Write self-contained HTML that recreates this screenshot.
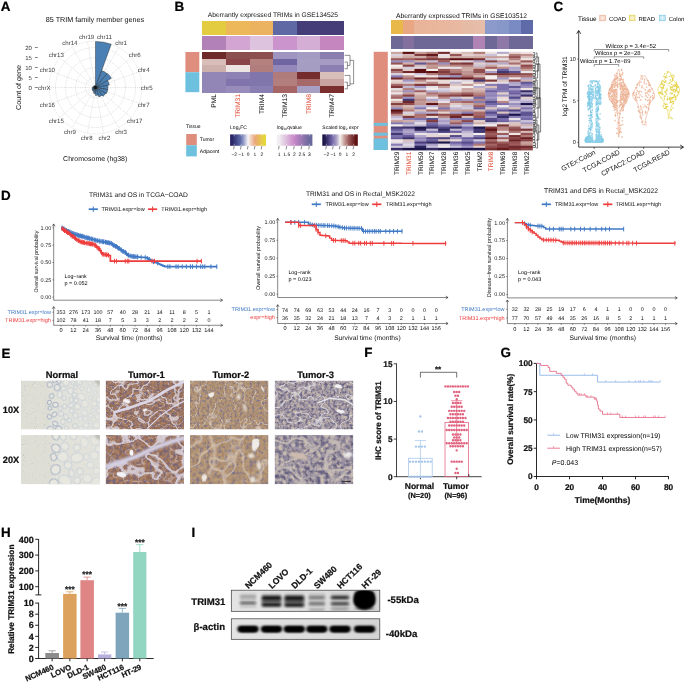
<!DOCTYPE html>
<html lang="en">
<head>
<meta charset="utf-8">
<title>TRIM31 figure</title>
<style>
html,body{margin:0;padding:0;background:#fff;}
body{width:685px;height:684px;overflow:hidden;}
svg{display:block;font-family:"Liberation Sans",Arial,Helvetica,sans-serif;text-rendering:geometricPrecision;}
</style>
</head>
<body>
<svg width="685" height="684" viewBox="0 0 685 684">
<rect x="0" y="0" width="685" height="684" fill="#ffffff"/>
<g id="panelA">
<text x="0.80" y="11.20" font-size="13.4" font-weight="bold" stroke="#000" stroke-width="0.22" fill="#000">A</text>
<text x="95.00" y="22.40" font-size="7.21" text-anchor="middle" fill="#111">85 TRIM family member  genes</text>
<circle cx="95.5" cy="87.5" r="10.00" fill="none" stroke="#bdbdbd" stroke-width="0.5" stroke-dasharray="0.9 0.9"/>
<circle cx="95.5" cy="87.5" r="20.00" fill="none" stroke="#bdbdbd" stroke-width="0.5" stroke-dasharray="0.9 0.9"/>
<circle cx="95.5" cy="87.5" r="30.00" fill="none" stroke="#bdbdbd" stroke-width="0.5" stroke-dasharray="0.9 0.9"/>
<circle cx="95.5" cy="87.5" r="40.00" fill="none" stroke="#bdbdbd" stroke-width="0.5" stroke-dasharray="0.9 0.9"/>
<circle cx="95.5" cy="87.5" r="46.40" fill="none" stroke="#c4c4c4" stroke-width="0.5" stroke-dasharray="0.9 0.9"/>
<line x1="95.50" y1="87.50" x2="103.56" y2="41.80" stroke="#c0c0c0" stroke-width="0.5" stroke-dasharray="0.9 0.9"/>
<line x1="95.50" y1="87.50" x2="118.70" y2="47.32" stroke="#c0c0c0" stroke-width="0.5" stroke-dasharray="0.9 0.9"/>
<line x1="95.50" y1="87.50" x2="131.04" y2="57.67" stroke="#c0c0c0" stroke-width="0.5" stroke-dasharray="0.9 0.9"/>
<line x1="95.50" y1="87.50" x2="139.10" y2="71.63" stroke="#c0c0c0" stroke-width="0.5" stroke-dasharray="0.9 0.9"/>
<line x1="95.50" y1="87.50" x2="141.90" y2="87.50" stroke="#c0c0c0" stroke-width="0.5" stroke-dasharray="0.9 0.9"/>
<line x1="95.50" y1="87.50" x2="139.10" y2="103.37" stroke="#c0c0c0" stroke-width="0.5" stroke-dasharray="0.9 0.9"/>
<line x1="95.50" y1="87.50" x2="131.04" y2="117.33" stroke="#c0c0c0" stroke-width="0.5" stroke-dasharray="0.9 0.9"/>
<line x1="95.50" y1="87.50" x2="118.70" y2="127.68" stroke="#c0c0c0" stroke-width="0.5" stroke-dasharray="0.9 0.9"/>
<line x1="95.50" y1="87.50" x2="103.56" y2="133.20" stroke="#c0c0c0" stroke-width="0.5" stroke-dasharray="0.9 0.9"/>
<line x1="95.50" y1="87.50" x2="87.44" y2="133.20" stroke="#c0c0c0" stroke-width="0.5" stroke-dasharray="0.9 0.9"/>
<line x1="95.50" y1="87.50" x2="72.30" y2="127.68" stroke="#c0c0c0" stroke-width="0.5" stroke-dasharray="0.9 0.9"/>
<line x1="95.50" y1="87.50" x2="59.96" y2="117.33" stroke="#c0c0c0" stroke-width="0.5" stroke-dasharray="0.9 0.9"/>
<line x1="95.50" y1="87.50" x2="51.90" y2="103.37" stroke="#c0c0c0" stroke-width="0.5" stroke-dasharray="0.9 0.9"/>
<line x1="95.50" y1="87.50" x2="49.10" y2="87.50" stroke="#c0c0c0" stroke-width="0.5" stroke-dasharray="0.9 0.9"/>
<line x1="95.50" y1="87.50" x2="51.90" y2="71.63" stroke="#c0c0c0" stroke-width="0.5" stroke-dasharray="0.9 0.9"/>
<line x1="95.50" y1="87.50" x2="59.96" y2="57.67" stroke="#c0c0c0" stroke-width="0.5" stroke-dasharray="0.9 0.9"/>
<line x1="95.50" y1="87.50" x2="72.30" y2="47.32" stroke="#c0c0c0" stroke-width="0.5" stroke-dasharray="0.9 0.9"/>
<line x1="95.50" y1="87.50" x2="87.44" y2="41.80" stroke="#c0c0c0" stroke-width="0.5" stroke-dasharray="0.9 0.9"/>
<path d="M95.5,87.5 L95.50,41.50 A46.00,46.00 0 0 1 111.23,44.27 Z" fill="#4a80b4" stroke="#1a1a1a" stroke-width="0.4" stroke-linejoin="round"/>
<path d="M95.5,87.5 L101.66,70.59 A18.00,18.00 0 0 1 107.07,73.71 Z" fill="#4a80b4" stroke="#1a1a1a" stroke-width="0.4" stroke-linejoin="round"/>
<path d="M95.5,87.5 L107.33,73.40 A18.40,18.40 0 0 1 111.43,78.30 Z" fill="#4a80b4" stroke="#1a1a1a" stroke-width="0.4" stroke-linejoin="round"/>
<path d="M95.5,87.5 L107.62,80.50 A14.00,14.00 0 0 1 109.29,85.07 Z" fill="#4a80b4" stroke="#1a1a1a" stroke-width="0.4" stroke-linejoin="round"/>
<path d="M95.5,87.5 L107.71,85.35 A12.40,12.40 0 0 1 107.71,89.65 Z" fill="#4a80b4" stroke="#1a1a1a" stroke-width="0.4" stroke-linejoin="round"/>
<path d="M95.5,87.5 L107.71,89.65 A12.40,12.40 0 0 1 106.24,93.70 Z" fill="#4a80b4" stroke="#1a1a1a" stroke-width="0.4" stroke-linejoin="round"/>
<path d="M95.5,87.5 L105.55,93.30 A11.60,11.60 0 0 1 102.96,96.39 Z" fill="#4a80b4" stroke="#1a1a1a" stroke-width="0.4" stroke-linejoin="round"/>
<path d="M95.5,87.5 L101.93,95.16 A10.00,10.00 0 0 1 98.92,96.90 Z" fill="#4a80b4" stroke="#1a1a1a" stroke-width="0.4" stroke-linejoin="round"/>
<path d="M95.5,87.5 L98.24,95.02 A8.00,8.00 0 0 1 95.50,95.50 Z" fill="#4a80b4" stroke="#1a1a1a" stroke-width="0.4" stroke-linejoin="round"/>
<path d="M95.5,87.5 L95.50,93.50 A6.00,6.00 0 0 1 93.45,93.14 Z" fill="#4a80b4" stroke="#1a1a1a" stroke-width="0.4" stroke-linejoin="round"/>
<path d="M95.5,87.5 L94.00,91.63 A4.40,4.40 0 0 1 92.67,90.87 Z" fill="#4a80b4" stroke="#1a1a1a" stroke-width="0.4" stroke-linejoin="round"/>
<path d="M95.5,87.5 L92.93,90.56 A4.00,4.00 0 0 1 92.04,89.50 Z" fill="#4a80b4" stroke="#1a1a1a" stroke-width="0.4" stroke-linejoin="round"/>
<path d="M95.5,87.5 L92.56,89.20 A3.40,3.40 0 0 1 92.15,88.09 Z" fill="#4a80b4" stroke="#1a1a1a" stroke-width="0.4" stroke-linejoin="round"/>
<path d="M95.5,87.5 L92.55,88.02 A3.00,3.00 0 0 1 92.55,86.98 Z" fill="#4a80b4" stroke="#1a1a1a" stroke-width="0.4" stroke-linejoin="round"/>
<path d="M95.5,87.5 L93.14,87.08 A2.40,2.40 0 0 1 93.42,86.30 Z" fill="#4a80b4" stroke="#1a1a1a" stroke-width="0.4" stroke-linejoin="round"/>
<path d="M95.5,87.5 L93.77,86.50 A2.00,2.00 0 0 1 94.21,85.97 Z" fill="#4a80b4" stroke="#1a1a1a" stroke-width="0.4" stroke-linejoin="round"/>
<path d="M95.5,87.5 L94.21,85.97 A2.00,2.00 0 0 1 94.82,85.62 Z" fill="#4a80b4" stroke="#1a1a1a" stroke-width="0.4" stroke-linejoin="round"/>
<path d="M95.5,87.5 L94.82,85.62 A2.00,2.00 0 0 1 95.50,85.50 Z" fill="#4a80b4" stroke="#1a1a1a" stroke-width="0.4" stroke-linejoin="round"/>
<circle cx="95.5" cy="87.5" r="1.6" fill="#111"/>
<text x="104.39" y="39.18" font-size="6.1" text-anchor="middle" fill="#3a3a3a">chr11</text>
<text x="121.10" y="45.26" font-size="6.1" text-anchor="middle" fill="#3a3a3a">chr1</text>
<text x="134.72" y="56.69" font-size="6.1" text-anchor="middle" fill="#3a3a3a">chr6</text>
<text x="143.61" y="72.09" font-size="6.1" text-anchor="middle" fill="#3a3a3a">chr4</text>
<text x="146.70" y="89.60" font-size="6.1" text-anchor="middle" fill="#3a3a3a">chr5</text>
<text x="143.61" y="107.11" font-size="6.1" text-anchor="middle" fill="#3a3a3a">chr7</text>
<text x="134.72" y="122.51" font-size="6.1" text-anchor="middle" fill="#3a3a3a">chr17</text>
<text x="121.10" y="133.94" font-size="6.1" text-anchor="middle" fill="#3a3a3a">chr3</text>
<text x="104.39" y="140.02" font-size="6.1" text-anchor="middle" fill="#3a3a3a">chr2</text>
<text x="86.61" y="140.02" font-size="6.1" text-anchor="middle" fill="#3a3a3a">chr8</text>
<text x="69.90" y="133.94" font-size="6.1" text-anchor="middle" fill="#3a3a3a">chr9</text>
<text x="56.28" y="122.51" font-size="6.1" text-anchor="middle" fill="#3a3a3a">chr15</text>
<text x="47.39" y="107.11" font-size="6.1" text-anchor="middle" fill="#3a3a3a">chr16</text>
<text x="44.30" y="89.60" font-size="6.1" text-anchor="middle" fill="#3a3a3a">chrX</text>
<text x="47.39" y="72.09" font-size="6.1" text-anchor="middle" fill="#3a3a3a">chr10</text>
<text x="56.28" y="56.69" font-size="6.1" text-anchor="middle" fill="#3a3a3a">chr13</text>
<text x="69.90" y="45.26" font-size="6.1" text-anchor="middle" fill="#3a3a3a">chr14</text>
<text x="86.61" y="39.18" font-size="6.1" text-anchor="middle" fill="#3a3a3a">chr19</text>
<text x="31.90" y="89.60" font-size="6.0" text-anchor="end" fill="#3a3a3a">0</text>
<line x1="34.80" y1="87.50" x2="37.80" y2="87.50" stroke="#333" stroke-width="0.6"/>
<text x="31.90" y="79.60" font-size="6.0" text-anchor="end" fill="#3a3a3a">5</text>
<line x1="34.80" y1="77.50" x2="37.80" y2="77.50" stroke="#333" stroke-width="0.6"/>
<text x="31.90" y="69.60" font-size="6.0" text-anchor="end" fill="#3a3a3a">10</text>
<line x1="34.80" y1="67.50" x2="37.80" y2="67.50" stroke="#333" stroke-width="0.6"/>
<text x="31.90" y="59.60" font-size="6.0" text-anchor="end" fill="#3a3a3a">15</text>
<line x1="34.80" y1="57.50" x2="37.80" y2="57.50" stroke="#333" stroke-width="0.6"/>
<text x="31.90" y="49.60" font-size="6.0" text-anchor="end" fill="#3a3a3a">20</text>
<line x1="34.80" y1="47.50" x2="37.80" y2="47.50" stroke="#333" stroke-width="0.6"/>
<text x="20.60" y="87.50" font-size="7.15" text-anchor="middle" fill="#111" transform="rotate(-90 20.60 87.50)">Count of gene</text>
<text x="95.20" y="160.60" font-size="7.0" text-anchor="middle" fill="#111">Chromosome (hg38)</text>
</g>
<g id="panelB">
<text x="174.60" y="11.00" font-size="13.4" font-weight="bold" stroke="#000" stroke-width="0.22" fill="#000">B</text>
<text x="207.80" y="17.40" font-size="6.71" fill="#111">Aberrantly expressed TRIMs in GSE134525</text>
<rect x="202.30" y="20.60" width="23.90" height="14.20" fill="#e3cc3f" shape-rendering="crispEdges"/>
<rect x="202.30" y="36.00" width="23.90" height="13.70" fill="#b281b8" shape-rendering="crispEdges"/>
<rect x="225.90" y="20.60" width="23.90" height="14.20" fill="#edb85a" shape-rendering="crispEdges"/>
<rect x="225.90" y="36.00" width="23.90" height="13.70" fill="#d2a5d2" shape-rendering="crispEdges"/>
<rect x="249.50" y="20.60" width="23.90" height="14.20" fill="#ebb35f" shape-rendering="crispEdges"/>
<rect x="249.50" y="36.00" width="23.90" height="13.70" fill="#ddc3dd" shape-rendering="crispEdges"/>
<rect x="273.10" y="20.60" width="23.90" height="14.20" fill="#5f6aa5" shape-rendering="crispEdges"/>
<rect x="273.10" y="36.00" width="23.90" height="13.70" fill="#cc94cc" shape-rendering="crispEdges"/>
<rect x="296.70" y="20.60" width="23.90" height="14.20" fill="#453d78" shape-rendering="crispEdges"/>
<rect x="296.70" y="36.00" width="23.90" height="13.70" fill="#d4aed4" shape-rendering="crispEdges"/>
<rect x="320.30" y="20.60" width="23.90" height="14.20" fill="#453d78" shape-rendering="crispEdges"/>
<rect x="320.30" y="36.00" width="23.90" height="13.70" fill="#c586c0" shape-rendering="crispEdges"/>
<rect x="202.30" y="52.00" width="23.90" height="7.00" fill="#6e2a2a" shape-rendering="crispEdges"/>
<rect x="225.90" y="52.00" width="23.90" height="7.00" fill="#8c4f4f" shape-rendering="crispEdges"/>
<rect x="249.50" y="52.00" width="23.90" height="7.00" fill="#8c4f4f" shape-rendering="crispEdges"/>
<rect x="273.10" y="52.00" width="23.90" height="7.00" fill="#a094c0" shape-rendering="crispEdges"/>
<rect x="296.70" y="52.00" width="23.90" height="7.00" fill="#a59cc3" shape-rendering="crispEdges"/>
<rect x="320.30" y="52.00" width="23.90" height="7.00" fill="#8b7fb0" shape-rendering="crispEdges"/>
<rect x="202.30" y="58.70" width="23.90" height="7.00" fill="#d9bdb8" shape-rendering="crispEdges"/>
<rect x="225.90" y="58.70" width="23.90" height="7.00" fill="#8a4646" shape-rendering="crispEdges"/>
<rect x="249.50" y="58.70" width="23.90" height="7.00" fill="#b58080" shape-rendering="crispEdges"/>
<rect x="273.10" y="58.70" width="23.90" height="7.00" fill="#6f65a3" shape-rendering="crispEdges"/>
<rect x="296.70" y="58.70" width="23.90" height="7.00" fill="#a79ec4" shape-rendering="crispEdges"/>
<rect x="320.30" y="58.70" width="23.90" height="7.00" fill="#a59bc3" shape-rendering="crispEdges"/>
<rect x="202.30" y="65.40" width="23.90" height="7.00" fill="#cdb0ab" shape-rendering="crispEdges"/>
<rect x="225.90" y="65.40" width="23.90" height="7.00" fill="#ebe4e1" shape-rendering="crispEdges"/>
<rect x="249.50" y="65.40" width="23.90" height="7.00" fill="#b07c7c" shape-rendering="crispEdges"/>
<rect x="273.10" y="65.40" width="23.90" height="7.00" fill="#9488ba" shape-rendering="crispEdges"/>
<rect x="296.70" y="65.40" width="23.90" height="7.00" fill="#a69dc3" shape-rendering="crispEdges"/>
<rect x="320.30" y="65.40" width="23.90" height="7.00" fill="#8c80b2" shape-rendering="crispEdges"/>
<rect x="202.30" y="72.10" width="23.90" height="7.00" fill="#9186b5" shape-rendering="crispEdges"/>
<rect x="225.90" y="72.10" width="23.90" height="7.00" fill="#8d82b3" shape-rendering="crispEdges"/>
<rect x="249.50" y="72.10" width="23.90" height="7.00" fill="#8176ab" shape-rendering="crispEdges"/>
<rect x="273.10" y="72.10" width="23.90" height="7.00" fill="#b07b7b" shape-rendering="crispEdges"/>
<rect x="296.70" y="72.10" width="23.90" height="7.00" fill="#742c2c" shape-rendering="crispEdges"/>
<rect x="320.30" y="72.10" width="23.90" height="7.00" fill="#d9bfba" shape-rendering="crispEdges"/>
<rect x="202.30" y="78.80" width="23.90" height="7.00" fill="#9186b5" shape-rendering="crispEdges"/>
<rect x="225.90" y="78.80" width="23.90" height="7.00" fill="#7f74ab" shape-rendering="crispEdges"/>
<rect x="249.50" y="78.80" width="23.90" height="7.00" fill="#8176ab" shape-rendering="crispEdges"/>
<rect x="273.10" y="78.80" width="23.90" height="7.00" fill="#b27e7e" shape-rendering="crispEdges"/>
<rect x="296.70" y="78.80" width="23.90" height="7.00" fill="#a66868" shape-rendering="crispEdges"/>
<rect x="320.30" y="78.80" width="23.90" height="7.00" fill="#c9a39f" shape-rendering="crispEdges"/>
<rect x="202.30" y="85.50" width="23.90" height="7.00" fill="#9186b5" shape-rendering="crispEdges"/>
<rect x="225.90" y="85.50" width="23.90" height="7.00" fill="#988dba" shape-rendering="crispEdges"/>
<rect x="249.50" y="85.50" width="23.90" height="7.00" fill="#8a7fb2" shape-rendering="crispEdges"/>
<rect x="273.10" y="85.50" width="23.90" height="7.00" fill="#a56565" shape-rendering="crispEdges"/>
<rect x="296.70" y="85.50" width="23.90" height="7.00" fill="#a89fc5" shape-rendering="crispEdges"/>
<rect x="320.30" y="85.50" width="23.90" height="7.00" fill="#7a2e2e" shape-rendering="crispEdges"/>
<rect x="185.40" y="52.00" width="13.90" height="20.20" fill="#df8e7e"/>
<rect x="185.40" y="72.20" width="13.90" height="20.00" fill="#6dc1df"/>
<line x1="344.60" y1="62.05" x2="347.40" y2="62.05" stroke="#333" stroke-width="0.55"/>
<line x1="344.60" y1="68.75" x2="347.40" y2="68.75" stroke="#333" stroke-width="0.55"/>
<line x1="347.40" y1="62.05" x2="347.40" y2="68.75" stroke="#333" stroke-width="0.55"/>
<line x1="344.60" y1="55.35" x2="350.00" y2="55.35" stroke="#333" stroke-width="0.55"/>
<line x1="347.40" y1="65.40" x2="350.00" y2="65.40" stroke="#333" stroke-width="0.55"/>
<line x1="350.00" y1="55.35" x2="350.00" y2="65.40" stroke="#333" stroke-width="0.55"/>
<line x1="344.60" y1="82.15" x2="347.40" y2="82.15" stroke="#333" stroke-width="0.55"/>
<line x1="344.60" y1="88.85" x2="347.40" y2="88.85" stroke="#333" stroke-width="0.55"/>
<line x1="347.40" y1="82.15" x2="347.40" y2="88.85" stroke="#333" stroke-width="0.55"/>
<line x1="350.00" y1="60.38" x2="353.60" y2="60.38" stroke="#333" stroke-width="0.55"/>
<line x1="350.00" y1="83.83" x2="353.60" y2="83.83" stroke="#333" stroke-width="0.55"/>
<line x1="353.60" y1="60.38" x2="353.60" y2="83.83" stroke="#333" stroke-width="0.55"/>
<line x1="347.40" y1="85.50" x2="350.00" y2="85.50" stroke="#333" stroke-width="0.55"/>
<line x1="344.60" y1="75.45" x2="350.00" y2="75.45" stroke="#333" stroke-width="0.55"/>
<line x1="350.00" y1="75.45" x2="350.00" y2="85.50" stroke="#333" stroke-width="0.55"/>
<text x="216.40" y="94.00" font-size="6.7" text-anchor="end" fill="#000" transform="rotate(-90 216.40 94.00)">PML</text>
<text x="240.00" y="94.00" font-size="6.7" text-anchor="end" fill="#e0452e" transform="rotate(-90 240.00 94.00)">TRIM31</text>
<text x="263.60" y="94.00" font-size="6.7" text-anchor="end" fill="#000" transform="rotate(-90 263.60 94.00)">TRIM4</text>
<text x="287.20" y="94.00" font-size="6.7" text-anchor="end" fill="#000" transform="rotate(-90 287.20 94.00)">TRIM13</text>
<text x="310.80" y="94.00" font-size="6.7" text-anchor="end" fill="#e0452e" transform="rotate(-90 310.80 94.00)">TRIM8</text>
<text x="334.40" y="94.00" font-size="6.7" text-anchor="end" fill="#000" transform="rotate(-90 334.40 94.00)">TRIM47</text>
<text x="186.00" y="128.20" font-size="5.0" fill="#000">Tissue</text>
<rect x="186.20" y="134.00" width="10.60" height="11.20" fill="#df8e7e"/>
<rect x="186.20" y="145.20" width="10.60" height="11.20" fill="#6dc1df"/>
<text x="199.80" y="141.20" font-size="5.0" fill="#000">Tumor</text>
<text x="199.80" y="152.60" font-size="5.0" fill="#000">Adjacent</text>
<defs><linearGradient id="gFC" x1="0" x2="1" y1="0" y2="0"><stop offset="0%" stop-color="#282664"/><stop offset="5%" stop-color="#282664"/><stop offset="10%" stop-color="#323371"/><stop offset="15%" stop-color="#3e4180"/><stop offset="20%" stop-color="#4a508f"/><stop offset="25%" stop-color="#565f9e"/><stop offset="30%" stop-color="#626ead"/><stop offset="35%" stop-color="#848dbf"/><stop offset="40%" stop-color="#aaafd1"/><stop offset="45%" stop-color="#d0d2e4"/><stop offset="50%" stop-color="#f6f4f6"/><stop offset="55%" stop-color="#f3dfd5"/><stop offset="60%" stop-color="#f0cbb4"/><stop offset="65%" stop-color="#edb694"/><stop offset="70%" stop-color="#eaa776"/><stop offset="75%" stop-color="#e9b069"/><stop offset="80%" stop-color="#e7ba5c"/><stop offset="85%" stop-color="#e6c450"/><stop offset="90%" stop-color="#e5ce43"/><stop offset="95%" stop-color="#e4d638"/><stop offset="100%" stop-color="#e4d638"/></linearGradient></defs>
<defs><linearGradient id="gQV" x1="0" x2="1" y1="0" y2="0"><stop offset="0%" stop-color="#f0eef0"/><stop offset="5%" stop-color="#f0eef0"/><stop offset="10%" stop-color="#ede5ed"/><stop offset="15%" stop-color="#e8d9e8"/><stop offset="20%" stop-color="#e3cde3"/><stop offset="25%" stop-color="#dec1de"/><stop offset="30%" stop-color="#dab5da"/><stop offset="35%" stop-color="#d5a9d5"/><stop offset="40%" stop-color="#d09dd0"/><stop offset="45%" stop-color="#cc91cc"/><stop offset="50%" stop-color="#c686c7"/><stop offset="55%" stop-color="#ba83c2"/><stop offset="60%" stop-color="#af7fbc"/><stop offset="65%" stop-color="#a47cb7"/><stop offset="70%" stop-color="#9978b2"/><stop offset="75%" stop-color="#8e75ac"/><stop offset="80%" stop-color="#8371a7"/><stop offset="85%" stop-color="#776ea2"/><stop offset="90%" stop-color="#6c6a9d"/><stop offset="95%" stop-color="#69699b"/><stop offset="100%" stop-color="#69699b"/></linearGradient></defs>
<defs><linearGradient id="gEX" x1="0" x2="1" y1="0" y2="0"><stop offset="0%" stop-color="#1b1549"/><stop offset="5%" stop-color="#1b1549"/><stop offset="10%" stop-color="#2c255b"/><stop offset="15%" stop-color="#403771"/><stop offset="20%" stop-color="#544a87"/><stop offset="25%" stop-color="#685d9d"/><stop offset="30%" stop-color="#7e72ad"/><stop offset="35%" stop-color="#9489ba"/><stop offset="40%" stop-color="#aca2c8"/><stop offset="45%" stop-color="#d1c9db"/><stop offset="50%" stop-color="#f5f0ee"/><stop offset="55%" stop-color="#e2cfcb"/><stop offset="60%" stop-color="#cfaea9"/><stop offset="65%" stop-color="#bd8f8c"/><stop offset="70%" stop-color="#ab7170"/><stop offset="75%" stop-color="#9a5858"/><stop offset="80%" stop-color="#8a4546"/><stop offset="85%" stop-color="#7a3234"/><stop offset="90%" stop-color="#6a2021"/><stop offset="95%" stop-color="#5c1012"/><stop offset="100%" stop-color="#5c1012"/></linearGradient></defs>
<rect x="230.10" y="134.40" width="35.90" height="11.40" fill="url(#gFC)"/>
<text x="230.10" y="129.00" font-size="5.0" fill="#000">Log<tspan font-size="3.2" dy="1.1">2</tspan><tspan dy="-1.1" font-size="3.2">&#8203;</tspan>FC</text>
<line x1="234.24" y1="134.40" x2="234.24" y2="136.40" stroke="#fff" stroke-width="0.4"/>
<line x1="234.24" y1="143.80" x2="234.24" y2="145.80" stroke="#fff" stroke-width="0.4"/>
<line x1="234.24" y1="146.00" x2="233.54" y2="149.40" stroke="#111" stroke-width="0.5"/>
<text x="234.24" y="155.90" font-size="4.9" text-anchor="middle" fill="#000">−2</text>
<line x1="241.15" y1="134.40" x2="241.15" y2="136.40" stroke="#fff" stroke-width="0.4"/>
<line x1="241.15" y1="143.80" x2="241.15" y2="145.80" stroke="#fff" stroke-width="0.4"/>
<line x1="241.15" y1="146.00" x2="240.45" y2="149.40" stroke="#111" stroke-width="0.5"/>
<text x="241.15" y="155.90" font-size="4.9" text-anchor="middle" fill="#000">−1</text>
<line x1="248.05" y1="134.40" x2="248.05" y2="136.40" stroke="#fff" stroke-width="0.4"/>
<line x1="248.05" y1="143.80" x2="248.05" y2="145.80" stroke="#fff" stroke-width="0.4"/>
<line x1="248.05" y1="146.00" x2="247.35" y2="149.40" stroke="#111" stroke-width="0.5"/>
<text x="248.05" y="155.90" font-size="4.9" text-anchor="middle" fill="#000">0</text>
<line x1="254.95" y1="134.40" x2="254.95" y2="136.40" stroke="#fff" stroke-width="0.4"/>
<line x1="254.95" y1="143.80" x2="254.95" y2="145.80" stroke="#fff" stroke-width="0.4"/>
<line x1="254.95" y1="146.00" x2="254.25" y2="149.40" stroke="#111" stroke-width="0.5"/>
<text x="254.95" y="155.90" font-size="4.9" text-anchor="middle" fill="#000">1</text>
<line x1="261.86" y1="134.40" x2="261.86" y2="136.40" stroke="#fff" stroke-width="0.4"/>
<line x1="261.86" y1="143.80" x2="261.86" y2="145.80" stroke="#fff" stroke-width="0.4"/>
<line x1="261.86" y1="146.00" x2="261.16" y2="149.40" stroke="#111" stroke-width="0.5"/>
<text x="261.86" y="155.90" font-size="4.9" text-anchor="middle" fill="#000">2</text>
<rect x="276.90" y="134.40" width="35.50" height="11.40" fill="url(#gQV)"/>
<text x="276.90" y="129.00" font-size="5.0" fill="#000">log<tspan font-size="3.2" dy="1.1">10</tspan><tspan dy="-1.1" font-size="3.2">&#8203;</tspan>qvalue</text>
<line x1="279.17" y1="134.40" x2="279.17" y2="136.40" stroke="#fff" stroke-width="0.4"/>
<line x1="279.17" y1="143.80" x2="279.17" y2="145.80" stroke="#fff" stroke-width="0.4"/>
<line x1="279.17" y1="146.00" x2="278.47" y2="149.40" stroke="#111" stroke-width="0.5"/>
<text x="279.17" y="155.90" font-size="4.9" text-anchor="middle" fill="#000">1</text>
<line x1="286.72" y1="134.40" x2="286.72" y2="136.40" stroke="#fff" stroke-width="0.4"/>
<line x1="286.72" y1="143.80" x2="286.72" y2="145.80" stroke="#fff" stroke-width="0.4"/>
<line x1="286.72" y1="146.00" x2="286.02" y2="149.40" stroke="#111" stroke-width="0.5"/>
<text x="286.72" y="155.90" font-size="4.9" text-anchor="middle" fill="#000">1.5</text>
<line x1="294.27" y1="134.40" x2="294.27" y2="136.40" stroke="#fff" stroke-width="0.4"/>
<line x1="294.27" y1="143.80" x2="294.27" y2="145.80" stroke="#fff" stroke-width="0.4"/>
<line x1="294.27" y1="146.00" x2="293.57" y2="149.40" stroke="#111" stroke-width="0.5"/>
<text x="294.27" y="155.90" font-size="4.9" text-anchor="middle" fill="#000">2</text>
<line x1="301.83" y1="134.40" x2="301.83" y2="136.40" stroke="#fff" stroke-width="0.4"/>
<line x1="301.83" y1="143.80" x2="301.83" y2="145.80" stroke="#fff" stroke-width="0.4"/>
<line x1="301.83" y1="146.00" x2="301.13" y2="149.40" stroke="#111" stroke-width="0.5"/>
<text x="301.83" y="155.90" font-size="4.9" text-anchor="middle" fill="#000">2.5</text>
<line x1="309.38" y1="134.40" x2="309.38" y2="136.40" stroke="#fff" stroke-width="0.4"/>
<line x1="309.38" y1="143.80" x2="309.38" y2="145.80" stroke="#fff" stroke-width="0.4"/>
<line x1="309.38" y1="146.00" x2="308.68" y2="149.40" stroke="#111" stroke-width="0.5"/>
<text x="309.38" y="155.90" font-size="4.9" text-anchor="middle" fill="#000">3</text>
<rect x="322.30" y="134.40" width="35.50" height="11.40" fill="url(#gEX)"/>
<text x="322.30" y="129.00" font-size="5.0" fill="#000">Scaled log<tspan font-size="3.2" dy="1.1">2</tspan><tspan dy="-1.1" font-size="3.2">&#8203;</tspan> expr</text>
<line x1="326.40" y1="134.40" x2="326.40" y2="136.40" stroke="#fff" stroke-width="0.4"/>
<line x1="326.40" y1="143.80" x2="326.40" y2="145.80" stroke="#fff" stroke-width="0.4"/>
<line x1="326.40" y1="146.00" x2="325.70" y2="149.40" stroke="#111" stroke-width="0.5"/>
<text x="326.40" y="155.90" font-size="4.9" text-anchor="middle" fill="#000">−2</text>
<line x1="333.22" y1="134.40" x2="333.22" y2="136.40" stroke="#fff" stroke-width="0.4"/>
<line x1="333.22" y1="143.80" x2="333.22" y2="145.80" stroke="#fff" stroke-width="0.4"/>
<line x1="333.22" y1="146.00" x2="332.52" y2="149.40" stroke="#111" stroke-width="0.5"/>
<text x="333.22" y="155.90" font-size="4.9" text-anchor="middle" fill="#000">−1</text>
<line x1="340.05" y1="134.40" x2="340.05" y2="136.40" stroke="#fff" stroke-width="0.4"/>
<line x1="340.05" y1="143.80" x2="340.05" y2="145.80" stroke="#fff" stroke-width="0.4"/>
<line x1="340.05" y1="146.00" x2="339.35" y2="149.40" stroke="#111" stroke-width="0.5"/>
<text x="340.05" y="155.90" font-size="4.9" text-anchor="middle" fill="#000">0</text>
<line x1="346.88" y1="134.40" x2="346.88" y2="136.40" stroke="#fff" stroke-width="0.4"/>
<line x1="346.88" y1="143.80" x2="346.88" y2="145.80" stroke="#fff" stroke-width="0.4"/>
<line x1="346.88" y1="146.00" x2="346.18" y2="149.40" stroke="#111" stroke-width="0.5"/>
<text x="346.88" y="155.90" font-size="4.9" text-anchor="middle" fill="#000">1</text>
<line x1="353.70" y1="134.40" x2="353.70" y2="136.40" stroke="#fff" stroke-width="0.4"/>
<line x1="353.70" y1="143.80" x2="353.70" y2="145.80" stroke="#fff" stroke-width="0.4"/>
<line x1="353.70" y1="146.00" x2="353.00" y2="149.40" stroke="#111" stroke-width="0.5"/>
<text x="353.70" y="155.90" font-size="4.9" text-anchor="middle" fill="#000">2</text>
<text x="396.00" y="17.60" font-size="6.74" fill="#111">Aberrantly expressed TRIMs in GSE103512</text>
<rect x="390.90" y="19.70" width="12.09" height="14.00" fill="#e8b84b" shape-rendering="crispEdges"/>
<rect x="390.90" y="35.50" width="12.09" height="13.50" fill="#6e6896" shape-rendering="crispEdges"/>
<rect x="402.69" y="19.70" width="12.09" height="14.00" fill="#e9a683" shape-rendering="crispEdges"/>
<rect x="402.69" y="35.50" width="12.09" height="13.50" fill="#84709f" shape-rendering="crispEdges"/>
<rect x="414.48" y="19.70" width="12.09" height="14.00" fill="#e8b49a" shape-rendering="crispEdges"/>
<rect x="414.48" y="35.50" width="12.09" height="13.50" fill="#6e6896" shape-rendering="crispEdges"/>
<rect x="426.27" y="19.70" width="12.09" height="14.00" fill="#e9b69c" shape-rendering="crispEdges"/>
<rect x="426.27" y="35.50" width="12.09" height="13.50" fill="#6e6896" shape-rendering="crispEdges"/>
<rect x="438.07" y="19.70" width="12.09" height="14.00" fill="#e9b79e" shape-rendering="crispEdges"/>
<rect x="438.07" y="35.50" width="12.09" height="13.50" fill="#6e6896" shape-rendering="crispEdges"/>
<rect x="449.86" y="19.70" width="12.09" height="14.00" fill="#e8b8a0" shape-rendering="crispEdges"/>
<rect x="449.86" y="35.50" width="12.09" height="13.50" fill="#6e6896" shape-rendering="crispEdges"/>
<rect x="461.65" y="19.70" width="12.09" height="14.00" fill="#e6bba6" shape-rendering="crispEdges"/>
<rect x="461.65" y="35.50" width="12.09" height="13.50" fill="#6e6896" shape-rendering="crispEdges"/>
<rect x="473.44" y="19.70" width="12.09" height="14.00" fill="#e5bda9" shape-rendering="crispEdges"/>
<rect x="473.44" y="35.50" width="12.09" height="13.50" fill="#b083b5" shape-rendering="crispEdges"/>
<rect x="485.23" y="19.70" width="12.09" height="14.00" fill="#8b9acb" shape-rendering="crispEdges"/>
<rect x="485.23" y="35.50" width="12.09" height="13.50" fill="#6e6896" shape-rendering="crispEdges"/>
<rect x="497.02" y="19.70" width="12.09" height="14.00" fill="#8797c8" shape-rendering="crispEdges"/>
<rect x="497.02" y="35.50" width="12.09" height="13.50" fill="#8e78a8" shape-rendering="crispEdges"/>
<rect x="508.82" y="19.70" width="12.09" height="14.00" fill="#7a8ac2" shape-rendering="crispEdges"/>
<rect x="508.82" y="35.50" width="12.09" height="13.50" fill="#6e6896" shape-rendering="crispEdges"/>
<rect x="520.61" y="19.70" width="12.09" height="14.00" fill="#5e6ba8" shape-rendering="crispEdges"/>
<rect x="520.61" y="35.50" width="12.09" height="13.50" fill="#6e6896" shape-rendering="crispEdges"/>
<rect x="390.90" y="51.80" width="12.19" height="2.53" fill="#c9a49f"/>
<rect x="402.69" y="51.80" width="12.19" height="2.53" fill="#5c1012"/>
<rect x="414.48" y="51.80" width="12.19" height="2.53" fill="#c69e9a"/>
<rect x="426.27" y="51.80" width="12.19" height="2.53" fill="#b5817f"/>
<rect x="438.07" y="51.80" width="12.19" height="2.53" fill="#742c2e"/>
<rect x="449.86" y="51.80" width="12.19" height="2.53" fill="#e6d5d2"/>
<rect x="461.65" y="51.80" width="12.19" height="2.53" fill="#d6bab6"/>
<rect x="473.44" y="51.80" width="12.19" height="2.53" fill="#b17b79"/>
<rect x="485.23" y="51.80" width="12.19" height="2.53" fill="#ece1de"/>
<rect x="497.02" y="51.80" width="12.19" height="2.53" fill="#b4abcc"/>
<rect x="508.82" y="51.80" width="12.19" height="2.53" fill="#e6d6d3"/>
<rect x="520.61" y="51.80" width="12.19" height="2.53" fill="#eee3e1"/>
<rect x="390.90" y="53.93" width="12.19" height="2.53" fill="#d9d2df"/>
<rect x="402.69" y="53.93" width="12.19" height="2.53" fill="#d4b6b2"/>
<rect x="414.48" y="53.93" width="12.19" height="2.53" fill="#803a3b"/>
<rect x="426.27" y="53.93" width="12.19" height="2.53" fill="#631819"/>
<rect x="438.07" y="53.93" width="12.19" height="2.53" fill="#e7e1e7"/>
<rect x="449.86" y="53.93" width="12.19" height="2.53" fill="#965353"/>
<rect x="461.65" y="53.93" width="12.19" height="2.53" fill="#e2cecb"/>
<rect x="473.44" y="53.93" width="12.19" height="2.53" fill="#dcc4c0"/>
<rect x="485.23" y="53.93" width="12.19" height="2.53" fill="#cac3d8"/>
<rect x="497.02" y="53.93" width="12.19" height="2.53" fill="#f5f0ee"/>
<rect x="508.82" y="53.93" width="12.19" height="2.53" fill="#b07a78"/>
<rect x="520.61" y="53.93" width="12.19" height="2.53" fill="#be908d"/>
<rect x="390.90" y="56.07" width="12.19" height="2.53" fill="#dcc5c1"/>
<rect x="402.69" y="56.07" width="12.19" height="2.53" fill="#caa5a1"/>
<rect x="414.48" y="56.07" width="12.19" height="2.53" fill="#d0aeaa"/>
<rect x="426.27" y="56.07" width="12.19" height="2.53" fill="#a56767"/>
<rect x="438.07" y="56.07" width="12.19" height="2.53" fill="#eadcd9"/>
<rect x="449.86" y="56.07" width="12.19" height="2.53" fill="#cba6a1"/>
<rect x="461.65" y="56.07" width="12.19" height="2.53" fill="#cfaea9"/>
<rect x="473.44" y="56.07" width="12.19" height="2.53" fill="#cdaaa5"/>
<rect x="485.23" y="56.07" width="12.19" height="2.53" fill="#c69f9a"/>
<rect x="497.02" y="56.07" width="12.19" height="2.53" fill="#c9a39e"/>
<rect x="508.82" y="56.07" width="12.19" height="2.53" fill="#945252"/>
<rect x="520.61" y="56.07" width="12.19" height="2.53" fill="#d6bbb6"/>
<rect x="390.90" y="58.20" width="12.19" height="2.53" fill="#985656"/>
<rect x="402.69" y="58.20" width="12.19" height="2.53" fill="#9f5e5e"/>
<rect x="414.48" y="58.20" width="12.19" height="2.53" fill="#874243"/>
<rect x="426.27" y="58.20" width="12.19" height="2.53" fill="#7c3637"/>
<rect x="438.07" y="58.20" width="12.19" height="2.53" fill="#803a3b"/>
<rect x="449.86" y="58.20" width="12.19" height="2.53" fill="#5c1012"/>
<rect x="461.65" y="58.20" width="12.19" height="2.53" fill="#5c1012"/>
<rect x="473.44" y="58.20" width="12.19" height="2.53" fill="#772f30"/>
<rect x="485.23" y="58.20" width="12.19" height="2.53" fill="#cec7da"/>
<rect x="497.02" y="58.20" width="12.19" height="2.53" fill="#e5dfe6"/>
<rect x="508.82" y="58.20" width="12.19" height="2.53" fill="#b4807e"/>
<rect x="520.61" y="58.20" width="12.19" height="2.53" fill="#ede3e0"/>
<rect x="390.90" y="60.34" width="12.19" height="2.53" fill="#978dbc"/>
<rect x="402.69" y="60.34" width="12.19" height="2.53" fill="#9e93c0"/>
<rect x="414.48" y="60.34" width="12.19" height="2.53" fill="#d0afab"/>
<rect x="426.27" y="60.34" width="12.19" height="2.53" fill="#c4bcd5"/>
<rect x="438.07" y="60.34" width="12.19" height="2.53" fill="#9c5b5b"/>
<rect x="449.86" y="60.34" width="12.19" height="2.53" fill="#e9dad7"/>
<rect x="461.65" y="60.34" width="12.19" height="2.53" fill="#dad4e0"/>
<rect x="473.44" y="60.34" width="12.19" height="2.53" fill="#a69cc5"/>
<rect x="485.23" y="60.34" width="12.19" height="2.53" fill="#864142"/>
<rect x="497.02" y="60.34" width="12.19" height="2.53" fill="#bc8e8b"/>
<rect x="508.82" y="60.34" width="12.19" height="2.53" fill="#d8bdb9"/>
<rect x="520.61" y="60.34" width="12.19" height="2.53" fill="#975555"/>
<rect x="390.90" y="62.47" width="12.19" height="2.53" fill="#965353"/>
<rect x="402.69" y="62.47" width="12.19" height="2.53" fill="#d0afab"/>
<rect x="414.48" y="62.47" width="12.19" height="2.53" fill="#625795"/>
<rect x="426.27" y="62.47" width="12.19" height="2.53" fill="#a76b6a"/>
<rect x="438.07" y="62.47" width="12.19" height="2.53" fill="#998fbd"/>
<rect x="449.86" y="62.47" width="12.19" height="2.53" fill="#874243"/>
<rect x="461.65" y="62.47" width="12.19" height="2.53" fill="#7b3435"/>
<rect x="473.44" y="62.47" width="12.19" height="2.53" fill="#e2ceca"/>
<rect x="485.23" y="62.47" width="12.19" height="2.53" fill="#cbc4d8"/>
<rect x="497.02" y="62.47" width="12.19" height="2.53" fill="#b5accd"/>
<rect x="508.82" y="62.47" width="12.19" height="2.53" fill="#a86c6b"/>
<rect x="520.61" y="62.47" width="12.19" height="2.53" fill="#dbc2be"/>
<rect x="390.90" y="64.61" width="12.19" height="2.53" fill="#f4efed"/>
<rect x="402.69" y="64.61" width="12.19" height="2.53" fill="#884343"/>
<rect x="414.48" y="64.61" width="12.19" height="2.53" fill="#d7bcb8"/>
<rect x="426.27" y="64.61" width="12.19" height="2.53" fill="#c49b97"/>
<rect x="438.07" y="64.61" width="12.19" height="2.53" fill="#c39995"/>
<rect x="449.86" y="64.61" width="12.19" height="2.53" fill="#b78683"/>
<rect x="461.65" y="64.61" width="12.19" height="2.53" fill="#b58280"/>
<rect x="473.44" y="64.61" width="12.19" height="2.53" fill="#cac2d7"/>
<rect x="485.23" y="64.61" width="12.19" height="2.53" fill="#cca8a4"/>
<rect x="497.02" y="64.61" width="12.19" height="2.53" fill="#e7d8d5"/>
<rect x="508.82" y="64.61" width="12.19" height="2.53" fill="#e5d3d0"/>
<rect x="520.61" y="64.61" width="12.19" height="2.53" fill="#8e4a4b"/>
<rect x="390.90" y="66.74" width="12.19" height="2.53" fill="#e8d9d6"/>
<rect x="402.69" y="66.74" width="12.19" height="2.53" fill="#d4cddd"/>
<rect x="414.48" y="66.74" width="12.19" height="2.53" fill="#ddd7e2"/>
<rect x="426.27" y="66.74" width="12.19" height="2.53" fill="#be918d"/>
<rect x="438.07" y="66.74" width="12.19" height="2.53" fill="#ebe6e9"/>
<rect x="449.86" y="66.74" width="12.19" height="2.53" fill="#e8e2e7"/>
<rect x="461.65" y="66.74" width="12.19" height="2.53" fill="#cca8a3"/>
<rect x="473.44" y="66.74" width="12.19" height="2.53" fill="#cba7a2"/>
<rect x="485.23" y="66.74" width="12.19" height="2.53" fill="#9f5e5e"/>
<rect x="497.02" y="66.74" width="12.19" height="2.53" fill="#bc8e8b"/>
<rect x="508.82" y="66.74" width="12.19" height="2.53" fill="#ada3c8"/>
<rect x="520.61" y="66.74" width="12.19" height="2.53" fill="#a76a69"/>
<rect x="390.90" y="68.88" width="12.19" height="2.53" fill="#8a4546"/>
<rect x="402.69" y="68.88" width="12.19" height="2.53" fill="#e0cbc8"/>
<rect x="414.48" y="68.88" width="12.19" height="2.53" fill="#5c1012"/>
<rect x="426.27" y="68.88" width="12.19" height="2.53" fill="#f3edeb"/>
<rect x="438.07" y="68.88" width="12.19" height="2.53" fill="#965454"/>
<rect x="449.86" y="68.88" width="12.19" height="2.53" fill="#b58280"/>
<rect x="461.65" y="68.88" width="12.19" height="2.53" fill="#ceaca7"/>
<rect x="473.44" y="68.88" width="12.19" height="2.53" fill="#924f50"/>
<rect x="485.23" y="68.88" width="12.19" height="2.53" fill="#ebdfdc"/>
<rect x="497.02" y="68.88" width="12.19" height="2.53" fill="#6b60a0"/>
<rect x="508.82" y="68.88" width="12.19" height="2.53" fill="#b3aacc"/>
<rect x="520.61" y="68.88" width="12.19" height="2.53" fill="#c7a09c"/>
<rect x="390.90" y="71.01" width="12.19" height="2.53" fill="#b17c7a"/>
<rect x="402.69" y="71.01" width="12.19" height="2.53" fill="#72292b"/>
<rect x="414.48" y="71.01" width="12.19" height="2.53" fill="#5c1012"/>
<rect x="426.27" y="71.01" width="12.19" height="2.53" fill="#5c1012"/>
<rect x="438.07" y="71.01" width="12.19" height="2.53" fill="#813b3c"/>
<rect x="449.86" y="71.01" width="12.19" height="2.53" fill="#ae7775"/>
<rect x="461.65" y="71.01" width="12.19" height="2.53" fill="#bf9390"/>
<rect x="473.44" y="71.01" width="12.19" height="2.53" fill="#904d4d"/>
<rect x="485.23" y="71.01" width="12.19" height="2.53" fill="#aaa0c7"/>
<rect x="497.02" y="71.01" width="12.19" height="2.53" fill="#413872"/>
<rect x="508.82" y="71.01" width="12.19" height="2.53" fill="#5e5391"/>
<rect x="520.61" y="71.01" width="12.19" height="2.53" fill="#eae5e8"/>
<rect x="390.90" y="73.15" width="12.19" height="2.53" fill="#d6cfde"/>
<rect x="402.69" y="73.15" width="12.19" height="2.53" fill="#f4eeec"/>
<rect x="414.48" y="73.15" width="12.19" height="2.53" fill="#d1c9db"/>
<rect x="426.27" y="73.15" width="12.19" height="2.53" fill="#b37f7d"/>
<rect x="438.07" y="73.15" width="12.19" height="2.53" fill="#935050"/>
<rect x="449.86" y="73.15" width="12.19" height="2.53" fill="#813b3c"/>
<rect x="461.65" y="73.15" width="12.19" height="2.53" fill="#bd908d"/>
<rect x="473.44" y="73.15" width="12.19" height="2.53" fill="#bc8d8a"/>
<rect x="485.23" y="73.15" width="12.19" height="2.53" fill="#854040"/>
<rect x="497.02" y="73.15" width="12.19" height="2.53" fill="#793233"/>
<rect x="508.82" y="73.15" width="12.19" height="2.53" fill="#853f40"/>
<rect x="520.61" y="73.15" width="12.19" height="2.53" fill="#8f4c4c"/>
<rect x="390.90" y="75.28" width="12.19" height="2.53" fill="#877bb2"/>
<rect x="402.69" y="75.28" width="12.19" height="2.53" fill="#bf9390"/>
<rect x="414.48" y="75.28" width="12.19" height="2.53" fill="#efe5e3"/>
<rect x="426.27" y="75.28" width="12.19" height="2.53" fill="#ede2df"/>
<rect x="438.07" y="75.28" width="12.19" height="2.53" fill="#b5accd"/>
<rect x="449.86" y="75.28" width="12.19" height="2.53" fill="#988ebd"/>
<rect x="461.65" y="75.28" width="12.19" height="2.53" fill="#a76a69"/>
<rect x="473.44" y="75.28" width="12.19" height="2.53" fill="#d3b5b0"/>
<rect x="485.23" y="75.28" width="12.19" height="2.53" fill="#f5f0ee"/>
<rect x="497.02" y="75.28" width="12.19" height="2.53" fill="#af7876"/>
<rect x="508.82" y="75.28" width="12.19" height="2.53" fill="#b37e7c"/>
<rect x="520.61" y="75.28" width="12.19" height="2.53" fill="#a96d6c"/>
<rect x="390.90" y="77.42" width="12.19" height="2.53" fill="#732a2c"/>
<rect x="402.69" y="77.42" width="12.19" height="2.53" fill="#a86c6b"/>
<rect x="414.48" y="77.42" width="12.19" height="2.53" fill="#702728"/>
<rect x="426.27" y="77.42" width="12.19" height="2.53" fill="#8c4849"/>
<rect x="438.07" y="77.42" width="12.19" height="2.53" fill="#5c1012"/>
<rect x="449.86" y="77.42" width="12.19" height="2.53" fill="#681e20"/>
<rect x="461.65" y="77.42" width="12.19" height="2.53" fill="#63181a"/>
<rect x="473.44" y="77.42" width="12.19" height="2.53" fill="#894445"/>
<rect x="485.23" y="77.42" width="12.19" height="2.53" fill="#f5f0ee"/>
<rect x="497.02" y="77.42" width="12.19" height="2.53" fill="#a197c2"/>
<rect x="508.82" y="77.42" width="12.19" height="2.53" fill="#f0e7e5"/>
<rect x="520.61" y="77.42" width="12.19" height="2.53" fill="#b1a7cb"/>
<rect x="390.90" y="79.55" width="12.19" height="2.53" fill="#e8d9d6"/>
<rect x="402.69" y="79.55" width="12.19" height="2.53" fill="#a196c2"/>
<rect x="414.48" y="79.55" width="12.19" height="2.53" fill="#ba8a87"/>
<rect x="426.27" y="79.55" width="12.19" height="2.53" fill="#eadddb"/>
<rect x="438.07" y="79.55" width="12.19" height="2.53" fill="#e9dbd8"/>
<rect x="449.86" y="79.55" width="12.19" height="2.53" fill="#e9e3e8"/>
<rect x="461.65" y="79.55" width="12.19" height="2.53" fill="#dad3e0"/>
<rect x="473.44" y="79.55" width="12.19" height="2.53" fill="#433b75"/>
<rect x="485.23" y="79.55" width="12.19" height="2.53" fill="#80393a"/>
<rect x="497.02" y="79.55" width="12.19" height="2.53" fill="#dcc5c1"/>
<rect x="508.82" y="79.55" width="12.19" height="2.53" fill="#8b4647"/>
<rect x="520.61" y="79.55" width="12.19" height="2.53" fill="#d4b6b1"/>
<rect x="390.90" y="81.69" width="12.19" height="2.53" fill="#dfc9c5"/>
<rect x="402.69" y="81.69" width="12.19" height="2.53" fill="#d3cbdc"/>
<rect x="414.48" y="81.69" width="12.19" height="2.53" fill="#dcc4c0"/>
<rect x="426.27" y="81.69" width="12.19" height="2.53" fill="#bd8f8c"/>
<rect x="438.07" y="81.69" width="12.19" height="2.53" fill="#e8d9d6"/>
<rect x="449.86" y="81.69" width="12.19" height="2.53" fill="#bdb4d1"/>
<rect x="461.65" y="81.69" width="12.19" height="2.53" fill="#f0e7e5"/>
<rect x="473.44" y="81.69" width="12.19" height="2.53" fill="#c7a19c"/>
<rect x="485.23" y="81.69" width="12.19" height="2.53" fill="#efe6e3"/>
<rect x="497.02" y="81.69" width="12.19" height="2.53" fill="#e3dce4"/>
<rect x="508.82" y="81.69" width="12.19" height="2.53" fill="#aea5c9"/>
<rect x="520.61" y="81.69" width="12.19" height="2.53" fill="#625796"/>
<rect x="390.90" y="83.82" width="12.19" height="2.53" fill="#a46666"/>
<rect x="402.69" y="83.82" width="12.19" height="2.53" fill="#b17b79"/>
<rect x="414.48" y="83.82" width="12.19" height="2.53" fill="#7f3839"/>
<rect x="426.27" y="83.82" width="12.19" height="2.53" fill="#8b4647"/>
<rect x="438.07" y="83.82" width="12.19" height="2.53" fill="#904c4d"/>
<rect x="449.86" y="83.82" width="12.19" height="2.53" fill="#dcc5c1"/>
<rect x="461.65" y="83.82" width="12.19" height="2.53" fill="#c29894"/>
<rect x="473.44" y="83.82" width="12.19" height="2.53" fill="#f0eaeb"/>
<rect x="485.23" y="83.82" width="12.19" height="2.53" fill="#877cb2"/>
<rect x="497.02" y="83.82" width="12.19" height="2.53" fill="#7d72ad"/>
<rect x="508.82" y="83.82" width="12.19" height="2.53" fill="#b8afce"/>
<rect x="520.61" y="83.82" width="12.19" height="2.53" fill="#887db3"/>
<rect x="390.90" y="85.96" width="12.19" height="2.53" fill="#7e3738"/>
<rect x="402.69" y="85.96" width="12.19" height="2.53" fill="#c0b7d2"/>
<rect x="414.48" y="85.96" width="12.19" height="2.53" fill="#a59ac4"/>
<rect x="426.27" y="85.96" width="12.19" height="2.53" fill="#e7e2e7"/>
<rect x="438.07" y="85.96" width="12.19" height="2.53" fill="#c49c98"/>
<rect x="449.86" y="85.96" width="12.19" height="2.53" fill="#efe6e3"/>
<rect x="461.65" y="85.96" width="12.19" height="2.53" fill="#f4eeec"/>
<rect x="473.44" y="85.96" width="12.19" height="2.53" fill="#b7aece"/>
<rect x="485.23" y="85.96" width="12.19" height="2.53" fill="#d9c0bc"/>
<rect x="497.02" y="85.96" width="12.19" height="2.53" fill="#7d72ad"/>
<rect x="508.82" y="85.96" width="12.19" height="2.53" fill="#645998"/>
<rect x="520.61" y="85.96" width="12.19" height="2.53" fill="#9b90be"/>
<rect x="390.90" y="88.09" width="12.19" height="2.53" fill="#e5dfe5"/>
<rect x="402.69" y="88.09" width="12.19" height="2.53" fill="#b17c7a"/>
<rect x="414.48" y="88.09" width="12.19" height="2.53" fill="#d0c9db"/>
<rect x="426.27" y="88.09" width="12.19" height="2.53" fill="#f4efed"/>
<rect x="438.07" y="88.09" width="12.19" height="2.53" fill="#d8d1df"/>
<rect x="449.86" y="88.09" width="12.19" height="2.53" fill="#e9e3e8"/>
<rect x="461.65" y="88.09" width="12.19" height="2.53" fill="#caa4a0"/>
<rect x="473.44" y="88.09" width="12.19" height="2.53" fill="#d8bdb9"/>
<rect x="485.23" y="88.09" width="12.19" height="2.53" fill="#9b91be"/>
<rect x="497.02" y="88.09" width="12.19" height="2.53" fill="#796daa"/>
<rect x="508.82" y="88.09" width="12.19" height="2.53" fill="#a79dc6"/>
<rect x="520.61" y="88.09" width="12.19" height="2.53" fill="#eee3e1"/>
<rect x="390.90" y="90.23" width="12.19" height="2.53" fill="#d4b6b2"/>
<rect x="402.69" y="90.23" width="12.19" height="2.53" fill="#9c91bf"/>
<rect x="414.48" y="90.23" width="12.19" height="2.53" fill="#9f5e5e"/>
<rect x="426.27" y="90.23" width="12.19" height="2.53" fill="#b3a9cb"/>
<rect x="438.07" y="90.23" width="12.19" height="2.53" fill="#c6bed6"/>
<rect x="449.86" y="90.23" width="12.19" height="2.53" fill="#e0ccc8"/>
<rect x="461.65" y="90.23" width="12.19" height="2.53" fill="#cca9a4"/>
<rect x="473.44" y="90.23" width="12.19" height="2.53" fill="#cca8a3"/>
<rect x="485.23" y="90.23" width="12.19" height="2.53" fill="#6b5fa0"/>
<rect x="497.02" y="90.23" width="12.19" height="2.53" fill="#857ab1"/>
<rect x="508.82" y="90.23" width="12.19" height="2.53" fill="#7468a7"/>
<rect x="520.61" y="90.23" width="12.19" height="2.53" fill="#342c64"/>
<rect x="390.90" y="92.36" width="12.19" height="2.53" fill="#e9e4e8"/>
<rect x="402.69" y="92.36" width="12.19" height="2.53" fill="#c49c98"/>
<rect x="414.48" y="92.36" width="12.19" height="2.53" fill="#e0cbc7"/>
<rect x="426.27" y="92.36" width="12.19" height="2.53" fill="#ab7170"/>
<rect x="438.07" y="92.36" width="12.19" height="2.53" fill="#b78683"/>
<rect x="449.86" y="92.36" width="12.19" height="2.53" fill="#ae7674"/>
<rect x="461.65" y="92.36" width="12.19" height="2.53" fill="#9f5e5e"/>
<rect x="473.44" y="92.36" width="12.19" height="2.53" fill="#b88684"/>
<rect x="485.23" y="92.36" width="12.19" height="2.53" fill="#958abb"/>
<rect x="497.02" y="92.36" width="12.19" height="2.53" fill="#e2cfcc"/>
<rect x="508.82" y="92.36" width="12.19" height="2.53" fill="#695d9d"/>
<rect x="520.61" y="92.36" width="12.19" height="2.53" fill="#9c92bf"/>
<rect x="390.90" y="94.50" width="12.19" height="2.53" fill="#b58280"/>
<rect x="402.69" y="94.50" width="12.19" height="2.53" fill="#894445"/>
<rect x="414.48" y="94.50" width="12.19" height="2.53" fill="#cdaba6"/>
<rect x="426.27" y="94.50" width="12.19" height="2.53" fill="#c19692"/>
<rect x="438.07" y="94.50" width="12.19" height="2.53" fill="#904c4d"/>
<rect x="449.86" y="94.50" width="12.19" height="2.53" fill="#894445"/>
<rect x="461.65" y="94.50" width="12.19" height="2.53" fill="#742c2e"/>
<rect x="473.44" y="94.50" width="12.19" height="2.53" fill="#ab7170"/>
<rect x="485.23" y="94.50" width="12.19" height="2.53" fill="#8e83b7"/>
<rect x="497.02" y="94.50" width="12.19" height="2.53" fill="#a297c2"/>
<rect x="508.82" y="94.50" width="12.19" height="2.53" fill="#988ebd"/>
<rect x="520.61" y="94.50" width="12.19" height="2.53" fill="#372f67"/>
<rect x="390.90" y="96.63" width="12.19" height="2.53" fill="#a26262"/>
<rect x="402.69" y="96.63" width="12.19" height="2.53" fill="#9f95c1"/>
<rect x="414.48" y="96.63" width="12.19" height="2.53" fill="#c8a29e"/>
<rect x="426.27" y="96.63" width="12.19" height="2.53" fill="#e7e1e7"/>
<rect x="438.07" y="96.63" width="12.19" height="2.53" fill="#b78582"/>
<rect x="449.86" y="96.63" width="12.19" height="2.53" fill="#c6bed5"/>
<rect x="461.65" y="96.63" width="12.19" height="2.53" fill="#e5d3d0"/>
<rect x="473.44" y="96.63" width="12.19" height="2.53" fill="#7165a6"/>
<rect x="485.23" y="96.63" width="12.19" height="2.53" fill="#a69bc5"/>
<rect x="497.02" y="96.63" width="12.19" height="2.53" fill="#e8d9d6"/>
<rect x="508.82" y="96.63" width="12.19" height="2.53" fill="#534986"/>
<rect x="520.61" y="96.63" width="12.19" height="2.53" fill="#e2cfcc"/>
<rect x="390.90" y="98.77" width="12.19" height="2.53" fill="#f0e8e5"/>
<rect x="402.69" y="98.77" width="12.19" height="2.53" fill="#433a74"/>
<rect x="414.48" y="98.77" width="12.19" height="2.53" fill="#b98987"/>
<rect x="426.27" y="98.77" width="12.19" height="2.53" fill="#b0a6ca"/>
<rect x="438.07" y="98.77" width="12.19" height="2.53" fill="#d0c8db"/>
<rect x="449.86" y="98.77" width="12.19" height="2.53" fill="#958abb"/>
<rect x="461.65" y="98.77" width="12.19" height="2.53" fill="#a69cc5"/>
<rect x="473.44" y="98.77" width="12.19" height="2.53" fill="#b68482"/>
<rect x="485.23" y="98.77" width="12.19" height="2.53" fill="#8f84b7"/>
<rect x="497.02" y="98.77" width="12.19" height="2.53" fill="#ede2e0"/>
<rect x="508.82" y="98.77" width="12.19" height="2.53" fill="#a298c2"/>
<rect x="520.61" y="98.77" width="12.19" height="2.53" fill="#d0c9db"/>
<rect x="390.90" y="100.90" width="12.19" height="2.53" fill="#cfaea9"/>
<rect x="402.69" y="100.90" width="12.19" height="2.53" fill="#6f2628"/>
<rect x="414.48" y="100.90" width="12.19" height="2.53" fill="#c49c98"/>
<rect x="426.27" y="100.90" width="12.19" height="2.53" fill="#cba7a2"/>
<rect x="438.07" y="100.90" width="12.19" height="2.53" fill="#e8e2e7"/>
<rect x="449.86" y="100.90" width="12.19" height="2.53" fill="#b37f7d"/>
<rect x="461.65" y="100.90" width="12.19" height="2.53" fill="#a36464"/>
<rect x="473.44" y="100.90" width="12.19" height="2.53" fill="#887cb3"/>
<rect x="485.23" y="100.90" width="12.19" height="2.53" fill="#584e8b"/>
<rect x="497.02" y="100.90" width="12.19" height="2.53" fill="#b88784"/>
<rect x="508.82" y="100.90" width="12.19" height="2.53" fill="#cdc6d9"/>
<rect x="520.61" y="100.90" width="12.19" height="2.53" fill="#b1a8cb"/>
<rect x="390.90" y="103.03" width="12.19" height="2.53" fill="#843f3f"/>
<rect x="402.69" y="103.03" width="12.19" height="2.53" fill="#914d4e"/>
<rect x="414.48" y="103.03" width="12.19" height="2.53" fill="#bf938f"/>
<rect x="426.27" y="103.03" width="12.19" height="2.53" fill="#5c1012"/>
<rect x="438.07" y="103.03" width="12.19" height="2.53" fill="#b4807e"/>
<rect x="449.86" y="103.03" width="12.19" height="2.53" fill="#dec9c5"/>
<rect x="461.65" y="103.03" width="12.19" height="2.53" fill="#cfada8"/>
<rect x="473.44" y="103.03" width="12.19" height="2.53" fill="#bb8b88"/>
<rect x="485.23" y="103.03" width="12.19" height="2.53" fill="#7064a5"/>
<rect x="497.02" y="103.03" width="12.19" height="2.53" fill="#7b6fab"/>
<rect x="508.82" y="103.03" width="12.19" height="2.53" fill="#988ebd"/>
<rect x="520.61" y="103.03" width="12.19" height="2.53" fill="#1b1549"/>
<rect x="390.90" y="105.17" width="12.19" height="2.53" fill="#c59c98"/>
<rect x="402.69" y="105.17" width="12.19" height="2.53" fill="#d7bcb8"/>
<rect x="414.48" y="105.17" width="12.19" height="2.53" fill="#b7aece"/>
<rect x="426.27" y="105.17" width="12.19" height="2.53" fill="#bdb4d1"/>
<rect x="438.07" y="105.17" width="12.19" height="2.53" fill="#bc8d8a"/>
<rect x="449.86" y="105.17" width="12.19" height="2.53" fill="#e1dae3"/>
<rect x="461.65" y="105.17" width="12.19" height="2.53" fill="#c6bed5"/>
<rect x="473.44" y="105.17" width="12.19" height="2.53" fill="#9b5959"/>
<rect x="485.23" y="105.17" width="12.19" height="2.53" fill="#998ebd"/>
<rect x="497.02" y="105.17" width="12.19" height="2.53" fill="#f3eeed"/>
<rect x="508.82" y="105.17" width="12.19" height="2.53" fill="#aea4c9"/>
<rect x="520.61" y="105.17" width="12.19" height="2.53" fill="#b7aece"/>
<rect x="390.90" y="107.30" width="12.19" height="2.53" fill="#9389ba"/>
<rect x="402.69" y="107.30" width="12.19" height="2.53" fill="#c8a19d"/>
<rect x="414.48" y="107.30" width="12.19" height="2.53" fill="#8176af"/>
<rect x="426.27" y="107.30" width="12.19" height="2.53" fill="#efeaeb"/>
<rect x="438.07" y="107.30" width="12.19" height="2.53" fill="#7e72ad"/>
<rect x="449.86" y="107.30" width="12.19" height="2.53" fill="#beb6d2"/>
<rect x="461.65" y="107.30" width="12.19" height="2.53" fill="#d2cadc"/>
<rect x="473.44" y="107.30" width="12.19" height="2.53" fill="#655a9a"/>
<rect x="485.23" y="107.30" width="12.19" height="2.53" fill="#dbc3bf"/>
<rect x="497.02" y="107.30" width="12.19" height="2.53" fill="#a99fc6"/>
<rect x="508.82" y="107.30" width="12.19" height="2.53" fill="#d7bcb8"/>
<rect x="520.61" y="107.30" width="12.19" height="2.53" fill="#7d71ac"/>
<rect x="390.90" y="109.44" width="12.19" height="2.53" fill="#5c1012"/>
<rect x="402.69" y="109.44" width="12.19" height="2.53" fill="#b27c7a"/>
<rect x="414.48" y="109.44" width="12.19" height="2.53" fill="#dbc2be"/>
<rect x="426.27" y="109.44" width="12.19" height="2.53" fill="#a56867"/>
<rect x="438.07" y="109.44" width="12.19" height="2.53" fill="#b58280"/>
<rect x="449.86" y="109.44" width="12.19" height="2.53" fill="#c69e9a"/>
<rect x="461.65" y="109.44" width="12.19" height="2.53" fill="#c19793"/>
<rect x="473.44" y="109.44" width="12.19" height="2.53" fill="#d8bcb8"/>
<rect x="485.23" y="109.44" width="12.19" height="2.53" fill="#9489ba"/>
<rect x="497.02" y="109.44" width="12.19" height="2.53" fill="#665a9a"/>
<rect x="508.82" y="109.44" width="12.19" height="2.53" fill="#4d447f"/>
<rect x="520.61" y="109.44" width="12.19" height="2.53" fill="#ada3c9"/>
<rect x="390.90" y="111.57" width="12.19" height="2.53" fill="#7d3637"/>
<rect x="402.69" y="111.57" width="12.19" height="2.53" fill="#dad3e0"/>
<rect x="414.48" y="111.57" width="12.19" height="2.53" fill="#ada3c9"/>
<rect x="426.27" y="111.57" width="12.19" height="2.53" fill="#bdb4d1"/>
<rect x="438.07" y="111.57" width="12.19" height="2.53" fill="#e5d3d0"/>
<rect x="449.86" y="111.57" width="12.19" height="2.53" fill="#afa6ca"/>
<rect x="461.65" y="111.57" width="12.19" height="2.53" fill="#8b80b5"/>
<rect x="473.44" y="111.57" width="12.19" height="2.53" fill="#a86c6b"/>
<rect x="485.23" y="111.57" width="12.19" height="2.53" fill="#564c89"/>
<rect x="497.02" y="111.57" width="12.19" height="2.53" fill="#dcc5c1"/>
<rect x="508.82" y="111.57" width="12.19" height="2.53" fill="#a49ac4"/>
<rect x="520.61" y="111.57" width="12.19" height="2.53" fill="#5f5593"/>
<rect x="390.90" y="113.71" width="12.19" height="2.53" fill="#b98885"/>
<rect x="402.69" y="113.71" width="12.19" height="2.53" fill="#dfcac6"/>
<rect x="414.48" y="113.71" width="12.19" height="2.53" fill="#ac7371"/>
<rect x="426.27" y="113.71" width="12.19" height="2.53" fill="#773031"/>
<rect x="438.07" y="113.71" width="12.19" height="2.53" fill="#914d4e"/>
<rect x="449.86" y="113.71" width="12.19" height="2.53" fill="#8b4647"/>
<rect x="461.65" y="113.71" width="12.19" height="2.53" fill="#64191b"/>
<rect x="473.44" y="113.71" width="12.19" height="2.53" fill="#a56767"/>
<rect x="485.23" y="113.71" width="12.19" height="2.53" fill="#7b6fab"/>
<rect x="497.02" y="113.71" width="12.19" height="2.53" fill="#5a4f8d"/>
<rect x="508.82" y="113.71" width="12.19" height="2.53" fill="#1b1549"/>
<rect x="520.61" y="113.71" width="12.19" height="2.53" fill="#5e5392"/>
<rect x="390.90" y="115.84" width="12.19" height="2.53" fill="#c1b9d3"/>
<rect x="402.69" y="115.84" width="12.19" height="2.53" fill="#803a3a"/>
<rect x="414.48" y="115.84" width="12.19" height="2.53" fill="#af7876"/>
<rect x="426.27" y="115.84" width="12.19" height="2.53" fill="#e7d8d5"/>
<rect x="438.07" y="115.84" width="12.19" height="2.53" fill="#b88784"/>
<rect x="449.86" y="115.84" width="12.19" height="2.53" fill="#6e2426"/>
<rect x="461.65" y="115.84" width="12.19" height="2.53" fill="#d7bbb7"/>
<rect x="473.44" y="115.84" width="12.19" height="2.53" fill="#975555"/>
<rect x="485.23" y="115.84" width="12.19" height="2.53" fill="#a89fc6"/>
<rect x="497.02" y="115.84" width="12.19" height="2.53" fill="#383068"/>
<rect x="508.82" y="115.84" width="12.19" height="2.53" fill="#8b80b5"/>
<rect x="520.61" y="115.84" width="12.19" height="2.53" fill="#857ab2"/>
<rect x="390.90" y="117.98" width="12.19" height="2.53" fill="#dbd4e0"/>
<rect x="402.69" y="117.98" width="12.19" height="2.53" fill="#8a7fb4"/>
<rect x="414.48" y="117.98" width="12.19" height="2.53" fill="#7d72ad"/>
<rect x="426.27" y="117.98" width="12.19" height="2.53" fill="#594f8c"/>
<rect x="438.07" y="117.98" width="12.19" height="2.53" fill="#beb5d1"/>
<rect x="449.86" y="117.98" width="12.19" height="2.53" fill="#867bb2"/>
<rect x="461.65" y="117.98" width="12.19" height="2.53" fill="#7e73ad"/>
<rect x="473.44" y="117.98" width="12.19" height="2.53" fill="#5e5391"/>
<rect x="485.23" y="117.98" width="12.19" height="2.53" fill="#584e8b"/>
<rect x="497.02" y="117.98" width="12.19" height="2.53" fill="#776ba9"/>
<rect x="508.82" y="117.98" width="12.19" height="2.53" fill="#e9e3e8"/>
<rect x="520.61" y="117.98" width="12.19" height="2.53" fill="#756aa8"/>
<rect x="390.90" y="120.11" width="12.19" height="2.53" fill="#c49a96"/>
<rect x="402.69" y="120.11" width="12.19" height="2.53" fill="#cfaea9"/>
<rect x="414.48" y="120.11" width="12.19" height="2.53" fill="#bcb3d0"/>
<rect x="426.27" y="120.11" width="12.19" height="2.53" fill="#7f3839"/>
<rect x="438.07" y="120.11" width="12.19" height="2.53" fill="#a69cc5"/>
<rect x="449.86" y="120.11" width="12.19" height="2.53" fill="#be908d"/>
<rect x="461.65" y="120.11" width="12.19" height="2.53" fill="#8a4546"/>
<rect x="473.44" y="120.11" width="12.19" height="2.53" fill="#e1cdca"/>
<rect x="485.23" y="120.11" width="12.19" height="2.53" fill="#483f79"/>
<rect x="497.02" y="120.11" width="12.19" height="2.53" fill="#6b5f9f"/>
<rect x="508.82" y="120.11" width="12.19" height="2.53" fill="#a197c2"/>
<rect x="520.61" y="120.11" width="12.19" height="2.53" fill="#c7bfd6"/>
<rect x="390.90" y="122.25" width="12.19" height="2.53" fill="#8277b0"/>
<rect x="402.69" y="122.25" width="12.19" height="2.53" fill="#998fbd"/>
<rect x="414.48" y="122.25" width="12.19" height="2.53" fill="#e3dde5"/>
<rect x="426.27" y="122.25" width="12.19" height="2.53" fill="#766aa8"/>
<rect x="438.07" y="122.25" width="12.19" height="2.53" fill="#b9b0cf"/>
<rect x="449.86" y="122.25" width="12.19" height="2.53" fill="#9c5b5b"/>
<rect x="461.65" y="122.25" width="12.19" height="2.53" fill="#8377b0"/>
<rect x="473.44" y="122.25" width="12.19" height="2.53" fill="#cfada8"/>
<rect x="485.23" y="122.25" width="12.19" height="2.53" fill="#d3cbdc"/>
<rect x="497.02" y="122.25" width="12.19" height="2.53" fill="#eadcd9"/>
<rect x="508.82" y="122.25" width="12.19" height="2.53" fill="#dcc5c1"/>
<rect x="520.61" y="122.25" width="12.19" height="2.53" fill="#a196c2"/>
<rect x="390.90" y="124.38" width="12.19" height="2.53" fill="#f3edeb"/>
<rect x="402.69" y="124.38" width="12.19" height="2.53" fill="#c1b9d3"/>
<rect x="414.48" y="124.38" width="12.19" height="2.53" fill="#bfb7d2"/>
<rect x="426.27" y="124.38" width="12.19" height="2.53" fill="#605594"/>
<rect x="438.07" y="124.38" width="12.19" height="2.53" fill="#857ab1"/>
<rect x="449.86" y="124.38" width="12.19" height="2.53" fill="#998fbd"/>
<rect x="461.65" y="124.38" width="12.19" height="2.53" fill="#beb5d1"/>
<rect x="473.44" y="124.38" width="12.19" height="2.53" fill="#f1e9e7"/>
<rect x="485.23" y="124.38" width="12.19" height="2.53" fill="#efeaeb"/>
<rect x="497.02" y="124.38" width="12.19" height="2.53" fill="#7b3436"/>
<rect x="508.82" y="124.38" width="12.19" height="2.53" fill="#d5b8b3"/>
<rect x="520.61" y="124.38" width="12.19" height="2.53" fill="#d3b5b0"/>
<rect x="390.90" y="126.52" width="12.19" height="2.53" fill="#463d78"/>
<rect x="402.69" y="126.52" width="12.19" height="2.53" fill="#3e356e"/>
<rect x="414.48" y="126.52" width="12.19" height="2.53" fill="#1b1549"/>
<rect x="426.27" y="126.52" width="12.19" height="2.53" fill="#3a326b"/>
<rect x="438.07" y="126.52" width="12.19" height="2.53" fill="#504682"/>
<rect x="449.86" y="126.52" width="12.19" height="2.53" fill="#342c64"/>
<rect x="461.65" y="126.52" width="12.19" height="2.53" fill="#7367a7"/>
<rect x="473.44" y="126.52" width="12.19" height="2.53" fill="#1b1549"/>
<rect x="485.23" y="126.52" width="12.19" height="2.53" fill="#864041"/>
<rect x="497.02" y="126.52" width="12.19" height="2.53" fill="#b58280"/>
<rect x="508.82" y="126.52" width="12.19" height="2.53" fill="#9b5a5a"/>
<rect x="520.61" y="126.52" width="12.19" height="2.53" fill="#d5cddd"/>
<rect x="390.90" y="128.65" width="12.19" height="2.53" fill="#675c9c"/>
<rect x="402.69" y="128.65" width="12.19" height="2.53" fill="#a197c2"/>
<rect x="414.48" y="128.65" width="12.19" height="2.53" fill="#2d255c"/>
<rect x="426.27" y="128.65" width="12.19" height="2.53" fill="#c5bdd5"/>
<rect x="438.07" y="128.65" width="12.19" height="2.53" fill="#322a62"/>
<rect x="449.86" y="128.65" width="12.19" height="2.53" fill="#c1b8d3"/>
<rect x="461.65" y="128.65" width="12.19" height="2.53" fill="#8c81b5"/>
<rect x="473.44" y="128.65" width="12.19" height="2.53" fill="#433a74"/>
<rect x="485.23" y="128.65" width="12.19" height="2.53" fill="#5c1012"/>
<rect x="497.02" y="128.65" width="12.19" height="2.53" fill="#b98886"/>
<rect x="508.82" y="128.65" width="12.19" height="2.53" fill="#8b4747"/>
<rect x="520.61" y="128.65" width="12.19" height="2.53" fill="#7b3435"/>
<rect x="390.90" y="130.79" width="12.19" height="2.53" fill="#8d82b6"/>
<rect x="402.69" y="130.79" width="12.19" height="2.53" fill="#b2a9cb"/>
<rect x="414.48" y="130.79" width="12.19" height="2.53" fill="#9a90be"/>
<rect x="426.27" y="130.79" width="12.19" height="2.53" fill="#8176af"/>
<rect x="438.07" y="130.79" width="12.19" height="2.53" fill="#4d437f"/>
<rect x="449.86" y="130.79" width="12.19" height="2.53" fill="#6c60a0"/>
<rect x="461.65" y="130.79" width="12.19" height="2.53" fill="#bcb3d0"/>
<rect x="473.44" y="130.79" width="12.19" height="2.53" fill="#413872"/>
<rect x="485.23" y="130.79" width="12.19" height="2.53" fill="#884344"/>
<rect x="497.02" y="130.79" width="12.19" height="2.53" fill="#ece0dd"/>
<rect x="508.82" y="130.79" width="12.19" height="2.53" fill="#ab7170"/>
<rect x="520.61" y="130.79" width="12.19" height="2.53" fill="#d7bbb7"/>
<rect x="390.90" y="132.92" width="12.19" height="2.53" fill="#413972"/>
<rect x="402.69" y="132.92" width="12.19" height="2.53" fill="#998ebd"/>
<rect x="414.48" y="132.92" width="12.19" height="2.53" fill="#ebe5e9"/>
<rect x="426.27" y="132.92" width="12.19" height="2.53" fill="#e0d9e3"/>
<rect x="438.07" y="132.92" width="12.19" height="2.53" fill="#efeaeb"/>
<rect x="449.86" y="132.92" width="12.19" height="2.53" fill="#eadcd9"/>
<rect x="461.65" y="132.92" width="12.19" height="2.53" fill="#d3ccdc"/>
<rect x="473.44" y="132.92" width="12.19" height="2.53" fill="#f5f0ee"/>
<rect x="485.23" y="132.92" width="12.19" height="2.53" fill="#9e5d5d"/>
<rect x="497.02" y="132.92" width="12.19" height="2.53" fill="#9d5c5c"/>
<rect x="508.82" y="132.92" width="12.19" height="2.53" fill="#f0e7e5"/>
<rect x="520.61" y="132.92" width="12.19" height="2.53" fill="#955252"/>
<rect x="390.90" y="135.06" width="12.19" height="2.53" fill="#7c70ac"/>
<rect x="402.69" y="135.06" width="12.19" height="2.53" fill="#655999"/>
<rect x="414.48" y="135.06" width="12.19" height="2.53" fill="#b0a7ca"/>
<rect x="426.27" y="135.06" width="12.19" height="2.53" fill="#e5d4d1"/>
<rect x="438.07" y="135.06" width="12.19" height="2.53" fill="#e1ceca"/>
<rect x="449.86" y="135.06" width="12.19" height="2.53" fill="#534986"/>
<rect x="461.65" y="135.06" width="12.19" height="2.53" fill="#d3cbdc"/>
<rect x="473.44" y="135.06" width="12.19" height="2.53" fill="#8176af"/>
<rect x="485.23" y="135.06" width="12.19" height="2.53" fill="#914d4e"/>
<rect x="497.02" y="135.06" width="12.19" height="2.53" fill="#cec6da"/>
<rect x="508.82" y="135.06" width="12.19" height="2.53" fill="#762e2f"/>
<rect x="520.61" y="135.06" width="12.19" height="2.53" fill="#af7876"/>
<rect x="390.90" y="137.19" width="12.19" height="2.53" fill="#655a99"/>
<rect x="402.69" y="137.19" width="12.19" height="2.53" fill="#383068"/>
<rect x="414.48" y="137.19" width="12.19" height="2.53" fill="#8d82b6"/>
<rect x="426.27" y="137.19" width="12.19" height="2.53" fill="#554b88"/>
<rect x="438.07" y="137.19" width="12.19" height="2.53" fill="#4a417c"/>
<rect x="449.86" y="137.19" width="12.19" height="2.53" fill="#958abb"/>
<rect x="461.65" y="137.19" width="12.19" height="2.53" fill="#6a5e9f"/>
<rect x="473.44" y="137.19" width="12.19" height="2.53" fill="#4a407b"/>
<rect x="485.23" y="137.19" width="12.19" height="2.53" fill="#5e1214"/>
<rect x="497.02" y="137.19" width="12.19" height="2.53" fill="#9e5d5d"/>
<rect x="508.82" y="137.19" width="12.19" height="2.53" fill="#874243"/>
<rect x="520.61" y="137.19" width="12.19" height="2.53" fill="#671c1e"/>
<rect x="390.90" y="139.33" width="12.19" height="2.53" fill="#f1e8e6"/>
<rect x="402.69" y="139.33" width="12.19" height="2.53" fill="#dac1bd"/>
<rect x="414.48" y="139.33" width="12.19" height="2.53" fill="#998ebd"/>
<rect x="426.27" y="139.33" width="12.19" height="2.53" fill="#685d9d"/>
<rect x="438.07" y="139.33" width="12.19" height="2.53" fill="#dac2be"/>
<rect x="449.86" y="139.33" width="12.19" height="2.53" fill="#e7d8d5"/>
<rect x="461.65" y="139.33" width="12.19" height="2.53" fill="#857ab1"/>
<rect x="473.44" y="139.33" width="12.19" height="2.53" fill="#cec6da"/>
<rect x="485.23" y="139.33" width="12.19" height="2.53" fill="#a66968"/>
<rect x="497.02" y="139.33" width="12.19" height="2.53" fill="#dec8c5"/>
<rect x="508.82" y="139.33" width="12.19" height="2.53" fill="#6a2022"/>
<rect x="520.61" y="139.33" width="12.19" height="2.53" fill="#874243"/>
<rect x="390.90" y="141.46" width="12.19" height="2.53" fill="#e4dee5"/>
<rect x="402.69" y="141.46" width="12.19" height="2.53" fill="#cbc3d8"/>
<rect x="414.48" y="141.46" width="12.19" height="2.53" fill="#493f7a"/>
<rect x="426.27" y="141.46" width="12.19" height="2.53" fill="#302960"/>
<rect x="438.07" y="141.46" width="12.19" height="2.53" fill="#1b1549"/>
<rect x="449.86" y="141.46" width="12.19" height="2.53" fill="#6b5f9f"/>
<rect x="461.65" y="141.46" width="12.19" height="2.53" fill="#564c89"/>
<rect x="473.44" y="141.46" width="12.19" height="2.53" fill="#7f74ae"/>
<rect x="485.23" y="141.46" width="12.19" height="2.53" fill="#833e3e"/>
<rect x="497.02" y="141.46" width="12.19" height="2.53" fill="#9f5e5e"/>
<rect x="508.82" y="141.46" width="12.19" height="2.53" fill="#955252"/>
<rect x="520.61" y="141.46" width="12.19" height="2.53" fill="#caa4a0"/>
<rect x="390.90" y="143.60" width="12.19" height="2.53" fill="#877bb2"/>
<rect x="402.69" y="143.60" width="12.19" height="2.53" fill="#dfd8e2"/>
<rect x="414.48" y="143.60" width="12.19" height="2.53" fill="#7f74ae"/>
<rect x="426.27" y="143.60" width="12.19" height="2.53" fill="#aba1c8"/>
<rect x="438.07" y="143.60" width="12.19" height="2.53" fill="#e0dae3"/>
<rect x="449.86" y="143.60" width="12.19" height="2.53" fill="#968bbb"/>
<rect x="461.65" y="143.60" width="12.19" height="2.53" fill="#766aa9"/>
<rect x="473.44" y="143.60" width="12.19" height="2.53" fill="#ad7574"/>
<rect x="485.23" y="143.60" width="12.19" height="2.53" fill="#a46666"/>
<rect x="497.02" y="143.60" width="12.19" height="2.53" fill="#843e3f"/>
<rect x="508.82" y="143.60" width="12.19" height="2.53" fill="#9f5e5e"/>
<rect x="520.61" y="143.60" width="12.19" height="2.53" fill="#c09490"/>
<rect x="390.90" y="145.73" width="12.19" height="2.53" fill="#d1cadb"/>
<rect x="402.69" y="145.73" width="12.19" height="2.53" fill="#ccc5d9"/>
<rect x="414.48" y="145.73" width="12.19" height="2.53" fill="#2d265c"/>
<rect x="426.27" y="145.73" width="12.19" height="2.53" fill="#c7bfd6"/>
<rect x="438.07" y="145.73" width="12.19" height="2.53" fill="#f1eae8"/>
<rect x="449.86" y="145.73" width="12.19" height="2.53" fill="#c7bfd6"/>
<rect x="461.65" y="145.73" width="12.19" height="2.53" fill="#a297c2"/>
<rect x="473.44" y="145.73" width="12.19" height="2.53" fill="#e0cbc8"/>
<rect x="485.23" y="145.73" width="12.19" height="2.53" fill="#935050"/>
<rect x="497.02" y="145.73" width="12.19" height="2.53" fill="#854041"/>
<rect x="508.82" y="145.73" width="12.19" height="2.53" fill="#72292b"/>
<rect x="520.61" y="145.73" width="12.19" height="2.53" fill="#732b2d"/>
<rect x="390.90" y="147.87" width="12.19" height="2.53" fill="#362e66"/>
<rect x="402.69" y="147.87" width="12.19" height="2.53" fill="#1b1549"/>
<rect x="414.48" y="147.87" width="12.19" height="2.53" fill="#1b1549"/>
<rect x="426.27" y="147.87" width="12.19" height="2.53" fill="#332c63"/>
<rect x="438.07" y="147.87" width="12.19" height="2.53" fill="#1b1549"/>
<rect x="449.86" y="147.87" width="12.19" height="2.53" fill="#1b1549"/>
<rect x="461.65" y="147.87" width="12.19" height="2.53" fill="#1b1549"/>
<rect x="473.44" y="147.87" width="12.19" height="2.53" fill="#1b1549"/>
<rect x="485.23" y="147.87" width="12.19" height="2.53" fill="#783132"/>
<rect x="497.02" y="147.87" width="12.19" height="2.53" fill="#651a1c"/>
<rect x="508.82" y="147.87" width="12.19" height="2.53" fill="#7b3435"/>
<rect x="520.61" y="147.87" width="12.19" height="2.53" fill="#8c4748"/>
<rect x="373.70" y="51.80" width="14.10" height="98.20" fill="#df8e7e"/>
<rect x="373.70" y="122.90" width="14.10" height="2.90" fill="#6dc1df"/>
<rect x="373.70" y="132.70" width="14.10" height="3.00" fill="#6dc1df"/>
<rect x="373.70" y="138.40" width="14.10" height="11.60" fill="#6dc1df"/>
<path d="M533,52.60 H534.81 V55.00 H533 M533,55.80 H534.88 V57.00 H533 M533,57.80 H535.36 V59.60 H533 M533,60.40 H534.76 V62.20 H533 M533,63.00 H535.36 V65.40 H533 M533,65.90 H535.39 V67.70 H533 M533,68.20 H535.12 V70.60 H533 M533,71.10 H535.59 V73.50 H533 M533,74.00 H535.54 V75.80 H533 M533,76.60 H535.32 V77.80 H533 M533,78.60 H535.74 V81.00 H533 M533,81.50 H535.38 V82.70 H533 M533,83.50 H535.16 V84.70 H533 M533,85.20 H535.28 V87.00 H533 M533,87.50 H536.16 V88.70 H533 M533,89.20 H536.05 V90.40 H533 M533,90.90 H535.27 V92.10 H533 M533,92.60 H535.68 V93.80 H533 M533,94.60 H535.24 V97.00 H533 M533,97.80 H535.31 V99.60 H533 M533,100.10 H535.61 V101.30 H533 M533,102.10 H535.68 V103.30 H533 M533,103.80 H536.01 V105.00 H533 M533,105.80 H535.38 V107.00 H533 M533,107.80 H535.00 V110.20 H533 M533,111.00 H534.83 V112.20 H533 M533,112.70 H535.24 V115.10 H533 M533,115.60 H535.82 V116.80 H533 M533,117.60 H535.73 V120.00 H533 M533,120.50 H535.43 V122.30 H533 M533,122.80 H535.94 V124.00 H533 M533,124.50 H534.91 V125.70 H533 M533,126.50 H536.16 V127.70 H533 M533,128.50 H535.74 V129.70 H533 M533,130.20 H535.79 V131.40 H533 M533,131.90 H534.80 V133.10 H533 M533,133.90 H535.00 V136.30 H533 M533,137.10 H534.85 V139.50 H533 M533,140.00 H534.87 V142.40 H533 M533,142.90 H535.70 V145.30 H533 M533,145.80 H535.49 V147.60 H533 M536,53 H537.0 V62 H536 M536,64 H537.6 V78 H536 M536,80 H537.2 V97 H536 M536,99 H538.0 V118 H536 M536,120 H537.0 V131 H536 M536,133 H537.6 V148 H536 M536,57 H538.6 V71 H536 M536,88 H539.3 V108 H536 M536,125 H538.8 V140 H536 M536,64 H540.0 V98 H536 M536,98 H540.6 V132 H536" fill="none" stroke="#111" stroke-width="0.55"/>
<text x="399.00" y="151.60" font-size="6.6" text-anchor="end" fill="#000" transform="rotate(-90 399.00 151.60)">TRIM29</text>
<text x="410.79" y="151.60" font-size="6.6" text-anchor="end" fill="#e0452e" transform="rotate(-90 410.79 151.60)">TRIM31</text>
<text x="422.58" y="151.60" font-size="6.6" text-anchor="end" fill="#000" transform="rotate(-90 422.58 151.60)">TRIM59</text>
<text x="434.37" y="151.60" font-size="6.6" text-anchor="end" fill="#000" transform="rotate(-90 434.37 151.60)">TRIM27</text>
<text x="446.16" y="151.60" font-size="6.6" text-anchor="end" fill="#000" transform="rotate(-90 446.16 151.60)">TRIM28</text>
<text x="457.95" y="151.60" font-size="6.6" text-anchor="end" fill="#000" transform="rotate(-90 457.95 151.60)">TRIM36</text>
<text x="469.75" y="151.60" font-size="6.6" text-anchor="end" fill="#000" transform="rotate(-90 469.75 151.60)">TRIM25</text>
<text x="481.54" y="151.60" font-size="6.6" text-anchor="end" fill="#000" transform="rotate(-90 481.54 151.60)">TRIM2</text>
<text x="493.33" y="151.60" font-size="6.6" text-anchor="end" fill="#e0452e" transform="rotate(-90 493.33 151.60)">TRIM8</text>
<text x="505.12" y="151.60" font-size="6.6" text-anchor="end" fill="#000" transform="rotate(-90 505.12 151.60)">TRIM69</text>
<text x="516.91" y="151.60" font-size="6.6" text-anchor="end" fill="#000" transform="rotate(-90 516.91 151.60)">TRIM38</text>
<text x="528.70" y="151.60" font-size="6.6" text-anchor="end" fill="#000" transform="rotate(-90 528.70 151.60)">TRIM22</text>
</g>
<g id="panelC">
<text x="553.50" y="11.00" font-size="13.4" font-weight="bold" stroke="#000" stroke-width="0.22" fill="#000">C</text>
<text x="578.00" y="20.60" font-size="6.4" fill="#000">Tissue</text>
<rect x="599.8" y="15.2" width="5.6" height="5.6" fill="#fff" stroke="#e8a583" stroke-width="0.6"/>
<rect x="599.8" y="15.2" width="5.6" height="5.6" fill="#e8a583" opacity="0.4"/>
<path d="M600.4,18.0 h4.4 M602.5999999999999,15.8 v4.4" stroke="#fff" stroke-width="0.5" opacity="0.8" fill="none"/>
<text x="609.00" y="20.60" font-size="5.9" fill="#000">COAD</text>
<rect x="629.4" y="15.2" width="5.6" height="5.6" fill="#fff" stroke="#e2ce3b" stroke-width="0.6"/>
<rect x="629.4" y="15.2" width="5.6" height="5.6" fill="#e2ce3b" opacity="0.4"/>
<path d="M630.0,18.0 h4.4 M632.1999999999999,15.8 v4.4" stroke="#fff" stroke-width="0.5" opacity="0.8" fill="none"/>
<text x="638.60" y="20.60" font-size="5.9" fill="#000">READ</text>
<rect x="659.6" y="15.2" width="5.6" height="5.6" fill="#fff" stroke="#6ec3e2" stroke-width="0.6"/>
<rect x="659.6" y="15.2" width="5.6" height="5.6" fill="#6ec3e2" opacity="0.4"/>
<path d="M660.2,18.0 h4.4 M662.4,15.8 v4.4" stroke="#fff" stroke-width="0.5" opacity="0.8" fill="none"/>
<text x="668.80" y="20.60" font-size="5.9" fill="#000">Colon</text>
<line x1="578.70" y1="147.10" x2="578.70" y2="31.00" stroke="#000" stroke-width="0.75"/>
<polyline points="576.66,33.80 578.70,30.40 580.74,33.80" fill="none" stroke="#000" stroke-width="0.75"/>
<line x1="578.70" y1="147.10" x2="683.00" y2="147.10" stroke="#000" stroke-width="0.75"/>
<polyline points="680.20,145.06 683.60,147.10 680.20,149.14" fill="none" stroke="#000" stroke-width="0.75"/>
<line x1="577.10" y1="142.40" x2="578.70" y2="142.40" stroke="#111" stroke-width="0.5"/>
<text x="575.90" y="144.30" font-size="5.6" text-anchor="end" fill="#222">0</text>
<line x1="577.10" y1="100.70" x2="578.70" y2="100.70" stroke="#111" stroke-width="0.5"/>
<text x="575.90" y="102.60" font-size="5.6" text-anchor="end" fill="#222">5</text>
<line x1="577.10" y1="59.00" x2="578.70" y2="59.00" stroke="#111" stroke-width="0.5"/>
<text x="575.90" y="60.90" font-size="5.6" text-anchor="end" fill="#222">10</text>
<text x="566.80" y="86.30" font-size="6.53" text-anchor="middle" fill="#000" transform="rotate(-90 566.80 86.30)">log2 TPM of TRIM31</text>
<path d="M600.8,140.9h0M587.7,141.0h0M589.6,138.1h0M585.2,140.9h0M602.9,138.9h0M596.0,139.8h0M589.8,141.2h0M587.8,141.3h0M599.5,137.9h0M595.5,140.8h0M585.6,142.2h0M588.3,137.3h0M600.2,136.7h0M595.4,142.2h0M592.2,139.0h0M602.5,141.9h0M598.0,140.3h0M600.1,140.1h0M596.9,140.9h0M596.3,140.6h0M585.3,141.4h0M598.4,141.6h0M599.6,141.9h0M599.7,139.1h0M592.0,140.4h0M600.5,140.2h0M601.3,139.1h0M593.0,138.6h0M591.4,141.9h0M592.3,139.0h0M597.9,136.8h0M589.2,137.8h0M592.9,140.6h0M603.0,139.7h0M586.9,139.7h0M594.3,137.6h0M585.9,140.8h0M594.3,138.3h0M586.2,140.1h0M585.8,140.2h0M594.3,140.0h0M601.5,140.2h0M598.4,141.8h0M599.5,136.1h0M585.9,138.4h0M592.5,142.1h0M599.8,141.4h0M589.1,141.5h0M588.8,139.5h0M598.1,140.5h0M600.0,141.6h0M588.0,138.9h0M601.4,139.3h0M594.8,139.3h0M599.9,141.1h0M595.0,138.8h0M599.2,141.1h0M588.9,137.4h0M588.0,141.4h0M600.5,136.5h0M587.1,139.7h0M592.1,138.9h0M594.1,141.7h0M593.2,141.7h0M602.7,141.7h0M594.7,138.2h0M601.9,141.9h0M588.3,141.0h0M595.9,137.8h0M600.4,139.4h0M587.5,141.4h0M592.0,140.0h0M598.3,140.6h0M586.8,140.3h0M592.4,139.6h0M592.5,133.8h0M598.9,135.7h0M593.8,134.4h0M602.1,139.3h0M595.0,142.0h0M588.3,138.1h0M592.6,141.1h0M598.8,136.9h0M588.2,139.7h0M593.6,138.1h0M585.9,139.0h0M601.0,136.9h0M586.1,138.8h0M597.8,139.9h0M594.6,141.4h0M600.9,141.1h0M587.7,141.1h0M592.2,141.7h0M595.4,136.0h0M596.7,140.2h0M589.5,139.8h0M602.2,142.2h0M592.5,134.2h0M599.5,139.1h0M597.2,141.7h0M593.4,138.4h0M592.6,142.2h0M594.9,142.1h0M592.9,139.5h0M585.7,138.9h0M594.4,139.0h0M601.8,141.9h0M593.8,138.8h0M587.0,141.0h0M588.7,141.8h0M589.4,141.6h0M594.6,139.9h0M600.4,141.6h0M587.4,141.7h0M600.1,140.7h0M596.6,141.5h0M597.5,142.0h0M586.5,141.5h0M597.1,142.2h0M592.2,141.6h0M597.2,140.9h0M585.9,138.0h0M591.9,138.9h0M588.6,140.0h0M599.0,142.1h0M602.3,142.2h0M603.0,139.6h0M596.5,140.8h0M588.9,142.1h0M595.8,138.1h0M587.8,142.1h0M597.9,141.3h0M602.6,141.1h0M591.4,138.3h0M593.2,139.3h0M593.9,141.6h0M593.4,136.6h0M599.8,140.1h0M598.2,141.5h0M591.6,139.4h0M594.7,141.3h0M600.0,140.5h0M595.5,141.2h0M599.2,139.3h0M588.7,139.1h0M588.3,141.0h0M593.9,138.0h0M601.0,142.2h0M595.8,139.4h0M586.9,141.0h0M591.1,141.2h0M602.8,139.0h0M590.5,136.5h0M599.4,133.0h0M598.3,140.5h0M585.2,139.5h0M587.4,136.5h0M599.3,141.4h0M599.2,136.9h0M595.9,139.9h0M600.4,141.2h0M594.3,141.3h0M601.7,141.7h0M595.6,138.3h0M592.5,141.4h0M585.3,141.0h0M595.2,141.6h0M588.5,140.3h0M594.2,139.2h0M594.0,138.4h0M589.5,139.9h0M589.6,139.8h0M590.6,140.6h0M597.3,140.2h0M603.1,139.5h0M592.9,139.8h0M598.2,140.6h0M600.4,142.1h0M601.2,140.2h0M599.0,141.6h0M592.6,142.1h0M596.2,141.8h0M594.1,140.6h0M589.8,137.1h0M601.9,139.8h0M594.8,141.3h0M585.8,138.3h0M600.1,140.1h0M601.0,142.2h0M593.9,140.7h0M600.6,139.7h0M586.0,138.2h0M593.3,140.1h0M591.5,141.9h0M588.7,140.0h0M600.4,139.6h0M589.4,140.1h0M600.5,139.7h0M600.2,138.5h0M590.0,139.6h0M592.1,134.3h0M601.4,142.2h0M592.6,141.6h0M599.3,140.4h0M588.0,139.2h0M587.4,140.1h0M592.4,141.1h0M594.4,141.2h0M597.9,135.8h0M596.5,139.7h0M597.4,138.7h0M585.2,140.7h0M588.2,139.9h0M598.5,139.5h0M589.5,136.4h0M602.0,139.3h0M595.4,138.1h0M601.4,140.2h0M589.6,141.3h0M590.2,140.5h0M587.7,141.0h0M597.4,141.4h0M599.1,141.5h0M590.9,137.5h0M599.0,141.8h0M597.4,138.9h0M599.2,139.0h0M588.0,141.6h0M593.8,140.4h0M597.4,138.1h0M599.5,142.2h0M589.6,138.0h0M589.6,142.2h0M596.3,138.9h0M592.7,138.3h0M603.3,140.8h0M586.0,137.4h0M588.1,140.8h0M600.4,140.8h0M597.5,142.2h0M592.3,136.8h0M592.5,140.3h0M595.0,140.9h0M586.1,140.3h0M602.6,141.2h0M594.9,142.2h0M597.4,139.2h0M592.2,137.1h0M585.1,140.5h0M589.1,136.8h0M595.1,138.0h0M597.9,140.3h0M600.3,139.0h0M586.0,137.4h0M590.3,139.0h0M602.7,142.2h0M587.9,139.6h0M589.0,141.8h0M596.9,140.8h0M602.4,141.6h0M586.5,141.6h0M596.4,141.3h0M586.9,142.0h0M601.4,141.1h0M585.9,141.1h0M594.3,142.1h0M598.6,141.8h0M602.1,142.2h0M603.1,139.8h0M602.0,141.2h0M590.7,137.7h0M590.8,141.5h0M596.0,136.3h0M590.3,141.7h0M593.0,142.2h0M589.5,142.2h0M602.8,139.9h0M595.3,140.6h0M600.7,141.5h0M590.3,140.6h0M588.5,139.8h0M587.9,140.5h0M589.3,137.7h0M591.6,137.6h0M590.9,141.5h0M587.0,142.2h0M598.9,139.8h0M594.3,136.1h0M592.8,140.5h0M590.4,141.8h0M588.3,141.4h0M587.3,138.5h0M597.7,138.2h0M588.9,142.2h0M591.0,138.6h0M600.7,140.9h0M598.6,138.2h0M589.6,140.5h0M589.8,139.4h0M594.2,140.7h0M589.3,141.9h0M602.8,141.7h0M586.6,139.5h0M600.9,142.2h0M594.8,141.6h0M586.3,141.3h0M595.5,139.6h0M593.7,139.1h0M592.7,142.2h0M587.4,141.1h0M601.5,139.3h0M599.3,142.2h0M586.3,138.3h0M587.8,140.3h0M591.1,141.6h0M588.5,139.1h0M601.8,141.4h0M596.8,136.8h0M594.4,141.1h0M601.7,136.9h0M596.2,135.0h0M585.7,139.2h0M589.0,139.4h0M592.6,141.6h0M596.7,140.4h0M588.7,138.6h0M590.5,135.6h0M588.0,137.5h0M590.0,142.1h0M586.8,137.4h0M591.0,133.2h0M599.1,134.5h0M600.1,113.9h0M596.3,122.6h0M597.7,115.8h0M592.2,110.0h0M590.8,114.7h0M599.3,130.1h0M591.4,107.1h0M593.2,105.9h0M598.9,130.9h0M589.1,129.8h0M594.5,129.7h0M589.0,120.9h0M594.4,103.5h0M597.5,116.3h0M591.0,127.8h0M596.1,109.1h0M592.3,110.2h0M594.8,123.9h0M596.6,125.1h0M597.9,116.7h0M594.4,109.1h0M596.1,114.0h0M592.0,135.0h0M600.8,136.2h0M597.6,110.1h0M599.9,127.5h0M595.6,134.6h0M589.0,129.6h0M598.7,109.7h0M587.9,102.6h0M588.5,105.3h0M589.0,135.1h0M591.8,114.5h0M596.1,125.6h0M596.7,121.2h0M595.0,120.6h0M592.9,124.5h0M593.2,128.0h0M589.9,115.6h0M598.8,125.2h0M592.8,126.2h0M593.4,130.9h0M592.5,103.7h0M598.4,122.8h0M592.4,123.3h0M593.2,122.7h0M591.4,116.0h0M598.4,132.1h0M601.2,134.7h0M593.6,108.9h0M593.3,108.6h0M596.8,131.5h0M596.4,111.9h0M596.4,129.2h0M597.3,125.6h0M594.7,103.3h0M595.3,111.7h0M589.8,105.7h0M595.7,129.8h0M595.4,119.3h0M588.2,131.4h0M587.8,106.7h0M597.7,136.5h0M596.7,108.3h0M594.6,112.5h0M590.9,105.2h0M589.4,108.8h0M597.7,131.9h0M592.8,117.2h0M590.6,111.5h0M593.8,103.2h0M597.0,115.1h0M596.3,126.8h0M593.5,109.9h0M594.3,137.6h0M598.9,118.4h0M591.5,115.9h0M595.4,128.4h0M596.9,124.3h0M592.7,106.8h0M593.3,102.9h0M588.8,133.2h0M595.7,104.5h0M596.9,123.3h0M590.1,120.5h0M591.4,112.3h0M598.7,117.9h0M592.3,117.0h0M595.4,120.6h0M589.9,128.3h0M588.6,125.9h0M590.6,104.8h0M596.8,115.9h0M598.4,108.4h0M591.1,125.1h0M594.4,104.6h0M597.0,118.4h0M595.6,128.4h0M594.1,113.0h0M598.9,129.2h0M590.7,118.2h0M591.2,120.1h0M588.6,136.3h0M593.0,109.9h0M593.5,130.6h0M593.5,136.3h0M594.2,128.1h0M589.5,118.5h0M595.9,119.2h0M595.0,115.9h0M589.1,133.1h0M588.7,102.8h0M597.5,114.7h0M597.7,115.7h0M593.7,134.0h0M596.9,137.0h0M595.4,102.9h0M595.7,131.1h0M590.5,129.0h0M588.8,128.3h0M599.8,129.1h0M593.2,112.8h0M593.4,112.2h0M600.9,103.3h0M597.7,135.1h0M588.4,109.9h0M595.1,122.8h0M599.0,127.2h0M596.6,104.9h0M599.0,124.2h0M588.8,133.0h0M594.2,128.8h0M596.1,105.8h0M597.9,107.4h0M590.8,114.9h0M597.2,104.1h0M597.1,129.2h0M597.3,114.6h0M594.6,104.2h0M596.0,129.4h0M596.6,132.9h0M590.5,103.3h0M595.7,103.1h0M591.1,129.9h0M594.8,122.5h0M596.7,116.3h0M596.2,113.4h0M590.7,112.3h0M591.6,121.3h0M589.0,135.9h0M591.3,103.0h0M588.4,115.5h0M593.7,108.1h0M590.8,129.1h0M598.5,119.8h0M595.5,106.2h0M599.2,134.6h0M599.9,132.4h0M594.5,129.7h0M601.5,137.8h0M598.6,135.0h0M596.2,114.3h0M587.7,103.3h0M593.4,112.2h0M589.6,107.6h0M593.8,137.8h0M596.3,111.0h0M594.9,110.3h0M596.8,134.5h0M589.7,122.9h0M590.4,127.2h0M594.7,111.6h0M588.0,132.8h0M589.1,128.6h0M593.6,120.0h0M599.2,102.9h0M591.5,124.2h0M599.2,131.3h0M589.0,108.8h0M591.7,126.9h0M600.0,119.1h0M596.1,118.7h0M594.5,117.5h0M597.6,117.2h0M596.3,130.2h0M588.4,134.1h0M598.8,126.2h0M597.4,103.3h0M588.8,100.9h0M590.6,85.3h0M600.7,90.8h0M590.1,98.9h0M592.5,88.8h0M591.2,92.7h0M588.4,85.7h0M599.1,94.0h0M587.9,96.7h0M599.0,92.5h0M594.1,93.1h0M591.2,86.3h0M597.2,94.7h0M595.5,95.6h0M592.1,91.6h0M590.1,101.3h0M593.4,96.3h0M597.5,87.6h0M596.3,99.2h0M599.9,85.4h0M593.0,97.1h0M589.7,94.6h0M595.5,89.3h0M597.3,92.2h0M600.8,101.8h0M599.9,104.4h0M594.7,91.6h0M597.1,100.0h0M597.3,95.4h0M600.4,88.9h0M588.4,94.8h0M588.6,97.2h0M600.1,101.2h0M587.7,92.4h0M596.1,81.1h0M589.3,99.8h0M598.6,103.4h0M589.1,96.0h0M595.2,84.7h0M594.8,95.2h0M590.9,94.1h0M587.4,93.7h0M588.7,92.1h0M597.4,99.9h0M597.0,102.1h0M599.9,93.4h0M599.4,81.1h0M587.6,105.0h0M599.8,95.1h0M600.3,95.1h0M587.7,96.3h0M592.9,92.3h0M601.1,97.9h0M597.3,87.5h0M589.6,98.9h0M589.8,103.3h0M587.8,94.6h0M599.3,89.1h0M595.9,81.1h0M590.3,94.5h0M596.1,81.3h0M600.3,104.1h0M593.9,86.7h0M592.4,83.0h0M596.2,93.6h0M598.0,86.6h0M592.6,95.1h0M588.7,96.5h0M588.1,94.3h0M589.0,88.1h0M591.1,106.1h0M598.6,83.0h0M590.9,94.6h0M595.4,97.1h0M599.4,84.8h0M595.6,91.4h0M595.0,81.1h0M591.5,100.9h0M590.8,94.4h0M589.8,96.3h0M592.2,83.4h0M588.5,98.4h0M587.7,103.3h0M597.6,111.0h0M589.9,104.2h0M598.7,93.1h0M594.7,99.1h0M589.1,84.8h0M595.6,104.5h0M601.1,94.5h0M594.6,103.8h0M593.0,95.1h0M600.6,99.3h0M589.2,97.4h0M590.1,107.5h0M598.3,87.6h0M597.5,99.0h0M594.5,97.7h0M592.7,98.3h0M588.4,97.9h0M590.7,85.4h0M597.6,86.5h0M590.0,92.8h0M596.3,101.7h0M589.4,93.2h0M596.1,97.5h0M593.4,110.7h0M592.0,99.1h0M590.2,93.3h0M592.0,99.6h0M587.8,97.0h0M589.0,87.7h0M600.4,87.0h0M597.4,107.7h0M588.2,91.6h0M595.9,93.3h0M598.6,91.5h0M600.7,98.0h0M593.2,92.7h0M597.3,109.4h0M599.4,96.9h0M598.4,89.2h0M596.6,103.5h0M590.1,98.1h0M594.4,99.7h0M599.7,93.1h0M588.0,86.4h0M598.8,97.7h0M595.9,81.1h0M599.6,98.3h0M595.3,88.3h0M591.6,90.5h0M594.2,102.7h0M593.2,101.0h0M588.7,94.0h0M587.8,102.2h0M592.6,104.7h0M593.2,96.5h0M591.3,105.2h0M592.5,95.5h0M588.5,97.9h0M597.6,90.7h0M593.1,87.0h0M593.2,106.9h0M600.3,97.1h0M590.7,89.1h0M596.6,81.1h0M592.2,94.2h0M599.5,93.1h0M591.4,98.8h0M595.0,81.1h0M599.3,97.3h0M599.5,90.8h0M591.0,88.3h0M597.3,103.9h0M597.5,104.6h0M588.5,103.9h0M590.2,94.7h0M592.7,89.3h0M591.5,100.3h0M590.1,81.5h0M588.6,99.9h0M597.6,92.7h0M593.0,96.3h0M589.8,102.6h0M596.5,97.8h0M600.4,95.9h0M595.0,105.0h0M599.6,95.8h0M597.4,102.3h0M599.4,88.2h0M597.7,103.1h0M591.5,103.3h0M600.9,101.9h0M596.8,92.4h0M591.1,85.7h0M599.9,103.7h0M596.9,90.5h0M588.9,89.7h0M589.3,97.6h0M598.4,90.1h0M597.0,90.8h0M593.1,98.6h0M594.6,109.5h0M593.5,94.2h0M594.8,97.8h0M597.1,93.8h0M592.3,91.0h0M599.1,81.1h0M589.2,97.0h0M598.3,87.5h0M596.2,92.8h0M593.0,98.2h0M598.0,101.3h0M588.4,104.4h0M588.0,108.9h0M593.3,91.3h0M597.6,90.6h0M591.2,99.9h0M589.0,88.6h0M591.3,93.5h0M589.7,94.7h0M593.1,100.3h0M589.3,99.4h0M591.3,89.1h0M591.5,90.9h0M595.7,95.8h0M599.6,87.8h0M595.4,90.8h0M593.7,103.3h0M597.7,83.8h0M589.4,94.5h0M593.3,81.1h0M597.6,99.4h0M594.6,108.8h0M593.5,89.1h0M594.4,81.1h0M594.9,95.2h0M595.9,92.0h0M592.4,81.1h0M599.7,86.1h0M596.1,87.9h0M591.3,96.7h0M592.8,98.0h0M591.2,102.5h0M589.5,100.8h0M599.9,94.0h0M599.2,89.6h0M591.3,81.1h0M594.7,82.1h0M593.6,91.2h0M590.3,91.7h0M588.6,89.8h0M588.4,93.9h0M597.5,81.9h0M599.1,97.7h0M593.4,95.2h0M588.2,103.3h0M589.2,102.8h0M598.4,90.1h0M594.3,85.9h0M591.8,86.6h0M588.1,86.3h0M595.5,99.9h0M590.7,81.1h0M588.9,89.2h0M597.7,95.5h0M599.9,93.0h0M598.8,99.1h0M594.4,98.3h0M596.0,91.2h0M588.7,95.8h0M590.4,91.8h0M592.1,91.7h0M595.5,104.4h0M598.5,83.9h0M599.6,81.1h0M590.8,98.0h0M598.6,89.7h0M595.9,86.0h0" stroke="#6ec3e2" stroke-width="1.3" stroke-linecap="square" fill="none" opacity="0.8"/>
<path d="M586.46,142.23 L585.81,141.20 L585.60,140.16 L585.81,139.12 L586.36,138.09 L587.13,137.05 L587.99,136.02 L588.81,134.98 L589.49,133.94 L589.99,132.91 L590.28,131.87 L590.42,130.84 L590.49,129.80 L590.55,128.76 L590.65,127.73 L590.77,126.69 L590.90,125.65 L591.02,124.62 L591.10,123.58 L591.14,122.55 L591.15,121.51 L591.11,120.47 L591.05,119.44 L590.98,118.40 L590.90,117.37 L590.84,116.33 L590.81,115.29 L590.79,114.26 L590.77,113.22 L590.72,112.19 L590.64,111.15 L590.55,110.11 L590.45,109.08 L590.31,108.04 L590.13,107.00 L589.90,105.97 L589.68,104.93 L589.52,103.90 L589.44,102.86 L589.42,101.82 L589.41,100.79 L589.37,99.75 L589.29,98.72 L589.19,97.68 L589.11,96.64 L589.07,95.61 L589.08,94.57 L589.14,93.53 L589.24,92.50 L589.39,91.46 L589.56,90.43 L589.74,89.39 L589.94,88.35 L590.15,87.32 L590.38,86.28 L590.59,85.25 L590.78,84.21 L590.94,83.17 L591.09,82.14 L591.29,81.10 L597.11,81.10 L597.31,82.14 L597.46,83.17 L597.62,84.21 L597.81,85.25 L598.02,86.28 L598.25,87.32 L598.46,88.35 L598.66,89.39 L598.84,90.43 L599.01,91.46 L599.16,92.50 L599.26,93.53 L599.32,94.57 L599.33,95.61 L599.29,96.64 L599.21,97.68 L599.11,98.72 L599.03,99.75 L598.99,100.79 L598.98,101.82 L598.96,102.86 L598.88,103.90 L598.72,104.93 L598.50,105.97 L598.27,107.00 L598.09,108.04 L597.95,109.08 L597.85,110.11 L597.76,111.15 L597.68,112.19 L597.63,113.22 L597.61,114.26 L597.59,115.29 L597.56,116.33 L597.50,117.37 L597.42,118.40 L597.35,119.44 L597.29,120.47 L597.25,121.51 L597.26,122.55 L597.30,123.58 L597.38,124.62 L597.50,125.65 L597.63,126.69 L597.75,127.73 L597.85,128.76 L597.91,129.80 L597.98,130.84 L598.12,131.87 L598.41,132.91 L598.91,133.94 L599.59,134.98 L600.41,136.02 L601.27,137.05 L602.04,138.09 L602.59,139.12 L602.80,140.16 L602.59,141.20 L601.94,142.23 Z" fill="none" stroke="#6ec3e2" stroke-width="0.6" stroke-linejoin="round"/>
<line x1="594.20" y1="142.23" x2="594.20" y2="81.10" stroke="#fff" stroke-width="0.6"/>
<rect x="592.90" y="99.10" width="2.60" height="40.69" fill="#fff" opacity="0.95"/>
<path d="M617.5,84.2h0M624.8,99.0h0M619.0,113.7h0M623.2,94.6h0M612.4,100.4h0M625.7,99.4h0M616.5,78.8h0M615.4,97.4h0M615.5,96.9h0M614.1,87.1h0M624.7,94.1h0M617.1,100.5h0M620.7,76.3h0M625.9,103.6h0M621.6,89.1h0M613.8,90.3h0M617.4,80.8h0M615.2,102.4h0M617.4,92.6h0M624.0,96.0h0M613.2,106.5h0M627.0,94.6h0M611.5,96.7h0M619.2,90.8h0M619.9,97.4h0M625.6,96.3h0M612.0,82.7h0M615.0,76.9h0M624.8,86.0h0M626.0,89.9h0M620.8,105.3h0M618.2,100.1h0M625.8,85.8h0M617.6,86.8h0M622.7,94.1h0M617.7,84.0h0M616.3,102.1h0M615.6,103.0h0M613.0,103.8h0M625.5,88.4h0M624.8,94.7h0M621.6,93.2h0M624.9,88.9h0M623.9,88.7h0M622.7,108.2h0M613.4,92.3h0M615.1,83.2h0M615.3,92.3h0M622.1,92.6h0M616.4,73.3h0M618.0,101.2h0M624.5,94.3h0M611.8,96.8h0M611.4,90.7h0M613.8,99.3h0M609.0,93.9h0M618.4,97.0h0M617.1,85.0h0M612.5,87.9h0M613.3,81.0h0M619.8,89.1h0M620.7,99.7h0M623.3,93.3h0M628.8,93.5h0M619.2,98.4h0M612.2,82.6h0M625.4,100.3h0M617.5,95.4h0M620.9,94.9h0M618.7,112.5h0M610.3,93.6h0M617.1,77.9h0M622.1,87.0h0M626.6,96.0h0M623.3,107.1h0M622.2,97.2h0M613.9,79.7h0M620.9,97.2h0M616.2,100.1h0M617.4,105.8h0M612.9,94.6h0M612.0,96.6h0M614.6,85.5h0M612.6,95.8h0M622.9,86.7h0M620.0,99.7h0M623.3,79.4h0M617.6,78.9h0M626.7,99.9h0M625.8,94.1h0M620.1,80.7h0M626.2,90.0h0M618.8,84.9h0M613.6,91.8h0M616.1,102.7h0M616.1,93.2h0M615.3,83.1h0M622.8,73.0h0M623.1,80.1h0M611.7,89.5h0M611.3,86.0h0M617.2,86.1h0M615.0,81.4h0M616.9,89.4h0M618.4,78.2h0M609.2,93.2h0M619.0,88.4h0M626.4,87.8h0M614.4,95.7h0M614.6,91.8h0M626.2,90.5h0M611.5,87.1h0M619.1,97.1h0M622.6,91.1h0M609.7,96.5h0M612.5,101.0h0M621.2,78.1h0M614.8,99.2h0M611.3,85.2h0M617.3,98.0h0M617.7,93.7h0M618.4,99.8h0M612.1,100.0h0M616.3,97.6h0M624.1,91.5h0M615.6,107.4h0M611.3,89.8h0M622.5,97.1h0M615.1,104.4h0M616.1,105.2h0M621.7,102.3h0M619.9,92.9h0M618.4,89.5h0M612.4,96.4h0M623.3,105.4h0M625.9,99.7h0M616.0,85.1h0M620.5,99.5h0M624.6,101.5h0M616.7,102.6h0M622.1,74.8h0M609.8,89.8h0M620.7,100.1h0M622.4,87.1h0M624.1,106.0h0M617.1,91.8h0M625.4,102.0h0M619.6,117.4h0M615.7,95.1h0M617.3,110.9h0M619.2,82.8h0M623.5,90.6h0M618.0,94.2h0M623.1,99.9h0M623.3,96.5h0M624.5,95.6h0M622.5,94.5h0M617.6,87.4h0M612.3,88.1h0M609.7,93.5h0M614.6,101.0h0M614.4,107.9h0M619.3,106.6h0M619.1,78.6h0M616.2,90.2h0M612.3,85.5h0M618.0,101.7h0M617.3,93.8h0M608.6,93.4h0M613.5,89.7h0M614.2,103.0h0M609.9,93.5h0M620.0,110.5h0M624.1,97.9h0M621.0,89.2h0M610.1,97.0h0M609.7,95.6h0M620.1,98.1h0M619.2,83.9h0M624.1,91.3h0M621.5,103.4h0M614.3,93.3h0M612.9,85.1h0M621.4,91.3h0M612.6,96.9h0M625.7,102.0h0M615.9,90.8h0M611.7,96.0h0M610.3,91.2h0M621.9,97.0h0M625.8,98.7h0M612.4,102.7h0M627.8,93.4h0M614.7,75.1h0M609.8,94.0h0M613.0,99.1h0M622.9,89.4h0M621.7,85.0h0M614.7,98.3h0M618.3,80.7h0M614.9,78.7h0M613.6,98.0h0M613.1,81.4h0M626.3,94.8h0M620.1,99.0h0M622.4,82.9h0M621.8,74.4h0M610.6,88.2h0M617.3,100.7h0M624.0,83.8h0M619.5,91.0h0M625.9,89.4h0M626.2,88.0h0M617.2,108.5h0M623.8,91.6h0M615.3,95.0h0M619.7,105.0h0M614.3,107.0h0M618.2,113.6h0M614.8,104.2h0M611.4,101.5h0M612.6,99.1h0M613.4,84.5h0M616.8,101.3h0M611.0,93.2h0M613.3,101.5h0M618.4,99.0h0M620.3,101.3h0M615.1,89.8h0M620.7,85.3h0M609.4,89.9h0M623.1,85.4h0M612.0,100.5h0M620.5,88.6h0M622.7,89.6h0M621.3,108.9h0M625.0,93.9h0M621.4,82.8h0M619.3,76.1h0M611.9,96.6h0M623.2,106.3h0M623.9,86.7h0M627.0,93.5h0M626.1,92.1h0M619.7,96.9h0M618.9,80.5h0M625.0,92.0h0M615.7,78.5h0M622.3,104.2h0M625.2,99.7h0M622.1,89.0h0M614.2,90.4h0M620.4,95.0h0M624.9,100.2h0M621.2,79.3h0M610.4,88.5h0M612.4,86.9h0M626.6,97.1h0M619.3,100.7h0M623.2,109.2h0M609.9,88.4h0M616.4,94.1h0M612.6,91.7h0M620.2,84.4h0M625.4,95.9h0M617.6,95.4h0M609.5,93.9h0M621.3,84.5h0M620.3,102.5h0M622.6,97.0h0M613.5,94.5h0M614.7,83.4h0M615.9,112.6h0M627.6,96.1h0M616.3,96.9h0M627.7,91.5h0M609.6,99.6h0M615.8,89.5h0M627.3,97.2h0M623.8,101.9h0M624.8,88.9h0M618.7,85.5h0M627.9,93.2h0M609.4,94.3h0M621.4,104.7h0M616.1,102.4h0M611.5,98.5h0M616.6,106.8h0M614.2,96.0h0M623.9,103.1h0M620.2,97.7h0M617.7,102.4h0M615.6,89.4h0M627.2,89.5h0M623.4,90.0h0M619.5,98.3h0M614.5,90.4h0M623.8,94.0h0M619.6,99.2h0M617.4,85.6h0M616.7,90.0h0M618.9,92.0h0M619.3,96.2h0M614.2,100.8h0M626.8,101.6h0M622.7,96.3h0M622.4,95.2h0M612.6,86.2h0M625.5,94.0h0M624.7,84.5h0M624.9,89.5h0M612.8,90.3h0M624.4,101.7h0M625.7,97.9h0M621.9,103.6h0M618.5,96.4h0M614.2,104.1h0M619.9,79.7h0M618.1,92.0h0M624.6,85.2h0M615.1,85.8h0M615.1,105.5h0M620.4,82.9h0M623.1,89.3h0M623.6,81.9h0M614.4,96.3h0M614.1,87.6h0M616.9,82.8h0M624.0,98.0h0M624.1,100.4h0M617.5,77.0h0M616.1,96.9h0M621.7,70.6h0M626.1,99.8h0M624.0,104.5h0M609.9,88.4h0M624.4,94.0h0M618.6,99.8h0M618.4,90.2h0M614.2,110.3h0M620.5,79.4h0M616.3,99.6h0M622.6,106.2h0M615.2,109.5h0M628.3,94.7h0M619.1,80.1h0M626.3,98.3h0M610.7,93.0h0M615.3,83.9h0M621.7,100.0h0M620.3,86.3h0M616.3,105.4h0M621.7,98.7h0M615.6,100.0h0M617.1,108.8h0M619.7,75.0h0M619.6,97.0h0M620.2,95.4h0M624.0,98.7h0M613.5,92.9h0M614.7,87.1h0M621.9,86.5h0M622.5,88.5h0M623.5,89.6h0M612.0,84.3h0M618.7,107.8h0M616.8,94.4h0M612.4,88.4h0M619.8,105.8h0M623.9,101.5h0M622.6,117.6h0M624.1,87.7h0M612.8,100.1h0M619.1,96.9h0M620.4,89.6h0M613.5,105.8h0M617.9,91.0h0M614.4,94.0h0M616.6,93.7h0M625.2,85.9h0M620.7,94.4h0M616.4,79.1h0M615.2,90.8h0M620.6,87.1h0M616.0,90.0h0M615.3,114.6h0M619.2,74.0h0M622.9,98.7h0M609.9,99.2h0M616.7,96.3h0M609.3,93.8h0M616.2,82.3h0M620.6,96.6h0M618.1,84.6h0M623.4,110.4h0M609.8,93.5h0M611.7,91.7h0M614.7,79.8h0M621.6,69.4h0M609.7,95.0h0M620.8,104.7h0M621.7,87.0h0M627.4,97.1h0M619.9,105.5h0M621.9,107.4h0M616.7,103.8h0M628.5,92.4h0M627.8,89.8h0M609.8,89.5h0M618.2,92.3h0M618.8,92.1h0M623.2,99.0h0M616.1,75.5h0M620.2,86.8h0M620.7,86.7h0M621.2,79.6h0M614.3,90.8h0M618.1,101.5h0M613.1,92.8h0M608.8,92.5h0M621.3,132.4h0M618.3,122.9h0M620.3,113.9h0M622.2,110.8h0M618.9,122.8h0M619.9,125.3h0M619.7,132.1h0M621.1,125.3h0M617.0,128.5h0M614.9,120.5h0M615.6,116.1h0M622.6,124.3h0M619.6,129.7h0M622.3,120.9h0M615.3,115.0h0M616.7,133.4h0M620.2,131.1h0M620.6,128.1h0M622.0,137.0h0M619.2,133.2h0" stroke="#e8a583" stroke-width="1.3" stroke-linecap="square" fill="none" opacity="0.8"/>
<path d="M618.48,136.98 L618.41,135.83 L618.34,134.69 L618.27,133.54 L618.22,132.39 L618.19,131.25 L618.18,130.10 L618.17,128.96 L618.17,127.81 L618.17,126.66 L618.17,125.52 L618.17,124.37 L618.18,123.23 L618.18,122.08 L618.17,120.93 L618.15,119.79 L618.11,118.64 L618.03,117.50 L617.93,116.35 L617.79,115.20 L617.62,114.06 L617.40,112.91 L617.12,111.77 L616.77,110.62 L616.34,109.47 L615.83,108.33 L615.23,107.18 L614.55,106.04 L613.79,104.89 L612.96,103.74 L612.08,102.60 L611.20,101.45 L610.37,100.31 L609.64,99.16 L609.05,98.01 L608.62,96.87 L608.38,95.72 L608.30,94.58 L608.38,93.43 L608.61,92.28 L608.96,91.14 L609.43,89.99 L610.01,88.84 L610.68,87.70 L611.42,86.55 L612.19,85.41 L612.95,84.26 L613.67,83.11 L614.32,81.97 L614.90,80.82 L615.41,79.68 L615.88,78.53 L616.31,77.38 L616.72,76.24 L617.09,75.09 L617.42,73.95 L617.72,72.80 L617.96,71.65 L618.16,70.51 L618.32,69.36 L619.08,69.36 L619.24,70.51 L619.44,71.65 L619.68,72.80 L619.98,73.95 L620.31,75.09 L620.68,76.24 L621.09,77.38 L621.52,78.53 L621.99,79.68 L622.50,80.82 L623.08,81.97 L623.73,83.11 L624.45,84.26 L625.21,85.41 L625.98,86.55 L626.72,87.70 L627.39,88.84 L627.97,89.99 L628.44,91.14 L628.79,92.28 L629.02,93.43 L629.10,94.58 L629.02,95.72 L628.78,96.87 L628.35,98.01 L627.76,99.16 L627.03,100.31 L626.20,101.45 L625.32,102.60 L624.44,103.74 L623.61,104.89 L622.85,106.04 L622.17,107.18 L621.57,108.33 L621.06,109.47 L620.63,110.62 L620.28,111.77 L620.00,112.91 L619.78,114.06 L619.61,115.20 L619.47,116.35 L619.37,117.50 L619.29,118.64 L619.25,119.79 L619.23,120.93 L619.22,122.08 L619.22,123.23 L619.23,124.37 L619.23,125.52 L619.23,126.66 L619.23,127.81 L619.23,128.96 L619.22,130.10 L619.21,131.25 L619.18,132.39 L619.13,133.54 L619.06,134.69 L618.99,135.83 L618.92,136.98 Z" fill="none" stroke="#e8a583" stroke-width="0.6" stroke-linejoin="round"/>
<line x1="618.70" y1="117.55" x2="618.70" y2="71.01" stroke="#fff" stroke-width="0.6"/>
<rect x="617.50" y="88.46" width="2.40" height="11.63" fill="#fff" opacity="0.95"/>
<path d="M650.1,97.8h0M640.8,100.0h0M637.8,97.4h0M643.3,121.3h0M636.7,87.9h0M635.6,97.1h0M646.0,106.7h0M650.3,100.1h0M635.2,98.7h0M641.9,87.5h0M644.3,96.9h0M649.7,103.8h0M646.3,96.0h0M646.4,92.9h0M643.0,78.0h0M645.9,122.3h0M640.0,95.1h0M649.7,89.4h0M646.0,112.7h0M647.6,93.2h0M645.3,93.8h0M648.6,91.1h0M637.5,84.1h0M649.8,101.6h0M652.6,95.6h0M641.7,91.7h0M635.8,87.9h0M641.7,122.2h0M636.9,84.7h0M641.0,109.7h0M640.1,116.5h0M643.1,93.8h0M640.7,106.2h0M644.9,105.5h0M643.1,97.4h0M649.0,100.0h0M643.7,106.8h0M634.3,95.3h0M646.7,87.2h0M649.2,103.0h0M643.2,107.9h0M642.0,96.5h0M645.9,95.8h0M636.3,92.8h0M645.8,99.5h0M652.1,88.8h0M644.0,82.5h0M646.9,92.8h0M639.4,97.5h0M648.2,80.8h0M644.4,83.8h0M648.9,84.3h0M641.1,109.1h0M649.0,95.0h0M647.9,91.0h0M636.1,99.7h0M640.8,118.1h0M640.0,91.3h0M644.8,92.7h0M645.6,111.3h0M653.1,98.8h0M636.7,100.7h0M641.0,107.1h0M638.0,91.3h0M640.0,112.7h0M650.5,90.9h0M648.2,107.9h0M647.6,100.7h0M638.0,107.0h0M637.6,97.4h0M648.8,82.6h0M633.5,93.1h0M641.9,96.7h0M642.1,96.4h0M647.7,97.4h0M653.1,93.3h0M653.7,97.5h0M646.4,83.8h0M650.2,84.7h0M636.2,95.8h0M648.9,85.6h0M638.5,111.0h0M639.4,82.9h0M641.2,118.2h0M650.8,96.6h0M636.0,98.3h0M641.0,82.0h0M643.2,104.2h0M644.7,79.4h0M647.6,80.3h0M636.3,94.4h0M646.6,107.4h0M645.1,89.7h0M633.2,94.2h0M642.2,85.9h0M648.9,90.1h0M637.1,90.3h0M648.0,104.7h0M645.3,113.1h0M644.6,99.0h0M642.4,79.1h0M639.7,111.8h0M644.1,98.1h0M642.9,115.0h0M639.5,85.2h0M644.7,90.9h0M643.6,88.1h0M634.1,92.3h0M642.6,111.2h0M649.0,109.4h0M642.3,112.4h0M638.6,93.6h0M649.1,85.1h0M649.7,91.9h0M643.2,96.8h0M639.2,92.1h0M640.3,100.1h0M644.5,81.0h0M642.2,113.0h0M652.7,97.7h0M646.0,124.9h0M641.2,75.8h0" stroke="#e8a583" stroke-width="1.3" stroke-linecap="square" fill="none" opacity="0.8"/>
<path d="M642.78,124.89 L642.64,124.05 L642.50,123.22 L642.36,122.39 L642.22,121.56 L642.08,120.73 L641.92,119.90 L641.76,119.07 L641.57,118.24 L641.35,117.41 L641.11,116.57 L640.85,115.74 L640.57,114.91 L640.28,114.08 L639.99,113.25 L639.71,112.42 L639.47,111.59 L639.25,110.76 L639.06,109.92 L638.91,109.09 L638.77,108.26 L638.64,107.43 L638.50,106.60 L638.31,105.77 L638.07,104.94 L637.74,104.11 L637.33,103.28 L636.82,102.44 L636.23,101.61 L635.60,100.78 L634.94,99.95 L634.30,99.12 L633.73,98.29 L633.27,97.46 L632.93,96.63 L632.74,95.79 L632.70,94.96 L632.81,94.13 L633.05,93.30 L633.40,92.47 L633.83,91.64 L634.31,90.81 L634.82,89.98 L635.33,89.15 L635.83,88.31 L636.29,87.48 L636.73,86.65 L637.14,85.82 L637.53,84.99 L637.92,84.16 L638.32,83.33 L638.72,82.50 L639.15,81.67 L639.59,80.83 L640.04,80.00 L640.49,79.17 L640.94,78.34 L641.37,77.51 L641.76,76.68 L642.13,75.85 L645.27,75.85 L645.64,76.68 L646.03,77.51 L646.46,78.34 L646.91,79.17 L647.36,80.00 L647.81,80.83 L648.25,81.67 L648.68,82.50 L649.08,83.33 L649.48,84.16 L649.87,84.99 L650.26,85.82 L650.67,86.65 L651.11,87.48 L651.57,88.31 L652.07,89.15 L652.58,89.98 L653.09,90.81 L653.57,91.64 L654.00,92.47 L654.35,93.30 L654.59,94.13 L654.70,94.96 L654.66,95.79 L654.47,96.63 L654.13,97.46 L653.67,98.29 L653.10,99.12 L652.46,99.95 L651.80,100.78 L651.17,101.61 L650.58,102.44 L650.07,103.28 L649.66,104.11 L649.33,104.94 L649.09,105.77 L648.90,106.60 L648.76,107.43 L648.63,108.26 L648.49,109.09 L648.34,109.92 L648.15,110.76 L647.93,111.59 L647.69,112.42 L647.41,113.25 L647.12,114.08 L646.83,114.91 L646.55,115.74 L646.29,116.57 L646.05,117.41 L645.83,118.24 L645.64,119.07 L645.48,119.90 L645.32,120.73 L645.18,121.56 L645.04,122.39 L644.90,123.22 L644.76,124.05 L644.62,124.89 Z" fill="none" stroke="#e8a583" stroke-width="0.6" stroke-linejoin="round"/>
<line x1="643.70" y1="124.65" x2="643.70" y2="75.85" stroke="#fff" stroke-width="0.6"/>
<rect x="642.50" y="90.40" width="2.40" height="13.70" fill="#fff" opacity="0.95"/>
<path d="M671.3,87.1h0M668.6,90.1h0M674.4,89.5h0M667.8,96.7h0M667.1,88.9h0M669.6,83.2h0M666.5,106.7h0M669.7,98.5h0M662.3,80.8h0M663.0,94.7h0M668.5,94.9h0M669.7,99.0h0M666.4,94.4h0M675.9,84.7h0M669.7,92.5h0M672.5,87.0h0M668.6,95.9h0M671.9,98.1h0M673.1,86.1h0M667.2,89.4h0M660.3,92.2h0M669.1,83.4h0M674.5,94.6h0M670.7,100.8h0M662.2,89.2h0M675.2,97.7h0M666.3,90.5h0M675.8,99.7h0M672.6,79.0h0M675.5,85.0h0M677.3,85.5h0M670.9,87.6h0M676.4,90.6h0M673.4,97.5h0M660.7,86.8h0M676.5,83.7h0M663.8,76.3h0M661.8,93.8h0M664.7,73.8h0M672.5,101.4h0M670.7,98.2h0M671.9,81.3h0M662.2,93.2h0M678.0,87.3h0M664.4,96.8h0M677.7,91.5h0M669.5,88.6h0M672.2,90.1h0M672.1,98.9h0M662.1,84.2h0M665.5,92.5h0M671.1,93.4h0M672.3,86.9h0M673.5,90.3h0M671.1,98.8h0M678.5,93.3h0M668.9,95.7h0M658.9,93.3h0M675.9,89.6h0M678.4,87.2h0M663.5,86.0h0M669.6,87.6h0M676.5,87.0h0M669.6,96.8h0M663.1,84.1h0M675.4,96.5h0M661.0,84.3h0M671.4,89.7h0M671.5,102.3h0M665.7,81.0h0M673.5,91.0h0M670.1,99.6h0M661.8,91.5h0M667.6,98.6h0M665.6,77.6h0M664.4,85.2h0M670.1,88.8h0M671.1,93.8h0M669.9,86.9h0M663.4,85.6h0M660.6,93.4h0M669.1,98.1h0M676.9,89.2h0M665.6,104.4h0M673.3,101.7h0M678.3,92.9h0M663.6,88.0h0M673.2,77.7h0M665.4,108.7h0M674.5,96.2h0M673.0,101.4h0M661.9,84.0h0M677.3,95.3h0M672.9,89.5h0M674.7,86.4h0M672.2,97.7h0M664.1,81.7h0M667.0,77.2h0M675.6,90.9h0M664.8,82.4h0M665.6,82.2h0M671.7,84.4h0M664.9,91.6h0M674.2,84.8h0M672.9,86.7h0M662.6,94.3h0M672.9,80.4h0M672.3,93.2h0M668.2,72.3h0M671.7,89.3h0M667.7,106.7h0M674.2,95.4h0M676.2,85.8h0M668.3,83.8h0M670.3,80.0h0M671.7,90.0h0M659.6,92.7h0M675.0,92.0h0M668.7,91.4h0M672.9,75.4h0M665.1,77.0h0M667.8,90.6h0M676.1,82.4h0M678.0,91.6h0M663.2,87.7h0M669.6,76.4h0M671.5,75.8h0M668.3,93.9h0M662.5,94.2h0M676.5,88.0h0M668.4,87.3h0M678.2,86.7h0M668.3,99.0h0M664.7,96.7h0M669.8,92.8h0M664.4,99.0h0M661.5,82.2h0M665.7,104.4h0M661.9,88.2h0M667.3,99.8h0M665.9,92.5h0M667.9,89.9h0M661.1,97.6h0M665.0,95.8h0M674.1,76.2h0M662.2,89.7h0M661.9,87.4h0M670.3,82.3h0M672.3,93.6h0M668.9,85.6h0M664.1,103.9h0M666.0,107.5h0M673.0,107.8h0M670.1,102.7h0M670.7,101.5h0M668.6,110.1h0M667.0,104.1h0M673.4,103.7h0M670.8,117.5h0M671.4,109.8h0M664.1,108.2h0M663.3,106.0h0M672.1,118.6h0M667.5,71.9h0" stroke="#e2ce3b" stroke-width="1.3" stroke-linecap="square" fill="none" opacity="0.85"/>
<path d="M668.36,118.63 L668.33,117.84 L668.30,117.05 L668.27,116.26 L668.22,115.46 L668.16,114.67 L668.06,113.88 L667.94,113.09 L667.77,112.30 L667.58,111.51 L667.36,110.72 L667.12,109.92 L666.87,109.13 L666.61,108.34 L666.34,107.55 L666.06,106.76 L665.77,105.97 L665.47,105.17 L665.13,104.38 L664.76,103.59 L664.36,102.80 L663.91,102.01 L663.43,101.22 L662.92,100.42 L662.39,99.63 L661.85,98.84 L661.32,98.05 L660.79,97.26 L660.29,96.47 L659.82,95.67 L659.38,94.88 L658.98,94.09 L658.63,93.30 L658.34,92.51 L658.11,91.72 L657.96,90.93 L657.90,90.13 L657.94,89.34 L658.08,88.55 L658.32,87.76 L658.68,86.97 L659.14,86.18 L659.68,85.38 L660.29,84.59 L660.95,83.80 L661.63,83.01 L662.30,82.22 L662.95,81.43 L663.55,80.63 L664.10,79.84 L664.59,79.05 L665.03,78.26 L665.41,77.47 L665.76,76.68 L666.09,75.88 L666.39,75.09 L666.68,74.30 L666.96,73.51 L667.23,72.72 L667.48,71.93 L669.92,71.93 L670.17,72.72 L670.44,73.51 L670.72,74.30 L671.01,75.09 L671.31,75.88 L671.64,76.68 L671.99,77.47 L672.37,78.26 L672.81,79.05 L673.30,79.84 L673.85,80.63 L674.45,81.43 L675.10,82.22 L675.77,83.01 L676.45,83.80 L677.11,84.59 L677.72,85.38 L678.26,86.18 L678.72,86.97 L679.08,87.76 L679.32,88.55 L679.46,89.34 L679.50,90.13 L679.44,90.93 L679.29,91.72 L679.06,92.51 L678.77,93.30 L678.42,94.09 L678.02,94.88 L677.58,95.67 L677.11,96.47 L676.61,97.26 L676.08,98.05 L675.55,98.84 L675.01,99.63 L674.48,100.42 L673.97,101.22 L673.49,102.01 L673.04,102.80 L672.64,103.59 L672.27,104.38 L671.93,105.17 L671.63,105.97 L671.34,106.76 L671.06,107.55 L670.79,108.34 L670.53,109.13 L670.28,109.92 L670.04,110.72 L669.82,111.51 L669.63,112.30 L669.46,113.09 L669.34,113.88 L669.24,114.67 L669.18,115.46 L669.13,116.26 L669.10,117.05 L669.07,117.84 L669.04,118.63 Z" fill="none" stroke="#e2ce3b" stroke-width="0.6" stroke-linejoin="round"/>
<line x1="668.70" y1="113.16" x2="668.70" y2="71.93" stroke="#fff" stroke-width="0.6"/>
<rect x="667.50" y="85.95" width="2.40" height="10.88" fill="#fff" opacity="0.95"/>
<path d="M594.2,51.6 V49.5 H668.7 V51.6" fill="none" stroke="#333" stroke-width="0.5"/>
<text x="605.60" y="48.00" font-size="5.9" fill="#000">Wilcox p = 3.4e−52</text>
<path d="M594.2,58.9 V56.8 H643.7 V58.9" fill="none" stroke="#333" stroke-width="0.5"/>
<text x="595.00" y="55.40" font-size="5.9" fill="#000">Wilcox p = 2e−28</text>
<path d="M594.2,66.6 V64.5 H618.7 V66.6" fill="none" stroke="#333" stroke-width="0.5"/>
<text x="580.00" y="63.00" font-size="5.9" fill="#000">Wilcox p = 1.7e−89</text>
<line x1="594.20" y1="147.10" x2="594.20" y2="148.90" stroke="#000" stroke-width="0.6"/>
<text x="596.00" y="153.60" font-size="6.9" text-anchor="end" fill="#111" transform="rotate(-28 596.00 153.60)">GTEx:Colon</text>
<line x1="618.70" y1="147.10" x2="618.70" y2="148.90" stroke="#000" stroke-width="0.6"/>
<text x="620.50" y="153.60" font-size="6.9" text-anchor="end" fill="#111" transform="rotate(-28 620.50 153.60)">TCGA:COAD</text>
<line x1="643.70" y1="147.10" x2="643.70" y2="148.90" stroke="#000" stroke-width="0.6"/>
<text x="645.50" y="153.60" font-size="6.9" text-anchor="end" fill="#111" transform="rotate(-28 645.50 153.60)">CPTAC2:COAD</text>
<line x1="668.70" y1="147.10" x2="668.70" y2="148.90" stroke="#000" stroke-width="0.6"/>
<text x="670.50" y="153.60" font-size="6.9" text-anchor="end" fill="#111" transform="rotate(-28 670.50 153.60)">TCGA:READ</text>
</g>
<g id="panelD">
<text x="1.00" y="199.50" font-size="13.4" font-weight="bold" stroke="#000" stroke-width="0.22" fill="#000">D</text>
<text x="138.40" y="197.00" font-size="6.69" text-anchor="middle" fill="#111">TRIM31 and OS in TCGA−COAD</text>
<line x1="88.70" y1="209.20" x2="97.90" y2="209.20" stroke="#3f78c4" stroke-width="1.7"/>
<line x1="93.30" y1="206.50" x2="93.30" y2="211.90" stroke="#3f78c4" stroke-width="1.0"/>
<text x="101.40" y="211.20" font-size="5.51" fill="#111">TRIM31.expr=low</text>
<line x1="148.00" y1="209.20" x2="157.20" y2="209.20" stroke="#ee3b3b" stroke-width="1.7"/>
<line x1="152.60" y1="206.50" x2="152.60" y2="211.90" stroke="#ee3b3b" stroke-width="1.0"/>
<text x="161.30" y="211.20" font-size="5.54" fill="#111">TRIM31.expr=high</text>
<line x1="53.70" y1="300.20" x2="53.70" y2="224.20" stroke="#111" stroke-width="0.5"/>
<polyline points="52.26,226.30 53.70,223.90 55.14,226.30" fill="none" stroke="#000" stroke-width="0.5"/>
<line x1="53.70" y1="300.20" x2="222.40" y2="300.20" stroke="#111" stroke-width="0.5"/>
<polyline points="220.30,298.76 222.70,300.20 220.30,301.64" fill="none" stroke="#000" stroke-width="0.5"/>
<line x1="52.40" y1="297.10" x2="53.70" y2="297.10" stroke="#111" stroke-width="0.45"/>
<text x="51.30" y="299.00" font-size="5.5" text-anchor="end" fill="#222">0.00</text>
<line x1="52.40" y1="279.80" x2="53.70" y2="279.80" stroke="#111" stroke-width="0.45"/>
<text x="51.30" y="281.70" font-size="5.5" text-anchor="end" fill="#222">0.25</text>
<line x1="52.40" y1="262.50" x2="53.70" y2="262.50" stroke="#111" stroke-width="0.45"/>
<text x="51.30" y="264.40" font-size="5.5" text-anchor="end" fill="#222">0.50</text>
<line x1="52.40" y1="245.20" x2="53.70" y2="245.20" stroke="#111" stroke-width="0.45"/>
<text x="51.30" y="247.10" font-size="5.5" text-anchor="end" fill="#222">0.75</text>
<line x1="52.40" y1="227.90" x2="53.70" y2="227.90" stroke="#111" stroke-width="0.45"/>
<text x="51.30" y="229.80" font-size="5.5" text-anchor="end" fill="#222">1.00</text>
<text x="37.60" y="261.50" font-size="5.31" text-anchor="middle" fill="#111" transform="rotate(-90 37.60 261.50)">Overall survival probability</text>
<text x="64.50" y="278.00" font-size="5.3" fill="#000">Log−rank</text>
<text x="64.50" y="284.80" font-size="5.5" fill="#000">p = 0.052</text>
<path d="M61.10,227.90H62.64V228.77H64.18V229.63H65.72V230.50H67.26V231.36H68.80V232.05H70.34V232.74H71.88V233.44H73.42V234.13H74.96V234.56H76.50V234.99H78.04V235.43H79.58V235.86H81.11V236.29H82.65V236.72H84.19V237.16H85.73V237.59H87.27V238.02H88.81V238.45H90.35V238.89H91.89V239.32H93.43V239.75H94.97V240.18H96.51V240.62H98.05V241.05H99.59V241.31H101.13V241.57H102.67V241.83H104.21V242.09H105.75V242.35H107.29V242.69H108.83V243.08H110.37V243.47H111.91V244.44H113.45V245.42H114.99V246.39H116.53V247.36H118.07V248.34H119.60V249.35H121.14V250.39H122.68V251.43H124.22V252.47H125.76V253.73H127.30V255.12H128.84V255.79H130.38V256.10H131.92V256.41H133.46V256.66H135.00V256.78H136.54V256.90H138.08V257.02H139.62V257.14H141.16V257.26H142.70V257.38H144.24V257.50H145.78V257.62H147.32V258.35H148.86V259.39H150.40V260.42H151.94V261.29H153.48V261.81H155.02V262.33H156.56V262.99H158.09V263.74H159.63V264.48H161.17V265.22H162.71V265.96H164.25V266.31H165.79V266.65H167.33V266.65H168.87V266.65H170.41V266.65H171.95V266.65H173.49V266.65H175.03V266.65H176.57V266.65H178.11V266.65H179.65V266.65H181.19V266.65H182.73V266.65H184.27V266.65H185.81V266.65H187.35V266.65H188.89V266.65H190.43V266.65H191.97V266.65H193.51V266.65H195.05V266.65H196.58V266.65H198.12V266.65H199.66V266.65H201.20V266.65H202.74V266.65H204.28V266.65H205.82V266.65H207.36V266.65H208.90V266.65H210.44V266.65H211.98V266.65H213.52V266.65H215.06V266.65H216.60V266.65H217.11" fill="none" stroke="#3f78c4" stroke-width="1.7" stroke-linejoin="miter"/>
<path d="M62.00,225.55v4.7M63.17,226.42v4.7M63.99,226.42v4.7M64.94,227.28v4.7M66.41,228.15v4.7M67.35,229.01v4.7M68.37,229.01v4.7M69.36,229.70v4.7M70.05,229.70v4.7M71.28,230.39v4.7M72.66,231.09v4.7M73.15,231.09v4.7M74.67,231.78v4.7M75.70,232.21v4.7M76.22,232.21v4.7M77.62,232.64v4.7M78.58,233.08v4.7M79.64,233.51v4.7M80.59,233.51v4.7M81.49,233.94v4.7M82.53,233.94v4.7M83.72,234.37v4.7M84.64,234.81v4.7M85.91,235.24v4.7M86.71,235.24v4.7M87.57,235.67v4.7M88.60,235.67v4.7M89.57,236.10v4.7M91.00,236.54v4.7M91.76,236.54v4.7M92.73,236.97v4.7M94.15,237.40v4.7M95.01,237.83v4.7M95.74,237.83v4.7M97.05,238.27v4.7M97.84,238.27v4.7M99.19,238.70v4.7M99.87,238.96v4.7M101.10,238.96v4.7M102.39,239.22v4.7M103.37,239.48v4.7M103.94,239.48v4.7M105.52,239.74v4.7M106.36,240.00v4.7M107.42,240.34v4.7M108.46,240.34v4.7M109.58,240.73v4.7M110.14,240.73v4.7M111.56,241.12v4.7M112.63,242.09v4.7M113.65,243.07v4.7M114.18,243.07v4.7M115.43,244.04v4.7M116.49,244.04v4.7M117.56,245.01v4.7M118.57,245.99v4.7M119.38,245.99v4.7M120.93,247.00v4.7M121.39,248.04v4.7M122.73,249.08v4.7M123.76,249.08v4.7M125.02,250.12v4.7M125.58,250.12v4.7M126.53,251.38v4.7M128.05,252.77v4.7M128.54,252.77v4.7M130.05,253.44v4.7M131.06,253.75v4.7M132.15,254.06v4.7M133.20,254.06v4.7M133.84,254.31v4.7M134.84,254.31v4.7M135.91,254.43v4.7M137.19,254.55v4.7M137.82,254.55v4.7M141.16,254.91v4.7M145.26,255.15v4.7M147.32,256.00v4.7M149.37,257.04v4.7M153.48,259.46v4.7M157.58,260.64v4.7M167.85,264.30v4.7M169.90,264.30v4.7M176.06,264.30v4.7M178.11,264.30v4.7M182.22,264.30v4.7M186.32,264.30v4.7M190.43,264.30v4.7M192.48,264.30v4.7M196.58,264.30v4.7M200.69,264.30v4.7M202.74,264.30v4.7M204.80,264.30v4.7M210.95,264.30v4.7M216.80,264.30v4.7" fill="none" stroke="#3f78c4" stroke-width="0.95"/>
<path d="M61.10,228.59H62.64V229.63H64.18V230.67H65.72V231.71H67.26V232.74H68.80V233.96H70.34V235.17H71.88V236.38H73.42V237.59H74.96V238.63H76.50V239.66H78.04V240.70H79.58V241.74H81.11V242.09H82.65V242.43H84.19V242.78H85.73V243.12H87.27V243.38H88.81V243.64H90.35V243.90H91.89V244.16H93.43V244.42H94.97V245.55H96.51V247.10H98.05V248.66H99.59V250.74H101.13V252.81H102.67V254.29H104.21V254.59H105.75V254.89H107.29V255.18H108.83V255.48H110.37V261.12H111.91V261.12H113.45V261.12H114.99V261.12H116.53V261.12H118.07V261.12H119.60V261.12H121.14V261.12H122.68V261.12H124.22V261.12H125.76V261.12H127.30V261.12H128.84V261.12H130.38V261.12H131.92V261.12H133.46V261.12H135.00V261.12H136.54V261.12H138.08V261.12H139.62V261.12H141.16V261.12H142.70V261.12H144.24V261.12H145.78V261.12H147.32V261.12H148.86V261.12H150.40V261.12H151.94V261.12H153.48V261.12H155.02V261.12H156.56V261.12H158.09V261.12H159.63V261.12H161.17V261.12H162.71V261.12H164.25V261.12H165.79V261.12H167.33V261.12H168.87V261.12H170.41V261.12H171.95V261.12H173.49V261.12H175.03V261.12H176.57V261.12H178.11V261.12H179.65V261.12H181.19V261.12H182.73V261.12H184.27V261.12H185.81V261.12H187.35V261.12H188.89V261.12H190.43V261.12H191.97V261.12H193.51V261.12H195.05V261.12H196.58V261.12H198.12V261.12H199.66V261.12H201.20V261.12H201.72" fill="none" stroke="#ee3b3b" stroke-width="1.7" stroke-linejoin="miter"/>
<path d="M62.23,226.24v4.7M63.48,227.28v4.7M64.50,228.32v4.7M65.69,228.32v4.7M66.55,229.36v4.7M67.60,230.39v4.7M68.74,230.39v4.7M70.17,231.61v4.7M70.89,232.82v4.7M72.26,234.03v4.7M73.41,234.03v4.7M74.63,235.24v4.7M75.43,236.28v4.7M76.85,237.31v4.7M78.22,238.35v4.7M79.07,238.35v4.7M80.23,239.39v4.7M81.62,239.74v4.7M82.65,239.74v4.7M83.58,240.08v4.7M84.45,240.43v4.7M86.06,240.77v4.7M87.10,240.77v4.7M88.24,241.03v4.7M89.42,241.29v4.7M90.50,241.55v4.7M91.43,241.55v4.7M92.62,241.81v4.7M93.95,242.07v4.7M95.09,243.20v4.7M95.88,243.20v4.7M96.89,244.75v4.7M98.27,246.31v4.7M99.35,246.31v4.7M100.76,248.39v4.7M101.64,250.46v4.7M102.77,251.94v4.7M103.82,251.94v4.7M105.20,252.24v4.7M106.43,252.54v4.7M107.06,252.54v4.7M108.52,252.83v4.7M114.47,258.77v4.7M116.53,258.77v4.7M125.25,258.77v4.7M127.30,258.77v4.7M128.84,258.77v4.7M152.04,258.77v4.7M154.50,258.77v4.7M197.10,258.77v4.7M201.41,258.77v4.7" fill="none" stroke="#ee3b3b" stroke-width="0.95"/>
<line x1="53.70" y1="325.30" x2="53.70" y2="306.80" stroke="#111" stroke-width="0.5"/>
<polyline points="52.38,308.70 53.70,306.50 55.02,308.70" fill="none" stroke="#000" stroke-width="0.5"/>
<line x1="53.70" y1="325.30" x2="222.40" y2="325.30" stroke="#111" stroke-width="0.5"/>
<polyline points="220.50,323.98 222.70,325.30 220.50,326.62" fill="none" stroke="#000" stroke-width="0.5"/>
<line x1="52.40" y1="312.20" x2="53.70" y2="312.20" stroke="#111" stroke-width="0.45"/>
<line x1="52.40" y1="320.30" x2="53.70" y2="320.30" stroke="#111" stroke-width="0.45"/>
<text x="61.10" y="314.10" font-size="5.4" text-anchor="middle" fill="#111">353</text>
<text x="61.10" y="322.20" font-size="5.4" text-anchor="middle" fill="#111">102</text>
<text x="73.42" y="314.10" font-size="5.4" text-anchor="middle" fill="#111">276</text>
<text x="73.42" y="322.20" font-size="5.4" text-anchor="middle" fill="#111">78</text>
<text x="85.73" y="314.10" font-size="5.4" text-anchor="middle" fill="#111">173</text>
<text x="85.73" y="322.20" font-size="5.4" text-anchor="middle" fill="#111">41</text>
<text x="98.05" y="314.10" font-size="5.4" text-anchor="middle" fill="#111">100</text>
<text x="98.05" y="322.20" font-size="5.4" text-anchor="middle" fill="#111">18</text>
<text x="110.37" y="314.10" font-size="5.4" text-anchor="middle" fill="#111">57</text>
<text x="110.37" y="322.20" font-size="5.4" text-anchor="middle" fill="#111">7</text>
<text x="122.68" y="314.10" font-size="5.4" text-anchor="middle" fill="#111">40</text>
<text x="122.68" y="322.20" font-size="5.4" text-anchor="middle" fill="#111">5</text>
<text x="135.00" y="314.10" font-size="5.4" text-anchor="middle" fill="#111">28</text>
<text x="135.00" y="322.20" font-size="5.4" text-anchor="middle" fill="#111">3</text>
<text x="147.32" y="314.10" font-size="5.4" text-anchor="middle" fill="#111">21</text>
<text x="147.32" y="322.20" font-size="5.4" text-anchor="middle" fill="#111">3</text>
<text x="159.63" y="314.10" font-size="5.4" text-anchor="middle" fill="#111">14</text>
<text x="159.63" y="322.20" font-size="5.4" text-anchor="middle" fill="#111">2</text>
<text x="171.95" y="314.10" font-size="5.4" text-anchor="middle" fill="#111">11</text>
<text x="171.95" y="322.20" font-size="5.4" text-anchor="middle" fill="#111">2</text>
<text x="184.27" y="314.10" font-size="5.4" text-anchor="middle" fill="#111">8</text>
<text x="184.27" y="322.20" font-size="5.4" text-anchor="middle" fill="#111">2</text>
<text x="196.58" y="314.10" font-size="5.4" text-anchor="middle" fill="#111">5</text>
<text x="196.58" y="322.20" font-size="5.4" text-anchor="middle" fill="#111">2</text>
<text x="208.90" y="314.10" font-size="5.4" text-anchor="middle" fill="#111">1</text>
<text x="208.90" y="322.20" font-size="5.4" text-anchor="middle" fill="#111">0</text>
<line x1="61.10" y1="325.30" x2="61.10" y2="326.60" stroke="#111" stroke-width="0.45"/>
<text x="61.10" y="331.70" font-size="5.6" text-anchor="middle" fill="#111">0</text>
<line x1="73.42" y1="325.30" x2="73.42" y2="326.60" stroke="#111" stroke-width="0.45"/>
<text x="73.42" y="331.70" font-size="5.6" text-anchor="middle" fill="#111">12</text>
<line x1="85.73" y1="325.30" x2="85.73" y2="326.60" stroke="#111" stroke-width="0.45"/>
<text x="85.73" y="331.70" font-size="5.6" text-anchor="middle" fill="#111">24</text>
<line x1="98.05" y1="325.30" x2="98.05" y2="326.60" stroke="#111" stroke-width="0.45"/>
<text x="98.05" y="331.70" font-size="5.6" text-anchor="middle" fill="#111">36</text>
<line x1="110.37" y1="325.30" x2="110.37" y2="326.60" stroke="#111" stroke-width="0.45"/>
<text x="110.37" y="331.70" font-size="5.6" text-anchor="middle" fill="#111">48</text>
<line x1="122.68" y1="325.30" x2="122.68" y2="326.60" stroke="#111" stroke-width="0.45"/>
<text x="122.68" y="331.70" font-size="5.6" text-anchor="middle" fill="#111">60</text>
<line x1="135.00" y1="325.30" x2="135.00" y2="326.60" stroke="#111" stroke-width="0.45"/>
<text x="135.00" y="331.70" font-size="5.6" text-anchor="middle" fill="#111">72</text>
<line x1="147.32" y1="325.30" x2="147.32" y2="326.60" stroke="#111" stroke-width="0.45"/>
<text x="147.32" y="331.70" font-size="5.6" text-anchor="middle" fill="#111">84</text>
<line x1="159.63" y1="325.30" x2="159.63" y2="326.60" stroke="#111" stroke-width="0.45"/>
<text x="159.63" y="331.70" font-size="5.6" text-anchor="middle" fill="#111">96</text>
<line x1="171.95" y1="325.30" x2="171.95" y2="326.60" stroke="#111" stroke-width="0.45"/>
<text x="171.95" y="331.70" font-size="5.6" text-anchor="middle" fill="#111">108</text>
<line x1="184.27" y1="325.30" x2="184.27" y2="326.60" stroke="#111" stroke-width="0.45"/>
<text x="184.27" y="331.70" font-size="5.6" text-anchor="middle" fill="#111">120</text>
<line x1="196.58" y1="325.30" x2="196.58" y2="326.60" stroke="#111" stroke-width="0.45"/>
<text x="196.58" y="331.70" font-size="5.6" text-anchor="middle" fill="#111">132</text>
<line x1="208.90" y1="325.30" x2="208.90" y2="326.60" stroke="#111" stroke-width="0.45"/>
<text x="208.90" y="331.70" font-size="5.6" text-anchor="middle" fill="#111">144</text>
<text x="50.90" y="313.80" font-size="5.52" text-anchor="end" fill="#3f78c4">TRIM31.expr=low</text>
<text x="50.90" y="321.90" font-size="5.55" text-anchor="end" fill="#ee3b3b">TRIM31.expr=high</text>
<text x="129.00" y="339.60" font-size="6.69" text-anchor="middle" fill="#111">Survival time (months)</text>
<text x="360.40" y="196.20" font-size="6.68" text-anchor="middle" fill="#111">TRIM31 and OS in Rectal_MSK2022</text>
<line x1="311.70" y1="204.30" x2="320.90" y2="204.30" stroke="#3f78c4" stroke-width="1.7"/>
<line x1="316.30" y1="201.60" x2="316.30" y2="207.00" stroke="#3f78c4" stroke-width="1.0"/>
<text x="325.40" y="206.30" font-size="5.51" fill="#111">TRIM31.expr=low</text>
<line x1="372.20" y1="204.30" x2="381.40" y2="204.30" stroke="#ee3b3b" stroke-width="1.7"/>
<line x1="376.80" y1="201.60" x2="376.80" y2="207.00" stroke="#ee3b3b" stroke-width="1.0"/>
<text x="385.80" y="206.30" font-size="5.54" fill="#111">TRIM31.expr=high</text>
<line x1="277.70" y1="297.50" x2="277.70" y2="218.60" stroke="#111" stroke-width="0.5"/>
<polyline points="276.26,220.70 277.70,218.30 279.14,220.70" fill="none" stroke="#000" stroke-width="0.5"/>
<line x1="277.70" y1="297.50" x2="447.80" y2="297.50" stroke="#111" stroke-width="0.5"/>
<polyline points="445.70,296.06 448.10,297.50 445.70,298.94" fill="none" stroke="#000" stroke-width="0.5"/>
<line x1="276.40" y1="294.20" x2="277.70" y2="294.20" stroke="#111" stroke-width="0.45"/>
<text x="275.30" y="296.10" font-size="5.5" text-anchor="end" fill="#222">0.00</text>
<line x1="276.40" y1="276.23" x2="277.70" y2="276.23" stroke="#111" stroke-width="0.45"/>
<text x="275.30" y="278.12" font-size="5.5" text-anchor="end" fill="#222">0.25</text>
<line x1="276.40" y1="258.25" x2="277.70" y2="258.25" stroke="#111" stroke-width="0.45"/>
<text x="275.30" y="260.15" font-size="5.5" text-anchor="end" fill="#222">0.50</text>
<line x1="276.40" y1="240.28" x2="277.70" y2="240.28" stroke="#111" stroke-width="0.45"/>
<text x="275.30" y="242.18" font-size="5.5" text-anchor="end" fill="#222">0.75</text>
<line x1="276.40" y1="222.30" x2="277.70" y2="222.30" stroke="#111" stroke-width="0.45"/>
<text x="275.30" y="224.20" font-size="5.5" text-anchor="end" fill="#222">1.00</text>
<text x="260.20" y="258.00" font-size="5.48" text-anchor="middle" fill="#111" transform="rotate(-90 260.20 258.00)">Overall survival probability</text>
<text x="288.40" y="274.00" font-size="5.3" fill="#000">Log−rank</text>
<text x="288.40" y="280.80" font-size="5.5" fill="#000">p = 0.023</text>
<path d="M285.10,222.30H287.04V222.30H288.97V222.30H290.91V222.30H292.85V222.30H294.79V222.30H296.72V222.30H298.66V222.30H300.60V222.30H302.53V222.30H304.47V222.30H306.41V222.30H308.34V224.10H310.28V224.46H312.22V224.82H314.16V225.18H316.09V225.25H318.03V225.32H319.97V225.39H321.90V225.46H323.84V225.54H325.78V225.61H327.71V225.68H329.65V225.75H331.59V225.82H333.53V225.90H335.46V226.33H337.40V226.76H339.34V227.19H341.27V227.62H343.21V228.05H345.15V228.09H347.08V228.13H349.02V228.17H350.96V228.21H352.90V228.25H354.83V228.29H356.77V228.33H358.71V228.37H360.64V228.41H362.58V231.29H364.52V231.29H366.45V231.29H368.39V231.29H370.33V231.29H372.27V231.29H374.20V231.29H376.14V231.29H378.08V231.29H380.01V231.29H381.95V231.29H383.89V231.29H385.82V231.29H387.76V231.29H389.70V231.29H391.63V231.29H393.57V231.29H395.51V231.29H397.45V231.29H399.38V231.29H401.32V231.29H402.29" fill="none" stroke="#3f78c4" stroke-width="1.45" stroke-linejoin="miter"/>
<path d="M290.91,219.95v4.7M294.79,219.95v4.7M298.66,219.95v4.7M304.47,219.95v4.7M310.09,221.75v4.7M312.30,222.47v4.7M314.81,222.83v4.7M316.66,222.90v4.7M318.83,222.97v4.7M321.06,223.04v4.7M323.17,223.11v4.7M324.93,223.19v4.7M327.55,223.26v4.7M329.28,223.33v4.7M331.75,223.47v4.7M333.80,223.55v4.7M335.84,223.98v4.7M338.23,224.41v4.7M339.98,224.84v4.7M342.42,225.27v4.7M344.49,225.70v4.7M346.35,225.74v4.7M348.90,225.78v4.7M350.81,225.82v4.7M352.94,225.90v4.7M354.83,225.90v4.7M357.11,225.98v4.7M359.13,226.02v4.7M361.48,226.06v4.7M363.47,228.94v4.7M365.49,228.94v4.7M367.72,228.94v4.7M369.77,228.94v4.7M372.24,228.94v4.7M374.37,228.94v4.7M376.14,228.94v4.7M378.61,228.94v4.7M380.34,228.94v4.7M385.82,228.94v4.7M389.70,228.94v4.7M393.57,228.94v4.7M397.45,228.94v4.7M402.00,228.94v4.7" fill="none" stroke="#3f78c4" stroke-width="0.95"/>
<path d="M285.10,222.30H287.04V222.30H288.97V222.30H290.91V222.30H292.85V222.30H294.79V222.30H296.72V222.30H298.66V225.54H300.60V225.54H302.53V225.54H304.47V225.54H306.41V225.54H308.34V225.54H310.28V225.54H312.22V225.54H314.16V225.54H316.09V229.49H318.03V232.37H319.97V235.24H321.90V235.42H323.84V235.60H325.78V235.78H327.71V235.96H329.65V238.12H331.59V240.28H333.53V240.33H335.46V240.38H337.40V240.43H339.34V240.48H341.27V240.53H343.21V240.58H345.15V240.63H347.08V241.89H349.02V243.15H350.96V243.16H352.90V243.17H354.83V243.17H356.77V243.18H358.71V243.19H360.64V243.19H362.58V243.20H364.52V243.21H366.45V243.22H368.39V243.22H370.33V243.23H372.27V243.24H374.20V243.24H376.14V243.25H378.08V243.26H380.01V243.27H381.95V243.27H383.89V243.28H385.82V243.29H387.76V243.29H389.70V243.30H391.63V243.31H393.57V243.32H395.51V243.32H397.45V243.33H399.38V243.34H401.32V243.35H403.26V243.35H405.19V243.36H407.13V243.37H409.07V243.37H411.00V243.38H412.94V243.39H414.88V243.40H416.82V243.40H418.75V243.41H420.69V243.42H422.63V243.42H424.56V243.43H426.50V243.44H428.44V243.45H430.38V243.45H432.31V243.46H434.25V243.47H436.19V243.47H438.12V243.48H440.06V243.49H442.00V243.50H443.93V243.50H445.87V243.51H445.87" fill="none" stroke="#ee3b3b" stroke-width="1.45" stroke-linejoin="miter"/>
<path d="M290.91,219.95v4.7M298.66,223.19v4.7M300.60,223.19v4.7M314.16,223.19v4.7M316.09,227.14v4.7M318.03,230.02v4.7M325.78,233.43v4.7M333.53,237.98v4.7M335.46,238.03v4.7M341.27,238.18v4.7M343.21,238.23v4.7M345.15,238.28v4.7M352.90,240.82v4.7M354.83,240.82v4.7M358.71,240.84v4.7M360.64,240.84v4.7M364.52,240.86v4.7M366.45,240.87v4.7M370.33,240.88v4.7M372.27,240.89v4.7M383.89,240.93v4.7M391.63,240.96v4.7M393.57,240.97v4.7M412.94,241.04v4.7M445.58,241.15v4.7" fill="none" stroke="#ee3b3b" stroke-width="0.95"/>
<line x1="277.70" y1="323.50" x2="277.70" y2="304.90" stroke="#111" stroke-width="0.5"/>
<polyline points="276.38,306.80 277.70,304.60 279.02,306.80" fill="none" stroke="#000" stroke-width="0.5"/>
<line x1="277.70" y1="323.50" x2="447.80" y2="323.50" stroke="#111" stroke-width="0.5"/>
<polyline points="445.90,322.18 448.10,323.50 445.90,324.82" fill="none" stroke="#000" stroke-width="0.5"/>
<line x1="276.40" y1="309.60" x2="277.70" y2="309.60" stroke="#111" stroke-width="0.45"/>
<line x1="276.40" y1="317.70" x2="277.70" y2="317.70" stroke="#111" stroke-width="0.45"/>
<text x="285.10" y="311.50" font-size="5.4" text-anchor="middle" fill="#111">74</text>
<text x="285.10" y="319.60" font-size="5.4" text-anchor="middle" fill="#111">36</text>
<text x="296.72" y="311.50" font-size="5.4" text-anchor="middle" fill="#111">74</text>
<text x="296.72" y="319.60" font-size="5.4" text-anchor="middle" fill="#111">35</text>
<text x="308.34" y="311.50" font-size="5.4" text-anchor="middle" fill="#111">69</text>
<text x="308.34" y="319.60" font-size="5.4" text-anchor="middle" fill="#111">32</text>
<text x="319.97" y="311.50" font-size="5.4" text-anchor="middle" fill="#111">63</text>
<text x="319.97" y="319.60" font-size="5.4" text-anchor="middle" fill="#111">24</text>
<text x="331.59" y="311.50" font-size="5.4" text-anchor="middle" fill="#111">53</text>
<text x="331.59" y="319.60" font-size="5.4" text-anchor="middle" fill="#111">21</text>
<text x="343.21" y="311.50" font-size="5.4" text-anchor="middle" fill="#111">44</text>
<text x="343.21" y="319.60" font-size="5.4" text-anchor="middle" fill="#111">18</text>
<text x="354.83" y="311.50" font-size="5.4" text-anchor="middle" fill="#111">24</text>
<text x="354.83" y="319.60" font-size="5.4" text-anchor="middle" fill="#111">13</text>
<text x="366.45" y="311.50" font-size="5.4" text-anchor="middle" fill="#111">16</text>
<text x="366.45" y="319.60" font-size="5.4" text-anchor="middle" fill="#111">7</text>
<text x="378.08" y="311.50" font-size="5.4" text-anchor="middle" fill="#111">7</text>
<text x="378.08" y="319.60" font-size="5.4" text-anchor="middle" fill="#111">4</text>
<text x="389.70" y="311.50" font-size="5.4" text-anchor="middle" fill="#111">3</text>
<text x="389.70" y="319.60" font-size="5.4" text-anchor="middle" fill="#111">3</text>
<text x="401.32" y="311.50" font-size="5.4" text-anchor="middle" fill="#111">0</text>
<text x="401.32" y="319.60" font-size="5.4" text-anchor="middle" fill="#111">2</text>
<text x="412.94" y="311.50" font-size="5.4" text-anchor="middle" fill="#111">0</text>
<text x="412.94" y="319.60" font-size="5.4" text-anchor="middle" fill="#111">1</text>
<text x="424.56" y="311.50" font-size="5.4" text-anchor="middle" fill="#111">0</text>
<text x="424.56" y="319.60" font-size="5.4" text-anchor="middle" fill="#111">1</text>
<text x="436.19" y="311.50" font-size="5.4" text-anchor="middle" fill="#111">0</text>
<text x="436.19" y="319.60" font-size="5.4" text-anchor="middle" fill="#111">1</text>
<line x1="285.10" y1="323.50" x2="285.10" y2="324.80" stroke="#111" stroke-width="0.45"/>
<text x="285.10" y="329.90" font-size="5.6" text-anchor="middle" fill="#111">0</text>
<line x1="296.72" y1="323.50" x2="296.72" y2="324.80" stroke="#111" stroke-width="0.45"/>
<text x="296.72" y="329.90" font-size="5.6" text-anchor="middle" fill="#111">12</text>
<line x1="308.34" y1="323.50" x2="308.34" y2="324.80" stroke="#111" stroke-width="0.45"/>
<text x="308.34" y="329.90" font-size="5.6" text-anchor="middle" fill="#111">24</text>
<line x1="319.97" y1="323.50" x2="319.97" y2="324.80" stroke="#111" stroke-width="0.45"/>
<text x="319.97" y="329.90" font-size="5.6" text-anchor="middle" fill="#111">36</text>
<line x1="331.59" y1="323.50" x2="331.59" y2="324.80" stroke="#111" stroke-width="0.45"/>
<text x="331.59" y="329.90" font-size="5.6" text-anchor="middle" fill="#111">48</text>
<line x1="343.21" y1="323.50" x2="343.21" y2="324.80" stroke="#111" stroke-width="0.45"/>
<text x="343.21" y="329.90" font-size="5.6" text-anchor="middle" fill="#111">60</text>
<line x1="354.83" y1="323.50" x2="354.83" y2="324.80" stroke="#111" stroke-width="0.45"/>
<text x="354.83" y="329.90" font-size="5.6" text-anchor="middle" fill="#111">72</text>
<line x1="366.45" y1="323.50" x2="366.45" y2="324.80" stroke="#111" stroke-width="0.45"/>
<text x="366.45" y="329.90" font-size="5.6" text-anchor="middle" fill="#111">84</text>
<line x1="378.08" y1="323.50" x2="378.08" y2="324.80" stroke="#111" stroke-width="0.45"/>
<text x="378.08" y="329.90" font-size="5.6" text-anchor="middle" fill="#111">96</text>
<line x1="389.70" y1="323.50" x2="389.70" y2="324.80" stroke="#111" stroke-width="0.45"/>
<text x="389.70" y="329.90" font-size="5.6" text-anchor="middle" fill="#111">108</text>
<line x1="401.32" y1="323.50" x2="401.32" y2="324.80" stroke="#111" stroke-width="0.45"/>
<text x="401.32" y="329.90" font-size="5.6" text-anchor="middle" fill="#111">120</text>
<line x1="412.94" y1="323.50" x2="412.94" y2="324.80" stroke="#111" stroke-width="0.45"/>
<text x="412.94" y="329.90" font-size="5.6" text-anchor="middle" fill="#111">132</text>
<line x1="424.56" y1="323.50" x2="424.56" y2="324.80" stroke="#111" stroke-width="0.45"/>
<text x="424.56" y="329.90" font-size="5.6" text-anchor="middle" fill="#111">144</text>
<line x1="436.19" y1="323.50" x2="436.19" y2="324.80" stroke="#111" stroke-width="0.45"/>
<text x="436.19" y="329.90" font-size="5.6" text-anchor="middle" fill="#111">156</text>
<text x="274.90" y="311.20" font-size="5.52" text-anchor="end" fill="#3f78c4">TRIM31.expr=low</text>
<text x="274.90" y="319.30" font-size="5.55" text-anchor="end" fill="#ee3b3b">expr=high</text>
<text x="367.40" y="339.60" font-size="6.69" text-anchor="middle" fill="#111">Survival time (months)</text>
<text x="601.10" y="193.00" font-size="6.76" text-anchor="middle" fill="#111">TRIM31 and DFS in Rectal_MSK2022</text>
<line x1="541.70" y1="204.30" x2="550.90" y2="204.30" stroke="#3f78c4" stroke-width="1.7"/>
<line x1="546.30" y1="201.60" x2="546.30" y2="207.00" stroke="#3f78c4" stroke-width="1.0"/>
<text x="555.00" y="206.30" font-size="5.51" fill="#111">TRIM31.expr=low</text>
<line x1="603.20" y1="204.30" x2="612.40" y2="204.30" stroke="#ee3b3b" stroke-width="1.7"/>
<line x1="607.80" y1="201.60" x2="607.80" y2="207.00" stroke="#ee3b3b" stroke-width="1.0"/>
<text x="615.50" y="206.30" font-size="5.54" fill="#111">TRIM31.expr=high</text>
<line x1="507.40" y1="297.90" x2="507.40" y2="218.60" stroke="#111" stroke-width="0.5"/>
<polyline points="505.96,220.70 507.40,218.30 508.84,220.70" fill="none" stroke="#000" stroke-width="0.5"/>
<line x1="507.40" y1="297.90" x2="677.00" y2="297.90" stroke="#111" stroke-width="0.5"/>
<polyline points="674.90,296.46 677.30,297.90 674.90,299.34" fill="none" stroke="#000" stroke-width="0.5"/>
<line x1="506.10" y1="294.50" x2="507.40" y2="294.50" stroke="#111" stroke-width="0.45"/>
<text x="505.00" y="296.40" font-size="5.5" text-anchor="end" fill="#222">0.00</text>
<line x1="506.10" y1="276.52" x2="507.40" y2="276.52" stroke="#111" stroke-width="0.45"/>
<text x="505.00" y="278.42" font-size="5.5" text-anchor="end" fill="#222">0.25</text>
<line x1="506.10" y1="258.55" x2="507.40" y2="258.55" stroke="#111" stroke-width="0.45"/>
<text x="505.00" y="260.45" font-size="5.5" text-anchor="end" fill="#222">0.50</text>
<line x1="506.10" y1="240.57" x2="507.40" y2="240.57" stroke="#111" stroke-width="0.45"/>
<text x="505.00" y="242.47" font-size="5.5" text-anchor="end" fill="#222">0.75</text>
<line x1="506.10" y1="222.60" x2="507.40" y2="222.60" stroke="#111" stroke-width="0.45"/>
<text x="505.00" y="224.50" font-size="5.5" text-anchor="end" fill="#222">1.00</text>
<text x="491.20" y="257.60" font-size="5.51" text-anchor="middle" fill="#111" transform="rotate(-90 491.20 257.60)">Disease−free survival probability</text>
<text x="518.10" y="274.00" font-size="5.3" fill="#000">Log−rank</text>
<text x="518.10" y="280.80" font-size="5.5" fill="#000">p = 0.043</text>
<path d="M514.80,222.60H516.73V222.60H518.66V222.60H520.60V222.60H522.53V222.60H524.46V223.68H526.39V224.76H528.32V225.03H530.26V225.30H532.19V225.57H534.12V225.84H536.05V225.93H537.98V226.02H539.92V226.11H541.85V226.19H543.78V227.63H545.71V229.07H547.64V229.07H549.58V229.07H551.51V229.07H553.44V229.07H555.37V229.07H557.30V229.07H559.24V229.07H561.17V229.07H563.10V229.07H565.03V229.07H566.96V229.07H568.90V229.07H570.83V229.07H572.76V229.07H574.69V229.07H576.62V229.07H578.56V229.07H580.49V229.07H582.42V229.07H584.35V229.07H586.28V229.07H588.22V229.07H590.15V229.07H592.08V229.07H594.01V229.07H595.94V229.07H597.88V229.07H599.81V229.07H601.74V229.07H603.67V229.07H605.60V229.07H607.54V229.07H609.47V229.07H611.40V229.07H613.33V229.07H615.26V229.07H617.20V229.07H619.13V229.07H621.06V229.07H622.99V229.07H623.96" fill="none" stroke="#3f78c4" stroke-width="1.45" stroke-linejoin="miter"/>
<path d="M524.46,221.33v4.7M528.32,222.68v4.7M530.26,222.95v4.7M537.98,223.67v4.7M539.92,223.76v4.7M541.85,223.84v4.7M549.58,226.72v4.7M553.44,226.72v4.7M559.24,226.72v4.7M561.17,226.72v4.7M563.10,226.72v4.7M570.83,226.72v4.7M574.69,226.72v4.7M580.49,226.72v4.7M584.35,226.72v4.7M590.15,226.72v4.7M595.94,226.72v4.7M601.74,226.72v4.7M605.60,226.72v4.7M609.47,226.72v4.7M623.67,226.72v4.7" fill="none" stroke="#3f78c4" stroke-width="0.95"/>
<path d="M514.80,222.60H516.73V222.60H518.66V222.60H520.60V222.60H522.53V222.60H524.46V224.76H526.39V226.91H528.32V229.07H530.26V230.51H532.19V231.95H534.12V233.38H536.05V235.18H537.98V236.98H539.92V238.42H541.85V239.86H543.78V239.90H545.71V239.95H547.64V239.99H549.58V240.04H551.51V240.08H553.44V240.13H555.37V240.17H557.30V240.22H559.24V241.10H561.17V241.99H563.10V242.88H565.03V242.88H566.96V242.89H568.90V242.90H570.83V242.91H572.76V242.91H574.69V242.92H576.62V242.93H578.56V242.94H580.49V242.94H582.42V242.95H584.35V242.96H586.28V242.97H588.22V242.97H590.15V242.98H592.08V242.99H594.01V242.99H595.94V243.00H597.88V243.01H599.81V243.02H601.74V243.02H603.67V243.03H605.60V243.04H607.54V243.05H609.47V243.05H611.40V243.06H613.33V243.07H615.26V243.08H617.20V243.08H619.13V243.09H621.06V243.10H622.99V243.11H624.92V243.11H626.86V243.12H628.79V243.13H630.72V243.14H632.65V243.14H634.58V243.15H636.52V243.16H638.45V243.17H640.38V243.17H642.31V243.18H644.24V243.19H646.18V243.20H648.11V243.20H650.04V243.21H651.97V243.22H653.90V243.23H655.84V243.23H657.77V243.24H659.70V243.25H661.63V243.26H663.56V243.26H665.50V243.27H667.43V243.28H669.36V243.28H671.29V243.29H673.22V243.30H675.16V243.31H675.16" fill="none" stroke="#ee3b3b" stroke-width="1.45" stroke-linejoin="miter"/>
<path d="M522.53,220.25v4.7M526.39,224.56v4.7M528.32,226.72v4.7M530.26,228.16v4.7M532.19,229.60v4.7M543.62,237.51v4.7M546.28,237.60v4.7M548.74,237.64v4.7M551.01,237.69v4.7M553.35,237.73v4.7M555.79,237.82v4.7M563.31,240.53v4.7M565.04,240.53v4.7M567.18,240.54v4.7M569.15,240.55v4.7M571.08,240.56v4.7M572.76,240.56v4.7M574.75,240.57v4.7M576.45,240.57v4.7M578.82,240.59v4.7M580.77,240.59v4.7M582.61,240.60v4.7M584.37,240.61v4.7M586.04,240.61v4.7M588.11,240.62v4.7M589.92,240.62v4.7M591.91,240.63v4.7M593.91,240.64v4.7M595.94,240.65v4.7M598.10,240.66v4.7M599.67,240.66v4.7M601.76,240.67v4.7M603.87,240.68v4.7M605.39,240.68v4.7M607.48,240.69v4.7M609.51,240.70v4.7M611.22,240.70v4.7M615.26,240.73v4.7M619.13,240.74v4.7M622.99,240.76v4.7M626.86,240.77v4.7M628.79,240.78v4.7M632.65,240.79v4.7M636.52,240.81v4.7M674.87,240.95v4.7" fill="none" stroke="#ee3b3b" stroke-width="0.95"/>
<line x1="507.40" y1="323.60" x2="507.40" y2="300.20" stroke="#111" stroke-width="0.5"/>
<polyline points="506.08,302.10 507.40,299.90 508.72,302.10" fill="none" stroke="#000" stroke-width="0.5"/>
<line x1="507.40" y1="323.60" x2="677.00" y2="323.60" stroke="#111" stroke-width="0.5"/>
<polyline points="675.10,322.28 677.30,323.60 675.10,324.92" fill="none" stroke="#000" stroke-width="0.5"/>
<line x1="506.10" y1="309.30" x2="507.40" y2="309.30" stroke="#111" stroke-width="0.45"/>
<line x1="506.10" y1="318.00" x2="507.40" y2="318.00" stroke="#111" stroke-width="0.45"/>
<text x="514.80" y="311.20" font-size="5.4" text-anchor="middle" fill="#111">32</text>
<text x="514.80" y="319.90" font-size="5.4" text-anchor="middle" fill="#111">77</text>
<text x="526.39" y="311.20" font-size="5.4" text-anchor="middle" fill="#111">32</text>
<text x="526.39" y="319.90" font-size="5.4" text-anchor="middle" fill="#111">70</text>
<text x="537.98" y="311.20" font-size="5.4" text-anchor="middle" fill="#111">28</text>
<text x="537.98" y="319.90" font-size="5.4" text-anchor="middle" fill="#111">57</text>
<text x="549.58" y="311.20" font-size="5.4" text-anchor="middle" fill="#111">25</text>
<text x="549.58" y="319.90" font-size="5.4" text-anchor="middle" fill="#111">49</text>
<text x="561.17" y="311.20" font-size="5.4" text-anchor="middle" fill="#111">19</text>
<text x="561.17" y="319.90" font-size="5.4" text-anchor="middle" fill="#111">44</text>
<text x="572.76" y="311.20" font-size="5.4" text-anchor="middle" fill="#111">17</text>
<text x="572.76" y="319.90" font-size="5.4" text-anchor="middle" fill="#111">35</text>
<text x="584.35" y="311.20" font-size="5.4" text-anchor="middle" fill="#111">6</text>
<text x="584.35" y="319.90" font-size="5.4" text-anchor="middle" fill="#111">26</text>
<text x="595.94" y="311.20" font-size="5.4" text-anchor="middle" fill="#111">4</text>
<text x="595.94" y="319.90" font-size="5.4" text-anchor="middle" fill="#111">16</text>
<text x="607.54" y="311.20" font-size="5.4" text-anchor="middle" fill="#111">1</text>
<text x="607.54" y="319.90" font-size="5.4" text-anchor="middle" fill="#111">8</text>
<text x="619.13" y="311.20" font-size="5.4" text-anchor="middle" fill="#111">1</text>
<text x="619.13" y="319.90" font-size="5.4" text-anchor="middle" fill="#111">5</text>
<text x="630.72" y="311.20" font-size="5.4" text-anchor="middle" fill="#111">0</text>
<text x="630.72" y="319.90" font-size="5.4" text-anchor="middle" fill="#111">2</text>
<text x="642.31" y="311.20" font-size="5.4" text-anchor="middle" fill="#111">0</text>
<text x="642.31" y="319.90" font-size="5.4" text-anchor="middle" fill="#111">1</text>
<text x="653.90" y="311.20" font-size="5.4" text-anchor="middle" fill="#111">0</text>
<text x="653.90" y="319.90" font-size="5.4" text-anchor="middle" fill="#111">1</text>
<text x="665.50" y="311.20" font-size="5.4" text-anchor="middle" fill="#111">0</text>
<text x="665.50" y="319.90" font-size="5.4" text-anchor="middle" fill="#111">1</text>
<line x1="514.80" y1="323.60" x2="514.80" y2="324.90" stroke="#111" stroke-width="0.45"/>
<text x="514.80" y="330.70" font-size="5.6" text-anchor="middle" fill="#111">0</text>
<line x1="526.39" y1="323.60" x2="526.39" y2="324.90" stroke="#111" stroke-width="0.45"/>
<text x="526.39" y="330.70" font-size="5.6" text-anchor="middle" fill="#111">12</text>
<line x1="537.98" y1="323.60" x2="537.98" y2="324.90" stroke="#111" stroke-width="0.45"/>
<text x="537.98" y="330.70" font-size="5.6" text-anchor="middle" fill="#111">24</text>
<line x1="549.58" y1="323.60" x2="549.58" y2="324.90" stroke="#111" stroke-width="0.45"/>
<text x="549.58" y="330.70" font-size="5.6" text-anchor="middle" fill="#111">36</text>
<line x1="561.17" y1="323.60" x2="561.17" y2="324.90" stroke="#111" stroke-width="0.45"/>
<text x="561.17" y="330.70" font-size="5.6" text-anchor="middle" fill="#111">48</text>
<line x1="572.76" y1="323.60" x2="572.76" y2="324.90" stroke="#111" stroke-width="0.45"/>
<text x="572.76" y="330.70" font-size="5.6" text-anchor="middle" fill="#111">60</text>
<line x1="584.35" y1="323.60" x2="584.35" y2="324.90" stroke="#111" stroke-width="0.45"/>
<text x="584.35" y="330.70" font-size="5.6" text-anchor="middle" fill="#111">72</text>
<line x1="595.94" y1="323.60" x2="595.94" y2="324.90" stroke="#111" stroke-width="0.45"/>
<text x="595.94" y="330.70" font-size="5.6" text-anchor="middle" fill="#111">84</text>
<line x1="607.54" y1="323.60" x2="607.54" y2="324.90" stroke="#111" stroke-width="0.45"/>
<text x="607.54" y="330.70" font-size="5.6" text-anchor="middle" fill="#111">96</text>
<line x1="619.13" y1="323.60" x2="619.13" y2="324.90" stroke="#111" stroke-width="0.45"/>
<text x="619.13" y="330.70" font-size="5.6" text-anchor="middle" fill="#111">108</text>
<line x1="630.72" y1="323.60" x2="630.72" y2="324.90" stroke="#111" stroke-width="0.45"/>
<text x="630.72" y="330.70" font-size="5.6" text-anchor="middle" fill="#111">120</text>
<line x1="642.31" y1="323.60" x2="642.31" y2="324.90" stroke="#111" stroke-width="0.45"/>
<text x="642.31" y="330.70" font-size="5.6" text-anchor="middle" fill="#111">132</text>
<line x1="653.90" y1="323.60" x2="653.90" y2="324.90" stroke="#111" stroke-width="0.45"/>
<text x="653.90" y="330.70" font-size="5.6" text-anchor="middle" fill="#111">144</text>
<line x1="665.50" y1="323.60" x2="665.50" y2="324.90" stroke="#111" stroke-width="0.45"/>
<text x="665.50" y="330.70" font-size="5.6" text-anchor="middle" fill="#111">156</text>
<text x="504.60" y="310.90" font-size="5.52" text-anchor="end" fill="#3f78c4">TRIM31.expr=low</text>
<text x="504.60" y="319.60" font-size="5.55" text-anchor="end" fill="#ee3b3b">TRIM31.expr=high</text>
<text x="602.80" y="339.60" font-size="6.69" text-anchor="middle" fill="#111">Survival time (months)</text>
</g>
<g id="panelE">
<text x="1.50" y="357.50" font-size="13.4" font-weight="bold" stroke="#000" stroke-width="0.22" fill="#000">E</text>
<text x="62.00" y="378.20" font-size="9.4" text-anchor="middle" font-weight="bold" stroke="#111" stroke-width="0.22" fill="#111">Normal</text>
<text x="146.40" y="378.20" font-size="9.4" text-anchor="middle" font-weight="bold" stroke="#111" stroke-width="0.22" fill="#111">Tumor-1</text>
<text x="230.85" y="378.20" font-size="9.4" text-anchor="middle" font-weight="bold" stroke="#111" stroke-width="0.22" fill="#111">Tumor-2</text>
<text x="315.60" y="378.20" font-size="9.4" text-anchor="middle" font-weight="bold" stroke="#111" stroke-width="0.22" fill="#111">Tumor-3</text>
<text x="2.80" y="413.40" font-size="9.2" font-weight="bold" stroke="#111" stroke-width="0.22" fill="#111">10X</text>
<text x="2.80" y="463.20" font-size="9.2" font-weight="bold" stroke="#111" stroke-width="0.22" fill="#111">20X</text>
<defs><filter id="bl03" x="-0.2" y="-0.2" width="1.4" height="1.4"><feGaussianBlur stdDeviation="0.35"/></filter><filter id="bl06" x="-0.2" y="-0.2" width="1.4" height="1.4"><feGaussianBlur stdDeviation="0.6"/></filter><filter id="bl10" x="-0.2" y="-0.2" width="1.4" height="1.4"><feGaussianBlur stdDeviation="1.0"/></filter><filter id="T1a" x="0" y="0" width="1" height="1" color-interpolation-filters="sRGB"><feFlood flood-color="#b08060" result="base"/><feTurbulence type="fractalNoise" baseFrequency="0.4" numOctaves="2" seed="3" result="nf"/><feColorMatrix in="nf" type="matrix" values="0 0 0 0 0.439  0 0 0 0 0.384  0 0 0 0 0.533  2.4 0 0 0 -1.0" result="purp"/><feColorMatrix in="nf" type="matrix" values="0 0 0 0 0.541  0 0 0 0 0.361  0 0 0 0 0.267  0 2.4 0 0 -1.0" result="dark"/><feTurbulence type="fractalNoise" baseFrequency="0.04 0.05" numOctaves="3" seed="5" result="nb"/><feColorMatrix in="nb" type="matrix" values="0 0 0 0 0.910  0 0 0 0 0.898  0 0 0 0 0.941  1 0 0 0 0" result="nb2"/><feComponentTransfer in="nb2" result="veins"><feFuncA type="table" tableValues="0.00 0.00 0.00 0.00 0.00 0.00 0.00 0.00 0.00 0.00 0.00 0.00 0.00 0.00 0.00 0.00 0.00 0.00 0.00 0.00 0.00 0.00 0.00 0.00 0.00 0.00 0.00 0.00 0.00 0.49 0.80 0.49 0.00 0.00 0.00 0.00 0.00 0.00 0.00 0.00 0.00 0.00 0.00 0.00 0.00 0.00 0.00 0.00 0.00 0.00 0.00 0.00 0.00 0.00 0.00 0.00 0.00 0.00 0.00 0.00 0.00"/></feComponentTransfer><feColorMatrix in="nb" type="matrix" values="0 0 0 0 0.965  0 0 0 0 0.961  0 0 0 0 0.973  1 0 0 0 0" result="nb3"/><feComponentTransfer in="nb3" result="holes"><feFuncA type="table" tableValues="0.00 0.00 0.00 0.00 0.00 0.00 0.00 0.00 0.00 0.00 0.00 0.00 0.00 0.00 0.00 0.00 0.00 0.00 0.00 0.00 0.00 0.00 0.00 0.00 0.00 0.00 0.00 0.00 0.00 0.00 0.00 0.00 0.00 0.00 0.00 0.00 0.00 0.00 0.00 0.00 0.00 0.00 0.00 0.00 0.00 0.00 0.00 0.11 0.67 1.00 1.00 1.00 1.00 1.00 1.00 1.00 1.00 1.00 1.00 1.00 1.00"/></feComponentTransfer><feTurbulence type="fractalNoise" baseFrequency="0.1 0.12" numOctaves="2" seed="41" result="nc"/><feColorMatrix in="nc" type="matrix" values="0 0 0 0 0.894  0 0 0 0 0.871  0 0 0 0 0.918  1 0 0 0 0" result="nc2"/><feComponentTransfer in="nc2" result="veins2"><feFuncA type="table" tableValues="0.00 0.00 0.00 0.00 0.00 0.00 0.00 0.00 0.00 0.00 0.00 0.00 0.00 0.00 0.00 0.00 0.00 0.00 0.00 0.00 0.00 0.00 0.00 0.00 0.00 0.00 0.00 0.00 0.00 0.17 0.50 0.17 0.00 0.00 0.00 0.00 0.00 0.00 0.00 0.00 0.00 0.00 0.00 0.00 0.00 0.00 0.00 0.00 0.00 0.00 0.00 0.00 0.00 0.00 0.00 0.00 0.00 0.00 0.00 0.00 0.00"/></feComponentTransfer><feMerge result="m0"><feMergeNode in="base"/><feMergeNode in="dark"/><feMergeNode in="purp"/><feMergeNode in="veins2"/><feMergeNode in="veins"/><feMergeNode in="holes"/></feMerge><feColorMatrix in="m0" type="saturate" values="0.9" result="m"/><feGaussianBlur in="m" stdDeviation="0.4" result="mb"/><feComposite in="mb" in2="SourceGraphic" operator="in"/></filter><filter id="T1b" x="0" y="0" width="1" height="1" color-interpolation-filters="sRGB"><feFlood flood-color="#b08060" result="base"/><feTurbulence type="fractalNoise" baseFrequency="0.3" numOctaves="2" seed="13" result="nf"/><feColorMatrix in="nf" type="matrix" values="0 0 0 0 0.439  0 0 0 0 0.384  0 0 0 0 0.533  2.4 0 0 0 -1.0" result="purp"/><feColorMatrix in="nf" type="matrix" values="0 0 0 0 0.541  0 0 0 0 0.361  0 0 0 0 0.267  0 2.4 0 0 -1.0" result="dark"/><feTurbulence type="fractalNoise" baseFrequency="0.028 0.034" numOctaves="3" seed="9" result="nb"/><feColorMatrix in="nb" type="matrix" values="0 0 0 0 0.894  0 0 0 0 0.882  0 0 0 0 0.941  1 0 0 0 0" result="nb2"/><feComponentTransfer in="nb2" result="veins"><feFuncA type="table" tableValues="0.00 0.00 0.00 0.00 0.00 0.00 0.00 0.00 0.00 0.00 0.00 0.00 0.00 0.00 0.00 0.00 0.00 0.00 0.00 0.00 0.00 0.00 0.00 0.00 0.00 0.00 0.00 0.00 0.00 0.65 0.80 0.65 0.00 0.00 0.00 0.00 0.00 0.00 0.00 0.00 0.00 0.00 0.00 0.00 0.00 0.00 0.00 0.00 0.00 0.00 0.00 0.00 0.00 0.00 0.00 0.00 0.00 0.00 0.00 0.00 0.00"/></feComponentTransfer><feColorMatrix in="nb" type="matrix" values="0 0 0 0 0.965  0 0 0 0 0.961  0 0 0 0 0.973  1 0 0 0 0" result="nb3"/><feComponentTransfer in="nb3" result="holes"><feFuncA type="table" tableValues="0.00 0.00 0.00 0.00 0.00 0.00 0.00 0.00 0.00 0.00 0.00 0.00 0.00 0.00 0.00 0.00 0.00 0.00 0.00 0.00 0.00 0.00 0.00 0.00 0.00 0.00 0.00 0.00 0.00 0.00 0.00 0.00 0.00 0.00 0.00 0.00 0.00 0.00 0.00 0.00 0.00 0.00 0.00 0.00 0.00 0.00 0.00 0.00 0.00 0.56 1.00 1.00 1.00 1.00 1.00 1.00 1.00 1.00 1.00 1.00 1.00"/></feComponentTransfer><feTurbulence type="fractalNoise" baseFrequency="0.07 0.08" numOctaves="2" seed="43" result="nc"/><feColorMatrix in="nc" type="matrix" values="0 0 0 0 0.894  0 0 0 0 0.871  0 0 0 0 0.918  1 0 0 0 0" result="nc2"/><feComponentTransfer in="nc2" result="veins2"><feFuncA type="table" tableValues="0.00 0.00 0.00 0.00 0.00 0.00 0.00 0.00 0.00 0.00 0.00 0.00 0.00 0.00 0.00 0.00 0.00 0.00 0.00 0.00 0.00 0.00 0.00 0.00 0.00 0.00 0.00 0.00 0.00 0.15 0.45 0.15 0.00 0.00 0.00 0.00 0.00 0.00 0.00 0.00 0.00 0.00 0.00 0.00 0.00 0.00 0.00 0.00 0.00 0.00 0.00 0.00 0.00 0.00 0.00 0.00 0.00 0.00 0.00 0.00 0.00"/></feComponentTransfer><feMerge result="m0"><feMergeNode in="base"/><feMergeNode in="dark"/><feMergeNode in="purp"/><feMergeNode in="veins2"/><feMergeNode in="veins"/><feMergeNode in="holes"/></feMerge><feColorMatrix in="m0" type="saturate" values="0.9" result="m"/><feGaussianBlur in="m" stdDeviation="0.4" result="mb"/><feComposite in="mb" in2="SourceGraphic" operator="in"/></filter><filter id="T2a" x="0" y="0" width="1" height="1" color-interpolation-filters="sRGB"><feFlood flood-color="#ba9872" result="base"/><feTurbulence type="fractalNoise" baseFrequency="0.4" numOctaves="2" seed="23" result="nf"/><feColorMatrix in="nf" type="matrix" values="0 0 0 0 0.471  0 0 0 0 0.431  0 0 0 0 0.557  2.3 0 0 0 -1.02" result="purp"/><feColorMatrix in="nf" type="matrix" values="0 0 0 0 0.627  0 0 0 0 0.486  0 0 0 0 0.361  0 2.0 0 0 -0.9" result="dark"/><feTurbulence type="fractalNoise" baseFrequency="0.045 0.04" numOctaves="3" seed="15" result="nb"/><feColorMatrix in="nb" type="matrix" values="0 0 0 0 0.902  0 0 0 0 0.863  0 0 0 0 0.816  1 0 0 0 0" result="nb2"/><feComponentTransfer in="nb2" result="veins"><feFuncA type="table" tableValues="0.00 0.00 0.00 0.00 0.00 0.00 0.00 0.00 0.00 0.00 0.00 0.00 0.00 0.00 0.00 0.00 0.00 0.00 0.00 0.00 0.00 0.00 0.00 0.00 0.00 0.00 0.00 0.00 0.00 0.10 0.65 0.10 0.00 0.00 0.00 0.00 0.00 0.00 0.00 0.00 0.00 0.00 0.00 0.00 0.00 0.00 0.00 0.00 0.00 0.00 0.00 0.00 0.00 0.00 0.00 0.00 0.00 0.00 0.00 0.00 0.00"/></feComponentTransfer><feColorMatrix in="nb" type="matrix" values="0 0 0 0 0.941  0 0 0 0 0.925  0 0 0 0 0.902  1 0 0 0 0" result="nb3"/><feComponentTransfer in="nb3" result="holes"><feFuncA type="table" tableValues="0.00 0.00 0.00 0.00 0.00 0.00 0.00 0.00 0.00 0.00 0.00 0.00 0.00 0.00 0.00 0.00 0.00 0.00 0.00 0.00 0.00 0.00 0.00 0.00 0.00 0.00 0.00 0.00 0.00 0.00 0.00 0.00 0.00 0.00 0.00 0.00 0.00 0.00 0.00 0.00 0.00 0.00 0.00 0.00 0.00 0.00 0.00 0.11 0.67 1.00 1.00 1.00 1.00 1.00 1.00 1.00 1.00 1.00 1.00 1.00 1.00"/></feComponentTransfer><feTurbulence type="fractalNoise" baseFrequency="0.1 0.09" numOctaves="2" seed="45" result="nc"/><feColorMatrix in="nc" type="matrix" values="0 0 0 0 0.894  0 0 0 0 0.847  0 0 0 0 0.792  1 0 0 0 0" result="nc2"/><feComponentTransfer in="nc2" result="veins2"><feFuncA type="table" tableValues="0.00 0.00 0.00 0.00 0.00 0.00 0.00 0.00 0.00 0.00 0.00 0.00 0.00 0.00 0.00 0.00 0.00 0.00 0.00 0.00 0.00 0.00 0.00 0.00 0.00 0.00 0.00 0.00 0.00 0.08 0.25 0.08 0.00 0.00 0.00 0.00 0.00 0.00 0.00 0.00 0.00 0.00 0.00 0.00 0.00 0.00 0.00 0.00 0.00 0.00 0.00 0.00 0.00 0.00 0.00 0.00 0.00 0.00 0.00 0.00 0.00"/></feComponentTransfer><feMerge result="m0"><feMergeNode in="base"/><feMergeNode in="dark"/><feMergeNode in="purp"/><feMergeNode in="veins2"/><feMergeNode in="veins"/><feMergeNode in="holes"/></feMerge><feColorMatrix in="m0" type="saturate" values="0.9" result="m"/><feGaussianBlur in="m" stdDeviation="0.4" result="mb"/><feComposite in="mb" in2="SourceGraphic" operator="in"/></filter><filter id="T2b" x="0" y="0" width="1" height="1" color-interpolation-filters="sRGB"><feFlood flood-color="#ba9872" result="base"/><feTurbulence type="fractalNoise" baseFrequency="0.28" numOctaves="2" seed="33" result="nf"/><feColorMatrix in="nf" type="matrix" values="0 0 0 0 0.471  0 0 0 0 0.431  0 0 0 0 0.557  2.3 0 0 0 -1.02" result="purp"/><feColorMatrix in="nf" type="matrix" values="0 0 0 0 0.627  0 0 0 0 0.486  0 0 0 0 0.361  0 2.0 0 0 -0.9" result="dark"/><feTurbulence type="fractalNoise" baseFrequency="0.03 0.026" numOctaves="3" seed="19" result="nb"/><feColorMatrix in="nb" type="matrix" values="0 0 0 0 0.871  0 0 0 0 0.808  0 0 0 0 0.737  1 0 0 0 0" result="nb2"/><feComponentTransfer in="nb2" result="veins"><feFuncA type="table" tableValues="0.00 0.00 0.00 0.00 0.00 0.00 0.00 0.00 0.00 0.00 0.00 0.00 0.00 0.00 0.00 0.00 0.00 0.00 0.00 0.00 0.00 0.00 0.00 0.00 0.00 0.00 0.00 0.00 0.00 0.40 0.65 0.40 0.00 0.00 0.00 0.00 0.00 0.00 0.00 0.00 0.00 0.00 0.00 0.00 0.00 0.00 0.00 0.00 0.00 0.00 0.00 0.00 0.00 0.00 0.00 0.00 0.00 0.00 0.00 0.00 0.00"/></feComponentTransfer><feColorMatrix in="nb" type="matrix" values="0 0 0 0 0.941  0 0 0 0 0.925  0 0 0 0 0.902  1 0 0 0 0" result="nb3"/><feComponentTransfer in="nb3" result="holes"><feFuncA type="table" tableValues="0.00 0.00 0.00 0.00 0.00 0.00 0.00 0.00 0.00 0.00 0.00 0.00 0.00 0.00 0.00 0.00 0.00 0.00 0.00 0.00 0.00 0.00 0.00 0.00 0.00 0.00 0.00 0.00 0.00 0.00 0.00 0.00 0.00 0.00 0.00 0.00 0.00 0.00 0.00 0.00 0.00 0.00 0.00 0.00 0.00 0.00 0.00 0.00 0.33 0.89 1.00 1.00 1.00 1.00 1.00 1.00 1.00 1.00 1.00 1.00 1.00"/></feComponentTransfer><feTurbulence type="fractalNoise" baseFrequency="0.07 0.06" numOctaves="2" seed="47" result="nc"/><feColorMatrix in="nc" type="matrix" values="0 0 0 0 0.878  0 0 0 0 0.824  0 0 0 0 0.761  1 0 0 0 0" result="nc2"/><feComponentTransfer in="nc2" result="veins2"><feFuncA type="table" tableValues="0.00 0.00 0.00 0.00 0.00 0.00 0.00 0.00 0.00 0.00 0.00 0.00 0.00 0.00 0.00 0.00 0.00 0.00 0.00 0.00 0.00 0.00 0.00 0.00 0.00 0.00 0.00 0.00 0.00 0.08 0.25 0.08 0.00 0.00 0.00 0.00 0.00 0.00 0.00 0.00 0.00 0.00 0.00 0.00 0.00 0.00 0.00 0.00 0.00 0.00 0.00 0.00 0.00 0.00 0.00 0.00 0.00 0.00 0.00 0.00 0.00"/></feComponentTransfer><feMerge result="m0"><feMergeNode in="base"/><feMergeNode in="dark"/><feMergeNode in="purp"/><feMergeNode in="veins2"/><feMergeNode in="veins"/><feMergeNode in="holes"/></feMerge><feColorMatrix in="m0" type="saturate" values="0.9" result="m"/><feGaussianBlur in="m" stdDeviation="0.4" result="mb"/><feComposite in="mb" in2="SourceGraphic" operator="in"/></filter><filter id="T3a" x="0" y="0" width="1" height="1" color-interpolation-filters="sRGB"><feFlood flood-color="#a095ae" result="base"/><feTurbulence type="fractalNoise" baseFrequency="0.36" numOctaves="2" seed="43" result="nf"/><feColorMatrix in="nf" type="matrix" values="0 0 0 0 0.400  0 0 0 0 0.369  0 0 0 0 0.557  2.8 0 0 0 -1.15" result="purp"/><feColorMatrix in="nf" type="matrix" values="0 0 0 0 0.792  0 0 0 0 0.714  0 0 0 0 0.643  0 3.0 0 0 -1.0" result="dark"/><feTurbulence type="fractalNoise" baseFrequency="0.04 0.055" numOctaves="3" seed="25" result="nb"/><feColorMatrix in="nb" type="matrix" values="0 0 0 0 0.910  0 0 0 0 0.886  0 0 0 0 0.902  1 0 0 0 0" result="nb2"/><feComponentTransfer in="nb2" result="veins"><feFuncA type="table" tableValues="0.00 0.00 0.00 0.00 0.00 0.00 0.00 0.00 0.00 0.00 0.00 0.00 0.00 0.00 0.00 0.00 0.00 0.00 0.00 0.00 0.00 0.00 0.00 0.00 0.00 0.00 0.00 0.00 0.00 0.46 0.75 0.46 0.00 0.00 0.00 0.00 0.00 0.00 0.00 0.00 0.00 0.00 0.00 0.00 0.00 0.00 0.00 0.00 0.00 0.00 0.00 0.00 0.00 0.00 0.00 0.00 0.00 0.00 0.00 0.00 0.00"/></feComponentTransfer><feColorMatrix in="nb" type="matrix" values="0 0 0 0 0.957  0 0 0 0 0.949  0 0 0 0 0.961  1 0 0 0 0" result="nb3"/><feComponentTransfer in="nb3" result="holes"><feFuncA type="table" tableValues="0.00 0.00 0.00 0.00 0.00 0.00 0.00 0.00 0.00 0.00 0.00 0.00 0.00 0.00 0.00 0.00 0.00 0.00 0.00 0.00 0.00 0.00 0.00 0.00 0.00 0.00 0.00 0.00 0.00 0.00 0.00 0.00 0.00 0.00 0.00 0.00 0.00 0.00 0.00 0.00 0.00 0.00 0.00 0.00 0.00 0.00 0.00 0.00 0.33 0.89 1.00 1.00 1.00 1.00 1.00 1.00 1.00 1.00 1.00 1.00 1.00"/></feComponentTransfer><feTurbulence type="fractalNoise" baseFrequency="0.09 0.11" numOctaves="2" seed="49" result="nc"/><feColorMatrix in="nc" type="matrix" values="0 0 0 0 0.871  0 0 0 0 0.824  0 0 0 0 0.800  1 0 0 0 0" result="nc2"/><feComponentTransfer in="nc2" result="veins2"><feFuncA type="table" tableValues="0.00 0.00 0.00 0.00 0.00 0.00 0.00 0.00 0.00 0.00 0.00 0.00 0.00 0.00 0.00 0.00 0.00 0.00 0.00 0.00 0.00 0.00 0.00 0.00 0.00 0.00 0.00 0.00 0.00 0.10 0.30 0.10 0.00 0.00 0.00 0.00 0.00 0.00 0.00 0.00 0.00 0.00 0.00 0.00 0.00 0.00 0.00 0.00 0.00 0.00 0.00 0.00 0.00 0.00 0.00 0.00 0.00 0.00 0.00 0.00 0.00"/></feComponentTransfer><feMerge result="m0"><feMergeNode in="base"/><feMergeNode in="dark"/><feMergeNode in="purp"/><feMergeNode in="veins2"/><feMergeNode in="veins"/><feMergeNode in="holes"/></feMerge><feColorMatrix in="m0" type="saturate" values="0.68" result="m"/><feGaussianBlur in="m" stdDeviation="0.4" result="mb"/><feComposite in="mb" in2="SourceGraphic" operator="in"/></filter><filter id="T3b" x="0" y="0" width="1" height="1" color-interpolation-filters="sRGB"><feFlood flood-color="#9c92ac" result="base"/><feTurbulence type="fractalNoise" baseFrequency="0.24" numOctaves="2" seed="53" result="nf"/><feColorMatrix in="nf" type="matrix" values="0 0 0 0 0.384  0 0 0 0 0.353  0 0 0 0 0.533  2.8 0 0 0 -1.15" result="purp"/><feColorMatrix in="nf" type="matrix" values="0 0 0 0 0.808  0 0 0 0 0.737  0 0 0 0 0.667  0 2.8 0 0 -0.95" result="dark"/><feTurbulence type="fractalNoise" baseFrequency="0.024 0.034" numOctaves="3" seed="29" result="nb"/><feColorMatrix in="nb" type="matrix" values="0 0 0 0 0.831  0 0 0 0 0.769  0 0 0 0 0.714  1 0 0 0 0" result="nb2"/><feComponentTransfer in="nb2" result="veins"><feFuncA type="table" tableValues="0.00 0.00 0.00 0.00 0.00 0.00 0.00 0.00 0.00 0.00 0.00 0.00 0.00 0.00 0.00 0.00 0.00 0.00 0.00 0.00 0.00 0.00 0.00 0.00 0.00 0.00 0.00 0.00 0.23 0.70 0.70 0.70 0.23 0.00 0.00 0.00 0.00 0.00 0.00 0.00 0.00 0.00 0.00 0.00 0.00 0.00 0.00 0.00 0.00 0.00 0.00 0.00 0.00 0.00 0.00 0.00 0.00 0.00 0.00 0.00 0.00"/></feComponentTransfer><feColorMatrix in="nb" type="matrix" values="0 0 0 0 0.965  0 0 0 0 0.957  0 0 0 0 0.965  1 0 0 0 0" result="nb3"/><feComponentTransfer in="nb3" result="holes"><feFuncA type="table" tableValues="0.00 0.00 0.00 0.00 0.00 0.00 0.00 0.00 0.00 0.00 0.00 0.00 0.00 0.00 0.00 0.00 0.00 0.00 0.00 0.00 0.00 0.00 0.00 0.00 0.00 0.00 0.00 0.00 0.00 0.00 0.00 0.00 0.00 0.00 0.00 0.00 0.00 0.00 0.00 0.00 0.00 0.00 0.00 0.00 0.00 0.00 0.00 0.00 0.00 0.22 0.78 1.00 1.00 1.00 1.00 1.00 1.00 1.00 1.00 1.00 1.00"/></feComponentTransfer><feMerge result="m0"><feMergeNode in="base"/><feMergeNode in="dark"/><feMergeNode in="purp"/><feMergeNode in="veins"/><feMergeNode in="holes"/></feMerge><feColorMatrix in="m0" type="saturate" values="0.68" result="m"/><feGaussianBlur in="m" stdDeviation="0.4" result="mb"/><feComposite in="mb" in2="SourceGraphic" operator="in"/></filter><filter id="N0" x="0" y="0" width="1" height="1" color-interpolation-filters="sRGB"><feFlood flood-color="#dfded5" result="base"/><feTurbulence type="fractalNoise" baseFrequency="0.9" numOctaves="1" seed="3" result="nf"/><feColorMatrix in="nf" type="matrix" values="0 0 0 0 0.549  0 0 0 0 0.620  0 0 0 0 0.753  2.6 0 0 0 -1.68" result="spk"/><feMerge result="m"><feMergeNode in="base"/><feMergeNode in="spk"/></feMerge><feComposite in="m" in2="SourceGraphic" operator="in"/></filter><filter id="NR0" x="0" y="0" width="1" height="1" color-interpolation-filters="sRGB"><feTurbulence type="fractalNoise" baseFrequency="0.16" numOctaves="1" seed="11" result="nb"/><feColorMatrix in="nb" type="matrix" values="0 0 0 0 0.518  0 0 0 0 0.596  0 0 0 0 0.745  1 0 0 0 0" result="nb2"/><feComponentTransfer in="nb2" result="rings"><feFuncA type="table" tableValues="0.00 0.00 0.00 0.00 0.00 0.00 0.00 0.00 0.00 0.00 0.00 0.00 0.00 0.00 0.00 0.00 0.00 0.00 0.00 0.00 0.00 0.00 0.00 0.00 0.00 0.00 0.00 0.00 0.00 0.00 0.00 0.00 0.00 0.00 0.00 0.00 0.00 0.00 0.00 0.00 0.00 0.00 0.95 0.95 0.00 0.00 0.00 0.00 0.00 0.00 0.00 0.00 0.00 0.00 0.00 0.00 0.00 0.00 0.00 0.00 0.00 0.00 0.00 0.00 0.00 0.00 0.00 0.00 0.00 0.00 0.00 0.00 0.00 0.00 0.00 0.00 0.00 0.00 0.00 0.00 0.00"/></feComponentTransfer><feColorMatrix in="nb" type="matrix" values="0 0 0 0 0.898  0 0 0 0 0.898  0 0 0 0 0.875  1 0 0 0 0" result="nb3"/><feComponentTransfer in="nb3" result="fillin"><feFuncA type="table" tableValues="0.00 0.00 0.00 0.00 0.00 0.00 0.00 0.00 0.00 0.00 0.00 0.00 0.00 0.00 0.00 0.00 0.00 0.00 0.00 0.00 0.00 0.00 0.00 0.00 0.00 0.00 0.00 0.00 0.00 0.00 0.00 0.00 0.00 0.00 0.00 0.00 0.00 0.00 0.00 0.00 0.00 0.00 0.00 0.37 1.00 1.00 1.00 1.00 1.00 1.00 1.00 1.00 1.00 1.00 1.00 1.00 1.00 1.00 1.00 1.00 1.00 1.00 1.00 1.00 1.00 1.00 1.00 1.00 1.00 1.00 1.00 1.00 1.00 1.00 1.00 1.00 1.00 1.00 1.00 1.00 1.00"/></feComponentTransfer><feMerge result="m"><feMergeNode in="fillin"/><feMergeNode in="rings"/></feMerge><feGaussianBlur in="m" stdDeviation="0.3" result="mb"/><feComposite in="mb" in2="SourceGraphic" operator="in"/></filter><filter id="NR1" x="0" y="0" width="1" height="1" color-interpolation-filters="sRGB"><feTurbulence type="fractalNoise" baseFrequency="0.1" numOctaves="1" seed="17" result="nb"/><feColorMatrix in="nb" type="matrix" values="0 0 0 0 0.518  0 0 0 0 0.596  0 0 0 0 0.745  1 0 0 0 0" result="nb2"/><feComponentTransfer in="nb2" result="rings"><feFuncA type="table" tableValues="0.00 0.00 0.00 0.00 0.00 0.00 0.00 0.00 0.00 0.00 0.00 0.00 0.00 0.00 0.00 0.00 0.00 0.00 0.00 0.00 0.00 0.00 0.00 0.00 0.00 0.00 0.00 0.00 0.00 0.00 0.00 0.00 0.00 0.00 0.00 0.00 0.00 0.00 0.00 0.00 0.00 0.00 0.95 0.95 0.00 0.00 0.00 0.00 0.00 0.00 0.00 0.00 0.00 0.00 0.00 0.00 0.00 0.00 0.00 0.00 0.00 0.00 0.00 0.00 0.00 0.00 0.00 0.00 0.00 0.00 0.00 0.00 0.00 0.00 0.00 0.00 0.00 0.00 0.00 0.00 0.00"/></feComponentTransfer><feColorMatrix in="nb" type="matrix" values="0 0 0 0 0.898  0 0 0 0 0.898  0 0 0 0 0.875  1 0 0 0 0" result="nb3"/><feComponentTransfer in="nb3" result="fillin"><feFuncA type="table" tableValues="0.00 0.00 0.00 0.00 0.00 0.00 0.00 0.00 0.00 0.00 0.00 0.00 0.00 0.00 0.00 0.00 0.00 0.00 0.00 0.00 0.00 0.00 0.00 0.00 0.00 0.00 0.00 0.00 0.00 0.00 0.00 0.00 0.00 0.00 0.00 0.00 0.00 0.00 0.00 0.00 0.00 0.00 0.00 0.37 1.00 1.00 1.00 1.00 1.00 1.00 1.00 1.00 1.00 1.00 1.00 1.00 1.00 1.00 1.00 1.00 1.00 1.00 1.00 1.00 1.00 1.00 1.00 1.00 1.00 1.00 1.00 1.00 1.00 1.00 1.00 1.00 1.00 1.00 1.00 1.00 1.00"/></feComponentTransfer><feMerge result="m"><feMergeNode in="fillin"/><feMergeNode in="rings"/></feMerge><feGaussianBlur in="m" stdDeviation="0.3" result="mb"/><feComposite in="mb" in2="SourceGraphic" operator="in"/></filter><clipPath id="cp00"><rect x="21.0" y="380.5" width="78.80" height="49.10"/></clipPath><clipPath id="cp01"><rect x="21.0" y="435.1" width="78.80" height="49.20"/></clipPath><clipPath id="cp10"><rect x="105.6" y="380.5" width="78.40" height="49.10"/></clipPath><clipPath id="cp11"><rect x="105.6" y="435.1" width="78.40" height="49.20"/></clipPath><clipPath id="cp20"><rect x="190.0" y="380.5" width="78.50" height="49.10"/></clipPath><clipPath id="cp21"><rect x="190.0" y="435.1" width="78.50" height="49.20"/></clipPath><clipPath id="cp30"><rect x="274.6" y="380.5" width="78.80" height="49.10"/></clipPath><clipPath id="cp31"><rect x="274.6" y="435.1" width="78.80" height="49.20"/></clipPath></defs>
<g clip-path="url(#cp00)">
<rect x="21.0" y="380.5" width="78.80" height="49.10" fill="#000" filter="url(#N0)"/>
<rect x="49.4" y="378.5" width="53.4" height="53.1" fill="#e3e3dc" opacity="0.8" filter="url(#bl10)"/>
<ellipse cx="97.3" cy="416.9" rx="2.8" ry="2.2" fill="#e7e7e0" stroke="#bcc8d8" stroke-width="0.5" filter="url(#bl03)" transform="rotate(73 97.3 416.9)"/>
<ellipse cx="57.2" cy="387.5" rx="3.3" ry="3.0" fill="#e7e7e0" stroke="#8496b8" stroke-width="0.7" filter="url(#bl03)" transform="rotate(115 57.2 387.5)"/>
<ellipse cx="93.1" cy="410.2" rx="2.0" ry="1.7" fill="#e7e7e0" stroke="#bcc8d8" stroke-width="0.5" filter="url(#bl03)" transform="rotate(77 93.1 410.2)"/>
<ellipse cx="50.4" cy="429.1" rx="2.9" ry="3.4" fill="#e7e7e0" stroke="#8496b8" stroke-width="0.7" filter="url(#bl03)" transform="rotate(86 50.4 429.1)"/>
<ellipse cx="64.7" cy="406.3" rx="2.2" ry="2.3" fill="#e7e7e0" stroke="#a9b8cf" stroke-width="0.5" filter="url(#bl03)" transform="rotate(90 64.7 406.3)"/>
<ellipse cx="64.1" cy="398.2" rx="2.2" ry="2.3" fill="#e7e7e0" stroke="#a9b8cf" stroke-width="0.5" filter="url(#bl03)" transform="rotate(156 64.1 398.2)"/>
<ellipse cx="89.0" cy="389.7" rx="3.1" ry="2.3" fill="#e7e7e0" stroke="#bcc8d8" stroke-width="0.5" filter="url(#bl03)" transform="rotate(102 89.0 389.7)"/>
<ellipse cx="79.2" cy="381.9" rx="3.3" ry="2.4" fill="#e7e7e0" stroke="#a9b8cf" stroke-width="0.5" filter="url(#bl03)" transform="rotate(41 79.2 381.9)"/>
<ellipse cx="54.3" cy="414.5" rx="3.0" ry="2.1" fill="#e7e7e0" stroke="#8496b8" stroke-width="0.7" filter="url(#bl03)" transform="rotate(135 54.3 414.5)"/>
<ellipse cx="55.5" cy="404.8" rx="2.8" ry="2.5" fill="#e7e7e0" stroke="#8496b8" stroke-width="0.7" filter="url(#bl03)" transform="rotate(1 55.5 404.8)"/>
<ellipse cx="95.2" cy="392.7" rx="2.3" ry="1.8" fill="#e7e7e0" stroke="#bcc8d8" stroke-width="0.5" filter="url(#bl03)" transform="rotate(97 95.2 392.7)"/>
<ellipse cx="58.7" cy="429.0" rx="3.2" ry="2.9" fill="#e7e7e0" stroke="#8496b8" stroke-width="0.7" filter="url(#bl03)" transform="rotate(172 58.7 429.0)"/>
<ellipse cx="96.7" cy="425.2" rx="3.5" ry="3.1" fill="#e7e7e0" stroke="#bcc8d8" stroke-width="0.5" filter="url(#bl03)" transform="rotate(172 96.7 425.2)"/>
<ellipse cx="95.9" cy="384.0" rx="3.3" ry="2.7" fill="#e7e7e0" stroke="#bcc8d8" stroke-width="0.5" filter="url(#bl03)" transform="rotate(23 95.9 384.0)"/>
<ellipse cx="51.6" cy="396.1" rx="2.7" ry="2.1" fill="#e7e7e0" stroke="#8496b8" stroke-width="0.7" filter="url(#bl03)" transform="rotate(119 51.6 396.1)"/>
<ellipse cx="63.1" cy="421.8" rx="2.7" ry="2.3" fill="#e7e7e0" stroke="#a9b8cf" stroke-width="0.5" filter="url(#bl03)" transform="rotate(108 63.1 421.8)"/>
<ellipse cx="89.8" cy="383.3" rx="2.0" ry="2.0" fill="#e7e7e0" stroke="#bcc8d8" stroke-width="0.5" filter="url(#bl03)" transform="rotate(98 89.8 383.3)"/>
<ellipse cx="90.5" cy="415.6" rx="2.0" ry="2.0" fill="#e7e7e0" stroke="#bcc8d8" stroke-width="0.5" filter="url(#bl03)" transform="rotate(149 90.5 415.6)"/>
<ellipse cx="55.2" cy="423.6" rx="3.0" ry="2.1" fill="#e7e7e0" stroke="#8496b8" stroke-width="0.7" filter="url(#bl03)" transform="rotate(35 55.2 423.6)"/>
<ellipse cx="66.1" cy="382.7" rx="3.2" ry="3.2" fill="#e7e7e0" stroke="#a9b8cf" stroke-width="0.5" filter="url(#bl03)" transform="rotate(150 66.1 382.7)"/>
<ellipse cx="65.8" cy="416.8" rx="2.9" ry="2.2" fill="#e7e7e0" stroke="#a9b8cf" stroke-width="0.5" filter="url(#bl03)" transform="rotate(77 65.8 416.8)"/>
<ellipse cx="94.1" cy="403.6" rx="3.2" ry="2.6" fill="#e7e7e0" stroke="#bcc8d8" stroke-width="0.5" filter="url(#bl03)" transform="rotate(6 94.1 403.6)"/>
<ellipse cx="85.3" cy="418.4" rx="2.6" ry="1.9" fill="#e7e7e0" stroke="#bcc8d8" stroke-width="0.5" filter="url(#bl03)" transform="rotate(43 85.3 418.4)"/>
<ellipse cx="75.0" cy="425.9" rx="2.3" ry="2.6" fill="#e7e7e0" stroke="#a9b8cf" stroke-width="0.5" filter="url(#bl03)" transform="rotate(104 75.0 425.9)"/>
<ellipse cx="70.4" cy="390.8" rx="3.2" ry="3.0" fill="#e7e7e0" stroke="#a9b8cf" stroke-width="0.5" filter="url(#bl03)" transform="rotate(62 70.4 390.8)"/>
<ellipse cx="66.4" cy="427.7" rx="2.4" ry="1.8" fill="#e7e7e0" stroke="#a9b8cf" stroke-width="0.5" filter="url(#bl03)" transform="rotate(34 66.4 427.7)"/>
<ellipse cx="75.5" cy="415.4" rx="2.9" ry="2.6" fill="#e7e7e0" stroke="#a9b8cf" stroke-width="0.5" filter="url(#bl03)" transform="rotate(63 75.5 415.4)"/>
<ellipse cx="74.4" cy="394.9" rx="2.4" ry="2.3" fill="#e7e7e0" stroke="#a9b8cf" stroke-width="0.5" filter="url(#bl03)" transform="rotate(0 74.4 394.9)"/>
<ellipse cx="77.4" cy="406.6" rx="3.2" ry="3.0" fill="#e7e7e0" stroke="#a9b8cf" stroke-width="0.5" filter="url(#bl03)" transform="rotate(45 77.4 406.6)"/>
<ellipse cx="81.3" cy="396.8" rx="4.1" ry="3.1" fill="#e7e7e0" stroke="#bcc8d8" stroke-width="0.5" filter="url(#bl03)" transform="rotate(34 81.3 396.8)"/>
<ellipse cx="86.0" cy="425.3" rx="2.7" ry="2.7" fill="#e7e7e0" stroke="#bcc8d8" stroke-width="0.5" filter="url(#bl03)" transform="rotate(43 86.0 425.3)"/>
<ellipse cx="49.8" cy="384.7" rx="2.7" ry="2.7" fill="#e7e7e0" stroke="#8496b8" stroke-width="0.7" filter="url(#bl03)" transform="rotate(135 49.8 384.7)"/>
<ellipse cx="84.3" cy="412.8" rx="3.1" ry="3.0" fill="#e7e7e0" stroke="#bcc8d8" stroke-width="0.5" filter="url(#bl03)" transform="rotate(173 84.3 412.8)"/>
<ellipse cx="98.4" cy="399.6" rx="2.8" ry="2.3" fill="#e7e7e0" stroke="#bcc8d8" stroke-width="0.5" filter="url(#bl03)" transform="rotate(89 98.4 399.6)"/>
<ellipse cx="81.9" cy="388.6" rx="1.8" ry="2.1" fill="#e7e7e0" stroke="#bcc8d8" stroke-width="0.5" filter="url(#bl03)" transform="rotate(69 81.9 388.6)"/>
<ellipse cx="90.9" cy="397.9" rx="1.9" ry="2.0" fill="#e7e7e0" stroke="#bcc8d8" stroke-width="0.5" filter="url(#bl03)" transform="rotate(51 90.9 397.9)"/>
<ellipse cx="84.9" cy="403.7" rx="3.7" ry="3.4" fill="#e7e7e0" stroke="#bcc8d8" stroke-width="0.5" filter="url(#bl03)" transform="rotate(80 84.9 403.7)"/>
<ellipse cx="71.2" cy="399.9" rx="2.6" ry="2.0" fill="#e7e7e0" stroke="#a9b8cf" stroke-width="0.5" filter="url(#bl03)" transform="rotate(81 71.2 399.9)"/>
<ellipse cx="54.5" cy="380.4" rx="2.2" ry="2.1" fill="#e7e7e0" stroke="#8496b8" stroke-width="0.7" filter="url(#bl03)" transform="rotate(141 54.5 380.4)"/>
<ellipse cx="73.0" cy="382.4" rx="2.0" ry="1.9" fill="#e7e7e0" stroke="#a9b8cf" stroke-width="0.5" filter="url(#bl03)" transform="rotate(27 73.0 382.4)"/>
<ellipse cx="90.2" cy="429.9" rx="3.2" ry="2.4" fill="#e7e7e0" stroke="#bcc8d8" stroke-width="0.5" filter="url(#bl03)" transform="rotate(131 90.2 429.9)"/>
<ellipse cx="59.1" cy="381.6" rx="2.0" ry="2.0" fill="#e7e7e0" stroke="#8496b8" stroke-width="0.7" filter="url(#bl03)" transform="rotate(88 59.1 381.6)"/>
<ellipse cx="63.4" cy="388.5" rx="2.7" ry="2.1" fill="#e7e7e0" stroke="#a9b8cf" stroke-width="0.5" filter="url(#bl03)" transform="rotate(167 63.4 388.5)"/>
<ellipse cx="99.1" cy="410.5" rx="2.7" ry="2.4" fill="#e7e7e0" stroke="#bcc8d8" stroke-width="0.5" filter="url(#bl03)" transform="rotate(22 99.1 410.5)"/>
<ellipse cx="70.8" cy="405.4" rx="2.9" ry="2.2" fill="#e7e7e0" stroke="#a9b8cf" stroke-width="0.5" filter="url(#bl03)" transform="rotate(162 70.8 405.4)"/>
<ellipse cx="99.6" cy="405.2" rx="2.5" ry="2.2" fill="#e7e7e0" stroke="#bcc8d8" stroke-width="0.5" filter="url(#bl03)" transform="rotate(94 99.6 405.2)"/>
<ellipse cx="61.0" cy="413.8" rx="2.6" ry="2.4" fill="#e7e7e0" stroke="#a9b8cf" stroke-width="0.5" filter="url(#bl03)" transform="rotate(24 61.0 413.8)"/>
<ellipse cx="59.7" cy="394.5" rx="3.4" ry="2.6" fill="#e7e7e0" stroke="#a9b8cf" stroke-width="0.5" filter="url(#bl03)" transform="rotate(90 59.7 394.5)"/>
<ellipse cx="90.6" cy="422.0" rx="2.1" ry="1.9" fill="#e7e7e0" stroke="#bcc8d8" stroke-width="0.5" filter="url(#bl03)" transform="rotate(66 90.6 422.0)"/>
<ellipse cx="81.3" cy="428.1" rx="2.1" ry="2.0" fill="#e7e7e0" stroke="#bcc8d8" stroke-width="0.5" filter="url(#bl03)" transform="rotate(13 81.3 428.1)"/>
<ellipse cx="75.5" cy="387.2" rx="2.2" ry="1.8" fill="#e7e7e0" stroke="#a9b8cf" stroke-width="0.5" filter="url(#bl03)" transform="rotate(103 75.5 387.2)"/>
<ellipse cx="80.4" cy="419.1" rx="2.4" ry="2.1" fill="#e7e7e0" stroke="#bcc8d8" stroke-width="0.5" filter="url(#bl03)" transform="rotate(133 80.4 419.1)"/>
<ellipse cx="69.6" cy="420.4" rx="2.1" ry="2.2" fill="#e7e7e0" stroke="#a9b8cf" stroke-width="0.5" filter="url(#bl03)" transform="rotate(78 69.6 420.4)"/>
<ellipse cx="76.2" cy="400.5" rx="2.3" ry="2.2" fill="#e7e7e0" stroke="#a9b8cf" stroke-width="0.5" filter="url(#bl03)" transform="rotate(3 76.2 400.5)"/>
<ellipse cx="71.6" cy="410.9" rx="2.5" ry="2.2" fill="#e7e7e0" stroke="#a9b8cf" stroke-width="0.5" filter="url(#bl03)" transform="rotate(56 71.6 410.9)"/>
<ellipse cx="50.0" cy="408.1" rx="2.0" ry="1.9" fill="#e7e7e0" stroke="#8496b8" stroke-width="0.7" filter="url(#bl03)" transform="rotate(166 50.0 408.1)"/>
<ellipse cx="49.4" cy="416.8" rx="2.6" ry="2.0" fill="#e7e7e0" stroke="#8496b8" stroke-width="0.7" filter="url(#bl03)" transform="rotate(64 49.4 416.8)"/>
<ellipse cx="84.7" cy="380.0" rx="2.2" ry="2.1" fill="#e7e7e0" stroke="#bcc8d8" stroke-width="0.5" filter="url(#bl03)" transform="rotate(8 84.7 380.0)"/>
<ellipse cx="49.4" cy="402.5" rx="2.0" ry="2.2" fill="#e7e7e0" stroke="#8496b8" stroke-width="0.7" filter="url(#bl03)" transform="rotate(2 49.4 402.5)"/>
<ellipse cx="60.0" cy="408.4" rx="1.9" ry="2.2" fill="#e7e7e0" stroke="#a9b8cf" stroke-width="0.5" filter="url(#bl03)" transform="rotate(110 60.0 408.4)"/>
<circle cx="99.8" cy="380.5" r="5" fill="#9a958a" opacity="0.45" filter="url(#bl10)"/>
</g>
<g clip-path="url(#cp01)">
<rect x="21.0" y="435.1" width="78.80" height="49.20" fill="#000" filter="url(#N0)"/>
<rect x="52.5" y="433.1" width="50.3" height="53.2" fill="#e3e3dc" opacity="0.8" filter="url(#bl10)"/>
<ellipse cx="55.7" cy="435.5" rx="4.5" ry="3.5" fill="#e7e7e0" stroke="#8496b8" stroke-width="0.7" filter="url(#bl03)" transform="rotate(76 55.7 435.5)"/>
<ellipse cx="94.2" cy="455.4" rx="4.1" ry="3.9" fill="#e7e7e0" stroke="#bcc8d8" stroke-width="0.5" filter="url(#bl03)" transform="rotate(48 94.2 455.4)"/>
<ellipse cx="77.0" cy="480.6" rx="3.6" ry="3.6" fill="#e7e7e0" stroke="#a9b8cf" stroke-width="0.5" filter="url(#bl03)" transform="rotate(110 77.0 480.6)"/>
<ellipse cx="55.6" cy="469.6" rx="4.7" ry="5.1" fill="#e7e7e0" stroke="#8496b8" stroke-width="0.7" filter="url(#bl03)" transform="rotate(34 55.6 469.6)"/>
<ellipse cx="95.4" cy="440.4" rx="4.8" ry="4.4" fill="#e7e7e0" stroke="#bcc8d8" stroke-width="0.5" filter="url(#bl03)" transform="rotate(158 95.4 440.4)"/>
<ellipse cx="55.9" cy="448.3" rx="4.5" ry="3.9" fill="#e7e7e0" stroke="#8496b8" stroke-width="0.7" filter="url(#bl03)" transform="rotate(42 55.9 448.3)"/>
<ellipse cx="84.3" cy="442.4" rx="5.1" ry="3.7" fill="#e7e7e0" stroke="#bcc8d8" stroke-width="0.5" filter="url(#bl03)" transform="rotate(77 84.3 442.4)"/>
<ellipse cx="87.4" cy="478.5" rx="4.1" ry="4.4" fill="#e7e7e0" stroke="#bcc8d8" stroke-width="0.5" filter="url(#bl03)" transform="rotate(85 87.4 478.5)"/>
<ellipse cx="96.7" cy="471.0" rx="3.7" ry="3.4" fill="#e7e7e0" stroke="#bcc8d8" stroke-width="0.5" filter="url(#bl03)" transform="rotate(153 96.7 471.0)"/>
<ellipse cx="62.9" cy="456.8" rx="5.4" ry="5.1" fill="#e7e7e0" stroke="#a9b8cf" stroke-width="0.5" filter="url(#bl03)" transform="rotate(161 62.9 456.8)"/>
<ellipse cx="77.0" cy="457.7" rx="6.3" ry="4.8" fill="#e7e7e0" stroke="#a9b8cf" stroke-width="0.5" filter="url(#bl03)" transform="rotate(171 77.0 457.7)"/>
<ellipse cx="80.0" cy="471.5" rx="3.4" ry="3.6" fill="#e7e7e0" stroke="#a9b8cf" stroke-width="0.5" filter="url(#bl03)" transform="rotate(161 80.0 471.5)"/>
<ellipse cx="64.9" cy="446.5" rx="4.1" ry="3.8" fill="#e7e7e0" stroke="#a9b8cf" stroke-width="0.5" filter="url(#bl03)" transform="rotate(54 64.9 446.5)"/>
<ellipse cx="96.6" cy="482.6" rx="5.6" ry="4.8" fill="#e7e7e0" stroke="#bcc8d8" stroke-width="0.5" filter="url(#bl03)" transform="rotate(131 96.6 482.6)"/>
<ellipse cx="73.4" cy="436.5" rx="3.6" ry="3.0" fill="#e7e7e0" stroke="#a9b8cf" stroke-width="0.5" filter="url(#bl03)" transform="rotate(37 73.4 436.5)"/>
<ellipse cx="65.1" cy="480.4" rx="6.6" ry="4.9" fill="#e7e7e0" stroke="#a9b8cf" stroke-width="0.5" filter="url(#bl03)" transform="rotate(27 65.1 480.4)"/>
<ellipse cx="86.6" cy="456.9" rx="2.8" ry="3.0" fill="#e7e7e0" stroke="#bcc8d8" stroke-width="0.5" filter="url(#bl03)" transform="rotate(20 86.6 456.9)"/>
<ellipse cx="54.0" cy="483.6" rx="4.8" ry="4.6" fill="#e7e7e0" stroke="#8496b8" stroke-width="0.7" filter="url(#bl03)" transform="rotate(51 54.0 483.6)"/>
<ellipse cx="98.7" cy="448.8" rx="3.6" ry="3.4" fill="#e7e7e0" stroke="#bcc8d8" stroke-width="0.5" filter="url(#bl03)" transform="rotate(137 98.7 448.8)"/>
<ellipse cx="68.0" cy="465.2" rx="4.0" ry="3.7" fill="#e7e7e0" stroke="#a9b8cf" stroke-width="0.5" filter="url(#bl03)" transform="rotate(174 68.0 465.2)"/>
<ellipse cx="87.8" cy="434.5" rx="3.0" ry="3.6" fill="#e7e7e0" stroke="#bcc8d8" stroke-width="0.5" filter="url(#bl03)" transform="rotate(36 87.8 434.5)"/>
<ellipse cx="53.6" cy="457.1" rx="3.8" ry="2.9" fill="#e7e7e0" stroke="#8496b8" stroke-width="0.7" filter="url(#bl03)" transform="rotate(79 53.6 457.1)"/>
<ellipse cx="63.1" cy="437.0" rx="3.5" ry="3.0" fill="#e7e7e0" stroke="#a9b8cf" stroke-width="0.5" filter="url(#bl03)" transform="rotate(57 63.1 437.0)"/>
<ellipse cx="90.4" cy="465.0" rx="3.4" ry="3.2" fill="#e7e7e0" stroke="#bcc8d8" stroke-width="0.5" filter="url(#bl03)" transform="rotate(8 90.4 465.0)"/>
<ellipse cx="77.0" cy="447.6" rx="3.3" ry="3.6" fill="#e7e7e0" stroke="#a9b8cf" stroke-width="0.5" filter="url(#bl03)" transform="rotate(24 77.0 447.6)"/>
<ellipse cx="71.5" cy="473.3" rx="3.6" ry="2.8" fill="#e7e7e0" stroke="#a9b8cf" stroke-width="0.5" filter="url(#bl03)" transform="rotate(78 71.5 473.3)"/>
<circle cx="99.8" cy="435.1" r="5" fill="#9a958a" opacity="0.45" filter="url(#bl10)"/>
</g>
<g clip-path="url(#cp10)">
<rect x="105.6" y="380.5" width="78.40" height="49.10" fill="#000" filter="url(#T1a)"/>
<path d="M115.0,411.9 L129.1,408.0 L148.7,401.1 L168.3,389.3 L184.0,381.5" fill="none" stroke="#dad6e8" stroke-width="2.6" stroke-linecap="round" stroke-linejoin="round" filter="url(#bl06)"/>
<path d="M148.7,427.1 L160.5,415.9 L172.2,407.5 L184.0,401.1" fill="none" stroke="#dad6e8" stroke-width="1.2" stroke-linecap="round" stroke-linejoin="round" filter="url(#bl06)"/>
<ellipse cx="126.8" cy="401.1" rx="3.6" ry="2.2" fill="#f4f3f7" filter="url(#bl06)" transform="rotate(20 126.8 401.1)"/>
<ellipse cx="144.8" cy="410.0" rx="2.4" ry="1.3" fill="#f4f3f7" filter="url(#bl06)" transform="rotate(-20 144.8 410.0)"/>
</g>
<g clip-path="url(#cp11)">
<rect x="105.6" y="435.1" width="78.40" height="49.20" fill="#000" filter="url(#T1b)"/>
<path d="M105.6,466.6 L121.3,461.7 L137.0,456.3 L154.2,447.9 L172.2,441.5 L184.0,438.1" fill="none" stroke="#d4d0e6" stroke-width="4.4" stroke-linecap="round" stroke-linejoin="round" filter="url(#bl10)"/>
<ellipse cx="121.3" cy="474.5" rx="4.8" ry="2.4" fill="#f4f3f7" filter="url(#bl06)" transform="rotate(10 121.3 474.5)"/>
<ellipse cx="131.5" cy="452.8" rx="2.0" ry="3.0" fill="#f4f3f7" filter="url(#bl06)" transform="rotate(0 131.5 452.8)"/>
</g>
<g clip-path="url(#cp20)">
<rect x="190.0" y="380.5" width="78.50" height="49.10" fill="#000" filter="url(#T2a)"/>
<ellipse cx="238.7" cy="396.7" rx="1.8" ry="3.0" fill="#e9e3dc" filter="url(#bl10)" transform="rotate(10 238.7 396.7)"/>
<ellipse cx="244.9" cy="407.5" rx="1.4" ry="4.0" fill="#e9e3dc" filter="url(#bl10)" transform="rotate(-12 244.9 407.5)"/>
<ellipse cx="258.3" cy="428.1" rx="2.5" ry="1.5" fill="#e9e3dc" filter="url(#bl10)" transform="rotate(0 258.3 428.1)"/>
</g>
<g clip-path="url(#cp21)">
<rect x="190.0" y="435.1" width="78.50" height="49.20" fill="#000" filter="url(#T2b)"/>
<path d="M209.6,435.1 L215.1,449.9 L213.6,464.6 L208.8,474.5" fill="none" stroke="#d6c2ae" stroke-width="2.2" stroke-linecap="round" stroke-linejoin="round" filter="url(#bl10)"/>
<ellipse cx="251.2" cy="455.8" rx="3.0" ry="2.4" fill="#ebe5de" filter="url(#bl10)" transform="rotate(0 251.2 455.8)"/>
<ellipse cx="259.1" cy="465.6" rx="2.0" ry="4.6" fill="#ebe5de" filter="url(#bl10)" transform="rotate(-10 259.1 465.6)"/>
<ellipse cx="252.8" cy="479.4" rx="2.2" ry="2.8" fill="#ebe5de" filter="url(#bl10)" transform="rotate(0 252.8 479.4)"/>
</g>
<g clip-path="url(#cp30)">
<rect x="274.6" y="380.5" width="78.80" height="49.10" fill="#000" filter="url(#T3a)"/>
<path d="M317.9,402.6 L329.8,398.2 L345.5,400.1 L353.4,405.1" fill="none" stroke="#e4e1e6" stroke-width="1.5" stroke-linecap="round" stroke-linejoin="round" filter="url(#bl06)"/>
</g>
<g clip-path="url(#cp31)">
<rect x="274.6" y="435.1" width="78.80" height="49.20" fill="#000" filter="url(#T3b)"/>
<ellipse cx="298.2" cy="455.8" rx="10" ry="3.6" fill="#cdbbae" filter="url(#bl10)" transform="rotate(12 298.2 455.8)"/>
<ellipse cx="347.9" cy="454.8" rx="5.0" ry="3.0" fill="#eeeaea" filter="url(#bl10)" transform="rotate(-15 347.9 454.8)"/>
</g>
<line x1="342.20" y1="481.40" x2="350.80" y2="481.40" stroke="#111" stroke-width="0.8"/>
</g>
<g id="panelF">
<text x="364.20" y="357.00" font-size="13.4" font-weight="bold" stroke="#000" stroke-width="0.22" fill="#000">F</text>
<line x1="396.50" y1="363.40" x2="396.50" y2="476.70" stroke="#111" stroke-width="0.8"/>
<line x1="396.10" y1="476.70" x2="481.70" y2="476.70" stroke="#111" stroke-width="0.8"/>
<line x1="393.70" y1="476.70" x2="396.50" y2="476.70" stroke="#111" stroke-width="0.8"/>
<text x="392.50" y="479.60" font-size="8.3" text-anchor="end" font-weight="bold" stroke="#111" stroke-width="0.22" fill="#111">0</text>
<line x1="393.70" y1="439.07" x2="396.50" y2="439.07" stroke="#111" stroke-width="0.8"/>
<text x="392.50" y="441.97" font-size="8.3" text-anchor="end" font-weight="bold" stroke="#111" stroke-width="0.22" fill="#111">5</text>
<line x1="393.70" y1="401.43" x2="396.50" y2="401.43" stroke="#111" stroke-width="0.8"/>
<text x="392.50" y="404.33" font-size="8.3" text-anchor="end" font-weight="bold" stroke="#111" stroke-width="0.22" fill="#111">10</text>
<line x1="393.70" y1="363.80" x2="396.50" y2="363.80" stroke="#111" stroke-width="0.8"/>
<text x="392.50" y="366.70" font-size="8.3" text-anchor="end" font-weight="bold" stroke="#111" stroke-width="0.22" fill="#111">15</text>
<text x="381.20" y="420.60" font-size="8.1" text-anchor="middle" font-weight="bold" stroke="#111" stroke-width="0.22" fill="#111" transform="rotate(-90 381.20 420.60)">IHC score of TRIM31</text>
<rect x="408.6" y="458.26" width="23.60" height="18.44" fill="none" stroke="#a5c5ea" stroke-width="0.75"/>
<rect x="445.0" y="422.51" width="23.40" height="54.19" fill="none" stroke="#e0627e" stroke-width="0.75"/>
<line x1="420.40" y1="475.95" x2="420.40" y2="440.57" stroke="#a5c5ea" stroke-width="0.7"/>
<line x1="414.80" y1="440.57" x2="426.00" y2="440.57" stroke="#a5c5ea" stroke-width="0.7"/>
<line x1="456.70" y1="443.58" x2="456.70" y2="400.68" stroke="#e0627e" stroke-width="0.7"/>
<line x1="451.10" y1="400.68" x2="462.30" y2="400.68" stroke="#e0627e" stroke-width="0.7"/>
<line x1="451.10" y1="443.58" x2="462.30" y2="443.58" stroke="#e0627e" stroke-width="0.7"/>
<line x1="468.80" y1="474.10" x2="468.80" y2="476.70" stroke="#111" stroke-width="0.8"/>
<line x1="456.70" y1="476.70" x2="456.70" y2="479.30" stroke="#111" stroke-width="0.8"/>
<line x1="420.40" y1="476.70" x2="420.40" y2="479.30" stroke="#111" stroke-width="0.8"/>
<path d="M411.55,476.70h0M414.50,476.70h0M417.45,476.70h0M420.40,476.70h0M423.35,476.70h0M426.30,476.70h0M429.25,476.70h0M410.07,461.65h0M413.02,461.65h0M415.97,461.65h0M418.92,461.65h0M421.88,461.65h0M424.82,461.65h0M427.77,461.65h0M430.72,461.65h0M415.97,446.59h0M418.92,446.59h0M421.88,446.59h0M424.82,446.59h0M418.92,431.54h0M421.88,431.54h0M420.40,416.49h0" stroke="#a5c5ea" stroke-width="2.4" stroke-linecap="round" fill="none"/>
<path d="M445.45,386.38h0M447.95,386.38h0M450.45,386.38h0M452.95,386.38h0M455.45,386.38h0M457.95,386.38h0M460.45,386.38h0M462.95,386.38h0M465.45,386.38h0M467.95,386.38h0M454.20,392.02h0M456.70,392.02h0M459.20,392.02h0M455.45,395.79h0M457.95,395.79h0M456.70,399.18h0M452.95,402.94h0M455.45,402.94h0M457.95,402.94h0M460.45,402.94h0M451.70,406.70h0M454.20,406.70h0M456.70,406.70h0M459.20,406.70h0M461.70,406.70h0M449.20,410.84h0M451.70,410.84h0M454.20,410.84h0M456.70,410.84h0M459.20,410.84h0M461.70,410.84h0M464.20,410.84h0M450.45,414.23h0M452.95,414.23h0M455.45,414.23h0M457.95,414.23h0M460.45,414.23h0M462.95,414.23h0M447.95,417.99h0M450.45,417.99h0M452.95,417.99h0M455.45,417.99h0M457.95,417.99h0M460.45,417.99h0M462.95,417.99h0M465.45,417.99h0M450.45,421.76h0M452.95,421.76h0M455.45,421.76h0M457.95,421.76h0M460.45,421.76h0M462.95,421.76h0M449.20,425.52h0M451.70,425.52h0M454.20,425.52h0M456.70,425.52h0M459.20,425.52h0M461.70,425.52h0M464.20,425.52h0M446.70,430.03h0M449.20,430.03h0M451.70,430.03h0M454.20,430.03h0M456.70,430.03h0M459.20,430.03h0M461.70,430.03h0M464.20,430.03h0M466.70,430.03h0M452.95,434.55h0M455.45,434.55h0M457.95,434.55h0M460.45,434.55h0M454.20,437.56h0M456.70,437.56h0M459.20,437.56h0M452.95,440.20h0M455.45,440.20h0M457.95,440.20h0M460.45,440.20h0M446.70,443.21h0M449.20,443.21h0M451.70,443.21h0M454.20,443.21h0M456.70,443.21h0M459.20,443.21h0M461.70,443.21h0M464.20,443.21h0M466.70,443.21h0M450.45,446.22h0M452.95,446.22h0M455.45,446.22h0M457.95,446.22h0M460.45,446.22h0M462.95,446.22h0M456.70,450.36h0M451.70,461.65h0M454.20,461.65h0M456.70,461.65h0M459.20,461.65h0M461.70,461.65h0M456.70,468.80h0M455.45,472.94h0M457.95,472.94h0" stroke="#e0627e" stroke-width="2.4" stroke-linecap="round" fill="none"/>
<path d="M420.40,377.6 V372.3 H456.70 V377.6" fill="none" stroke="#111" stroke-width="0.6"/>
<text x="438.00" y="372.00" font-size="8.0" text-anchor="middle" font-weight="bold" stroke="#111" stroke-width="0.22" fill="#111">**</text>
<text x="419.40" y="488.80" font-size="8.5" text-anchor="middle" font-weight="bold" stroke="#111" stroke-width="0.22" fill="#111">Normal</text>
<text x="419.40" y="498.20" font-size="7.4" text-anchor="middle" font-weight="bold" stroke="#111" stroke-width="0.22" fill="#111">(N=20)</text>
<text x="455.80" y="488.80" font-size="8.5" text-anchor="middle" font-weight="bold" stroke="#111" stroke-width="0.22" fill="#111">Tumor</text>
<text x="455.80" y="498.20" font-size="7.4" text-anchor="middle" font-weight="bold" stroke="#111" stroke-width="0.22" fill="#111">(N=96)</text>
</g>
<g id="panelG">
<text x="500.50" y="357.00" font-size="13.4" font-weight="bold" stroke="#000" stroke-width="0.22" fill="#000">G</text>
<line x1="536.50" y1="363.00" x2="536.50" y2="476.90" stroke="#111" stroke-width="0.9"/>
<line x1="536.10" y1="476.50" x2="668.90" y2="476.50" stroke="#111" stroke-width="0.9"/>
<line x1="533.70" y1="476.50" x2="536.50" y2="476.50" stroke="#111" stroke-width="0.9"/>
<text x="532.70" y="479.40" font-size="8.3" text-anchor="end" font-weight="bold" stroke="#111" stroke-width="0.22" fill="#111">0</text>
<line x1="533.70" y1="448.23" x2="536.50" y2="448.23" stroke="#111" stroke-width="0.9"/>
<text x="532.70" y="451.12" font-size="8.3" text-anchor="end" font-weight="bold" stroke="#111" stroke-width="0.22" fill="#111">25</text>
<line x1="533.70" y1="419.95" x2="536.50" y2="419.95" stroke="#111" stroke-width="0.9"/>
<text x="532.70" y="422.85" font-size="8.3" text-anchor="end" font-weight="bold" stroke="#111" stroke-width="0.22" fill="#111">50</text>
<line x1="533.70" y1="391.67" x2="536.50" y2="391.67" stroke="#111" stroke-width="0.9"/>
<text x="532.70" y="394.57" font-size="8.3" text-anchor="end" font-weight="bold" stroke="#111" stroke-width="0.22" fill="#111">75</text>
<line x1="533.70" y1="363.40" x2="536.50" y2="363.40" stroke="#111" stroke-width="0.9"/>
<text x="532.70" y="366.30" font-size="8.3" text-anchor="end" font-weight="bold" stroke="#111" stroke-width="0.22" fill="#111">100</text>
<line x1="536.50" y1="476.50" x2="536.50" y2="479.30" stroke="#111" stroke-width="0.9"/>
<text x="536.50" y="490.20" font-size="8.3" text-anchor="middle" font-weight="bold" stroke="#111" stroke-width="0.22" fill="#111">0</text>
<line x1="569.50" y1="476.50" x2="569.50" y2="479.30" stroke="#111" stroke-width="0.9"/>
<text x="569.50" y="490.20" font-size="8.3" text-anchor="middle" font-weight="bold" stroke="#111" stroke-width="0.22" fill="#111">20</text>
<line x1="602.50" y1="476.50" x2="602.50" y2="479.30" stroke="#111" stroke-width="0.9"/>
<text x="602.50" y="490.20" font-size="8.3" text-anchor="middle" font-weight="bold" stroke="#111" stroke-width="0.22" fill="#111">40</text>
<line x1="635.50" y1="476.50" x2="635.50" y2="479.30" stroke="#111" stroke-width="0.9"/>
<text x="635.50" y="490.20" font-size="8.3" text-anchor="middle" font-weight="bold" stroke="#111" stroke-width="0.22" fill="#111">60</text>
<line x1="668.50" y1="476.50" x2="668.50" y2="479.30" stroke="#111" stroke-width="0.9"/>
<text x="668.50" y="490.20" font-size="8.3" text-anchor="middle" font-weight="bold" stroke="#111" stroke-width="0.22" fill="#111">80</text>
<text x="602.60" y="502.80" font-size="8.5" text-anchor="middle" font-weight="bold" stroke="#111" stroke-width="0.22" fill="#111">Time(Months)</text>
<text x="513.40" y="419.30" font-size="8.2" text-anchor="middle" font-weight="bold" stroke="#111" stroke-width="0.22" fill="#111" transform="rotate(-90 513.40 419.30)">Overall survival rate(%)</text>
<path d="M536.50,363.40H539.80V375.28H597.55V382.06H660.25V382.06" fill="none" stroke="#8fb5e8" stroke-width="0.9"/>
<path d="M584.35,375.28v-2.0M592.60,375.28v-2.0" fill="none" stroke="#8fb5e8" stroke-width="0.6"/>
<path d="M605.80,382.06v-2.0M615.70,382.06v-2.0M628.90,382.06v-2.0M635.50,382.06v-2.0M638.80,382.06v-2.0M640.45,382.06v-2.0M643.75,382.06v-2.0M648.70,382.06v-2.0M650.35,382.06v-2.0M652.00,382.06v-2.0M660.25,382.06v-2.0" fill="none" stroke="#8fb5e8" stroke-width="0.6"/>
<path d="M536.50,363.40H540.62V365.44H548.05V367.47H549.70V371.32H556.30V373.35H561.25V375.28H562.90V377.31H564.55V379.23H566.20V383.19H567.85V385.23H571.15V387.15H572.80V389.19H574.45V391.22H576.10V393.15H577.75V395.07H586.00V397.10H594.25V399.14H596.73V401.18H597.55V405.25H598.38V409.09H600.02V411.13H602.50V414.29H619.83V417.46H665.20V417.46" fill="none" stroke="#e8708a" stroke-width="0.9"/>
<path d="M579.40,395.07v-2.0M581.05,395.07v-2.0M584.35,395.07v-2.0" fill="none" stroke="#e8708a" stroke-width="0.6"/>
<path d="M587.65,397.10v-2.0M590.95,397.10v-2.0" fill="none" stroke="#e8708a" stroke-width="0.6"/>
<path d="M595.24,399.14v-2.0M596.23,399.14v-2.0" fill="none" stroke="#e8708a" stroke-width="0.6"/>
<path d="M607.45,414.29v-2.0M610.75,414.29v-2.0M617.35,414.29v-2.0" fill="none" stroke="#e8708a" stroke-width="0.6"/>
<path d="M622.30,417.46v-2.0M625.60,417.46v-2.0M635.50,417.46v-2.0M638.80,417.46v-2.0M643.75,417.46v-2.0M645.40,417.46v-2.0M653.65,417.46v-2.0M655.30,417.46v-2.0M658.60,417.46v-2.0M665.20,417.46v-2.0" fill="none" stroke="#e8708a" stroke-width="0.6"/>
<line x1="547.30" y1="435.20" x2="560.00" y2="435.20" stroke="#8fb5e8" stroke-width="0.9"/>
<line x1="553.60" y1="435.20" x2="553.60" y2="433.00" stroke="#8fb5e8" stroke-width="0.6"/>
<line x1="547.30" y1="448.20" x2="560.00" y2="448.20" stroke="#e8708a" stroke-width="0.9"/>
<line x1="553.60" y1="448.20" x2="553.60" y2="446.00" stroke="#e8708a" stroke-width="0.6"/>
<text x="566.00" y="438.40" font-size="6.9" fill="#000">Low TRIM31 expression(n=19)</text>
<text x="566.00" y="451.20" font-size="6.9" fill="#000">High TRIM31 expression(n=57)</text>
<text x="551.80" y="464.60" font-size="7.0" fill="#000"><tspan font-style="italic">P</tspan>=0.043</text>
</g>
<g id="panelH">
<text x="1.00" y="536.60" font-size="13.4" font-weight="bold" stroke="#000" stroke-width="0.22" fill="#000">H</text>
<line x1="38.60" y1="539.00" x2="38.60" y2="594.90" stroke="#111" stroke-width="0.9"/>
<line x1="38.60" y1="602.70" x2="38.60" y2="658.90" stroke="#111" stroke-width="0.9"/>
<line x1="38.20" y1="658.50" x2="153.70" y2="658.50" stroke="#111" stroke-width="0.9"/>
<line x1="35.20" y1="586.70" x2="38.60" y2="586.70" stroke="#111" stroke-width="0.9"/>
<text x="33.80" y="589.90" font-size="9.0" text-anchor="end" font-weight="bold" stroke="#111" stroke-width="0.22" fill="#111">100</text>
<line x1="35.20" y1="570.90" x2="38.60" y2="570.90" stroke="#111" stroke-width="0.9"/>
<text x="33.80" y="574.10" font-size="9.0" text-anchor="end" font-weight="bold" stroke="#111" stroke-width="0.22" fill="#111">200</text>
<line x1="35.20" y1="555.10" x2="38.60" y2="555.10" stroke="#111" stroke-width="0.9"/>
<text x="33.80" y="558.30" font-size="9.0" text-anchor="end" font-weight="bold" stroke="#111" stroke-width="0.22" fill="#111">300</text>
<line x1="35.20" y1="539.30" x2="38.60" y2="539.30" stroke="#111" stroke-width="0.9"/>
<text x="33.80" y="542.50" font-size="9.0" text-anchor="end" font-weight="bold" stroke="#111" stroke-width="0.22" fill="#111">400</text>
<line x1="35.40" y1="594.90" x2="41.40" y2="594.90" stroke="#111" stroke-width="0.9"/>
<line x1="35.20" y1="658.50" x2="38.60" y2="658.50" stroke="#111" stroke-width="0.9"/>
<text x="33.80" y="661.70" font-size="9.0" text-anchor="end" font-weight="bold" stroke="#111" stroke-width="0.22" fill="#111">0</text>
<line x1="35.20" y1="647.42" x2="38.60" y2="647.42" stroke="#111" stroke-width="0.9"/>
<text x="33.80" y="650.62" font-size="9.0" text-anchor="end" font-weight="bold" stroke="#111" stroke-width="0.22" fill="#111">2</text>
<line x1="35.20" y1="636.34" x2="38.60" y2="636.34" stroke="#111" stroke-width="0.9"/>
<text x="33.80" y="639.54" font-size="9.0" text-anchor="end" font-weight="bold" stroke="#111" stroke-width="0.22" fill="#111">4</text>
<line x1="35.20" y1="625.26" x2="38.60" y2="625.26" stroke="#111" stroke-width="0.9"/>
<text x="33.80" y="628.46" font-size="9.0" text-anchor="end" font-weight="bold" stroke="#111" stroke-width="0.22" fill="#111">6</text>
<line x1="35.20" y1="614.18" x2="38.60" y2="614.18" stroke="#111" stroke-width="0.9"/>
<text x="33.80" y="617.38" font-size="9.0" text-anchor="end" font-weight="bold" stroke="#111" stroke-width="0.22" fill="#111">8</text>
<line x1="35.20" y1="603.10" x2="38.60" y2="603.10" stroke="#111" stroke-width="0.9"/>
<text x="33.80" y="606.30" font-size="9.0" text-anchor="end" font-weight="bold" stroke="#111" stroke-width="0.22" fill="#111">10</text>
<text x="14.20" y="599.20" font-size="8.28" text-anchor="middle" font-weight="bold" stroke="#111" stroke-width="0.22" fill="#111" transform="rotate(-90 14.20 599.20)">Relative TRIM31 expression</text>
<rect x="45.30" y="653.00" width="13.70" height="5.50" fill="#8c8c8c"/>
<line x1="52.15" y1="653.00" x2="52.15" y2="650.80" stroke="#8c8c8c" stroke-width="0.8"/>
<line x1="48.55" y1="650.80" x2="55.75" y2="650.80" stroke="#8c8c8c" stroke-width="0.8"/>
<line x1="52.15" y1="658.50" x2="52.15" y2="661.30" stroke="#111" stroke-width="0.9"/>
<text x="54.35" y="669.00" font-size="7.7" text-anchor="end" font-weight="bold" stroke="#111" stroke-width="0.22" fill="#111" transform="rotate(-24.5 54.35 669.00)">NCM460</text>
<rect x="63.10" y="593.90" width="13.50" height="64.60" fill="#dda15e"/>
<line x1="69.85" y1="593.90" x2="69.85" y2="591.80" stroke="#dda15e" stroke-width="0.8"/>
<line x1="66.25" y1="591.80" x2="73.45" y2="591.80" stroke="#dda15e" stroke-width="0.8"/>
<line x1="69.85" y1="658.50" x2="69.85" y2="661.30" stroke="#111" stroke-width="0.9"/>
<text x="69.85" y="592.00" font-size="8.2" text-anchor="middle" font-weight="bold" stroke="#222" stroke-width="0.22" fill="#222">***</text>
<text x="72.05" y="669.00" font-size="7.7" text-anchor="end" font-weight="bold" stroke="#111" stroke-width="0.22" fill="#111" transform="rotate(-24.5 72.05 669.00)">LOVO</text>
<rect x="80.40" y="580.20" width="13.50" height="78.30" fill="#e08585"/>
<line x1="87.15" y1="580.20" x2="87.15" y2="577.10" stroke="#e08585" stroke-width="0.8"/>
<line x1="83.55" y1="577.10" x2="90.75" y2="577.10" stroke="#e08585" stroke-width="0.8"/>
<line x1="87.15" y1="658.50" x2="87.15" y2="661.30" stroke="#111" stroke-width="0.9"/>
<text x="87.15" y="577.30" font-size="8.2" text-anchor="middle" font-weight="bold" stroke="#222" stroke-width="0.22" fill="#222">***</text>
<text x="89.35" y="669.00" font-size="7.7" text-anchor="end" font-weight="bold" stroke="#111" stroke-width="0.22" fill="#111" transform="rotate(-24.5 89.35 669.00)">DLD-1</text>
<rect x="98.00" y="654.40" width="13.30" height="4.10" fill="#b5b0dc"/>
<line x1="104.65" y1="654.40" x2="104.65" y2="652.00" stroke="#b5b0dc" stroke-width="0.8"/>
<line x1="101.05" y1="652.00" x2="108.25" y2="652.00" stroke="#b5b0dc" stroke-width="0.8"/>
<line x1="104.65" y1="658.50" x2="104.65" y2="661.30" stroke="#111" stroke-width="0.9"/>
<text x="106.85" y="669.00" font-size="7.7" text-anchor="end" font-weight="bold" stroke="#111" stroke-width="0.22" fill="#111" transform="rotate(-24.5 106.85 669.00)">SW480</text>
<rect x="115.60" y="612.70" width="13.50" height="45.80" fill="#7fa5bd"/>
<line x1="122.35" y1="612.70" x2="122.35" y2="608.40" stroke="#7fa5bd" stroke-width="0.8"/>
<line x1="118.75" y1="608.40" x2="125.95" y2="608.40" stroke="#7fa5bd" stroke-width="0.8"/>
<line x1="122.35" y1="658.50" x2="122.35" y2="661.30" stroke="#111" stroke-width="0.9"/>
<text x="122.35" y="608.60" font-size="8.2" text-anchor="middle" font-weight="bold" stroke="#222" stroke-width="0.22" fill="#222">***</text>
<text x="124.55" y="669.00" font-size="7.7" text-anchor="end" font-weight="bold" stroke="#111" stroke-width="0.22" fill="#111" transform="rotate(-24.5 124.55 669.00)">HCT116</text>
<rect x="133.20" y="552.00" width="13.20" height="106.50" fill="#92d5c0"/>
<line x1="139.80" y1="552.00" x2="139.80" y2="544.60" stroke="#92d5c0" stroke-width="0.8"/>
<line x1="136.20" y1="544.60" x2="143.40" y2="544.60" stroke="#92d5c0" stroke-width="0.8"/>
<line x1="139.80" y1="658.50" x2="139.80" y2="661.30" stroke="#111" stroke-width="0.9"/>
<text x="139.80" y="544.80" font-size="8.2" text-anchor="middle" font-weight="bold" stroke="#222" stroke-width="0.22" fill="#222">***</text>
<text x="142.00" y="669.00" font-size="7.7" text-anchor="end" font-weight="bold" stroke="#111" stroke-width="0.22" fill="#111" transform="rotate(-24.5 142.00 669.00)">HT-29</text>
</g>
<g id="panelI">
<text x="191.50" y="536.60" font-size="13.4" font-weight="bold" stroke="#000" stroke-width="0.22" fill="#000">I</text>
<defs><filter id="wb1" x="-0.3" y="-0.5" width="1.6" height="2"><feGaussianBlur stdDeviation="1.5 0.9"/></filter><filter id="wb2" x="-0.3" y="-0.5" width="1.6" height="2"><feGaussianBlur stdDeviation="1.3 1.1"/></filter><clipPath id="cpw1"><rect x="231.3" y="590.2" width="148.5" height="21.1"/></clipPath><clipPath id="cpw2"><rect x="231.3" y="618.8" width="148.5" height="20.5"/></clipPath><linearGradient id="wbg" x1="0" x2="1" y1="0" y2="0"><stop offset="0" stop-color="#e4e4e4"/><stop offset="0.6" stop-color="#dddddd"/><stop offset="1" stop-color="#d4d4d4"/></linearGradient></defs>
<rect x="231.30" y="590.20" width="148.50" height="21.10" fill="url(#wbg)"/>
<g clip-path="url(#cpw1)">
<rect x="240.0" y="595.8" width="16" height="1.6" rx="1" fill="#0a0a0a" opacity="0.22" filter="url(#wb1)"/>
<rect x="240.0" y="602.1" width="16" height="1.8" rx="1" fill="#0a0a0a" opacity="0.62" filter="url(#wb1)"/>
<rect x="240.0" y="593.5" width="16" height="14" fill="#444" opacity="0.22" filter="url(#wb2)"/>
<rect x="262.0" y="595.7" width="19" height="4.6" rx="1" fill="#0a0a0a" opacity="1.0" filter="url(#wb1)"/>
<rect x="262.0" y="603.1" width="19" height="3.4" rx="1" fill="#0a0a0a" opacity="1.0" filter="url(#wb1)"/>
<rect x="262.0" y="599.2" width="19" height="4.0" rx="1" fill="#0a0a0a" opacity="0.55" filter="url(#wb1)"/>
<rect x="262.0" y="593.5" width="19" height="14" fill="#444" opacity="0.22" filter="url(#wb2)"/>
<rect x="284.8" y="595.8" width="19" height="4.8" rx="1" fill="#0a0a0a" opacity="1.0" filter="url(#wb1)"/>
<rect x="284.8" y="603.3" width="19" height="3.4" rx="1" fill="#0a0a0a" opacity="1.0" filter="url(#wb1)"/>
<rect x="284.8" y="599.4" width="19" height="4.0" rx="1" fill="#0a0a0a" opacity="0.6" filter="url(#wb1)"/>
<rect x="284.8" y="593.5" width="19" height="14" fill="#444" opacity="0.22" filter="url(#wb2)"/>
<rect x="308.8" y="596.4" width="16" height="2.0" rx="1" fill="#0a0a0a" opacity="0.5" filter="url(#wb1)"/>
<rect x="308.8" y="602.7" width="16" height="1.8" rx="1" fill="#0a0a0a" opacity="0.6" filter="url(#wb1)"/>
<rect x="308.8" y="608.9" width="16" height="1.4" rx="1" fill="#0a0a0a" opacity="0.45" filter="url(#wb1)"/>
<rect x="308.8" y="593.5" width="16" height="14" fill="#444" opacity="0.22" filter="url(#wb2)"/>
<rect x="331.2" y="595.9" width="17.5" height="3.0" rx="1" fill="#0a0a0a" opacity="0.9" filter="url(#wb1)"/>
<rect x="331.2" y="602.6" width="17.5" height="2.4" rx="1" fill="#0a0a0a" opacity="0.8" filter="url(#wb1)"/>
<rect x="331.2" y="608.2" width="17.5" height="1.6" rx="1" fill="#0a0a0a" opacity="0.5" filter="url(#wb1)"/>
<rect x="331.2" y="593.5" width="17.5" height="14" fill="#444" opacity="0.22" filter="url(#wb2)"/>
<ellipse cx="364.4" cy="599.6" rx="11.0" ry="10.4" fill="#000" filter="url(#wb2)"/>
<rect x="354.8" y="591" width="19.4" height="15" rx="4" fill="#000" filter="url(#wb1)"/>
<rect x="355.5" y="607.6" width="18" height="1.6" fill="#111" opacity="0.7" filter="url(#wb1)"/>
</g>
<rect x="231.3" y="590.2" width="148.5" height="21.1" fill="none" stroke="#3a3a3a" stroke-width="0.7"/>
<rect x="231.30" y="618.80" width="148.50" height="20.50" fill="url(#wbg)"/>
<g clip-path="url(#cpw2)">
<rect x="237.8" y="625.8" width="20.4" height="6.2" rx="2.4" fill="#050505" filter="url(#wb1)"/>
<rect x="238.6" y="627.0" width="18.8" height="5.2" rx="2.4" fill="#000" filter="url(#wb1)"/>
<rect x="261.3" y="625.8" width="20.4" height="6.2" rx="2.4" fill="#050505" filter="url(#wb1)"/>
<rect x="262.1" y="627.0" width="18.8" height="5.2" rx="2.4" fill="#000" filter="url(#wb1)"/>
<rect x="284.1" y="625.8" width="20.4" height="6.2" rx="2.4" fill="#050505" filter="url(#wb1)"/>
<rect x="284.9" y="627.0" width="18.8" height="5.2" rx="2.4" fill="#000" filter="url(#wb1)"/>
<rect x="306.6" y="625.8" width="20.4" height="6.2" rx="2.4" fill="#050505" filter="url(#wb1)"/>
<rect x="307.4" y="627.0" width="18.8" height="5.2" rx="2.4" fill="#000" filter="url(#wb1)"/>
<rect x="329.8" y="625.8" width="20.4" height="6.2" rx="2.4" fill="#050505" filter="url(#wb1)"/>
<rect x="330.6" y="627.0" width="18.8" height="5.2" rx="2.4" fill="#000" filter="url(#wb1)"/>
<rect x="354.4" y="625.8" width="20.4" height="6.2" rx="2.4" fill="#050505" filter="url(#wb1)"/>
<rect x="355.2" y="627.0" width="18.8" height="5.2" rx="2.4" fill="#000" filter="url(#wb1)"/>
</g>
<rect x="231.3" y="618.8" width="148.5" height="20.5" fill="none" stroke="#3a3a3a" stroke-width="0.7"/>
<text x="225.40" y="605.40" font-size="9.6" text-anchor="end" font-weight="bold" stroke="#111" stroke-width="0.22" fill="#111">TRIM31</text>
<text x="225.00" y="629.60" font-size="9.6" text-anchor="end" font-weight="bold" stroke="#111" stroke-width="0.22" fill="#111">β-actin</text>
<text x="387.40" y="602.60" font-size="9.6" font-weight="bold" stroke="#111" stroke-width="0.22" fill="#111">-55kDa</text>
<text x="385.80" y="636.60" font-size="9.6" font-weight="bold" stroke="#111" stroke-width="0.22" fill="#111">-40kDa</text>
<text x="248.40" y="589.20" font-size="8.6" font-weight="bold" stroke="#111" stroke-width="0.22" fill="#111" transform="rotate(-44 248.40 589.20)">NCM460</text>
<text x="271.90" y="589.20" font-size="8.6" font-weight="bold" stroke="#111" stroke-width="0.22" fill="#111" transform="rotate(-44 271.90 589.20)">LOVO</text>
<text x="294.70" y="589.20" font-size="8.6" font-weight="bold" stroke="#111" stroke-width="0.22" fill="#111" transform="rotate(-44 294.70 589.20)">DLD-1</text>
<text x="317.20" y="589.20" font-size="8.6" font-weight="bold" stroke="#111" stroke-width="0.22" fill="#111" transform="rotate(-44 317.20 589.20)">SW480</text>
<text x="340.40" y="589.20" font-size="8.6" font-weight="bold" stroke="#111" stroke-width="0.22" fill="#111" transform="rotate(-44 340.40 589.20)">HCT116</text>
<text x="365.00" y="589.20" font-size="8.6" font-weight="bold" stroke="#111" stroke-width="0.22" fill="#111" transform="rotate(-44 365.00 589.20)">HT-29</text>
</g>
</svg>
</body>
</html>
